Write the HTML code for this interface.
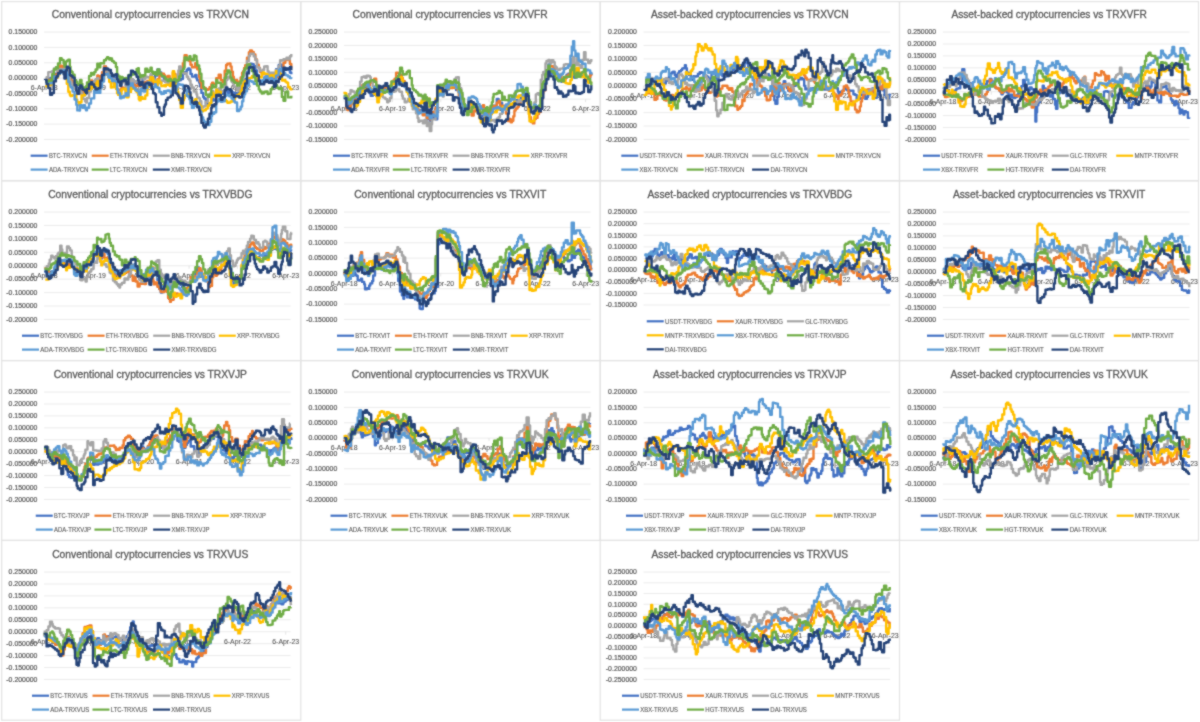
<!DOCTYPE html>
<html><head><meta charset="utf-8"><style>
html,body{margin:0;padding:0;background:#fff;}
svg{display:block;font-family:"Liberation Sans",sans-serif;}
</style></head><body>
<svg width="1200" height="722" viewBox="0 0 1200 722">
<defs><filter id="bl" x="0" y="0" width="1200" height="722" filterUnits="userSpaceOnUse" color-interpolation-filters="sRGB"><feConvolveMatrix order="3" kernelMatrix="1 2 1 2 12 2 1 2 1" preserveAlpha="true" edgeMode="duplicate"/></filter></defs>
<rect width="1200" height="722" fill="#fff"/>
<g filter="url(#bl)"><rect width="1200" height="722" fill="#fff"/>
<rect x="1.7" y="1.6" width="299.1" height="179.2" fill="none" stroke="#E3E3E3" stroke-width="1.2"/>
<rect x="300.8" y="1.6" width="299.4" height="179.2" fill="none" stroke="#E3E3E3" stroke-width="1.2"/>
<rect x="600.2" y="1.6" width="299.3" height="179.2" fill="none" stroke="#E3E3E3" stroke-width="1.2"/>
<rect x="899.5" y="1.6" width="299.0" height="179.2" fill="none" stroke="#E3E3E3" stroke-width="1.2"/>
<rect x="1.7" y="180.8" width="299.1" height="179.8" fill="none" stroke="#E3E3E3" stroke-width="1.2"/>
<rect x="300.8" y="180.8" width="299.4" height="179.8" fill="none" stroke="#E3E3E3" stroke-width="1.2"/>
<rect x="600.2" y="180.8" width="299.3" height="179.8" fill="none" stroke="#E3E3E3" stroke-width="1.2"/>
<rect x="899.5" y="180.8" width="299.0" height="179.8" fill="none" stroke="#E3E3E3" stroke-width="1.2"/>
<rect x="1.7" y="360.6" width="299.1" height="179.8" fill="none" stroke="#E3E3E3" stroke-width="1.2"/>
<rect x="300.8" y="360.6" width="299.4" height="179.8" fill="none" stroke="#E3E3E3" stroke-width="1.2"/>
<rect x="600.2" y="360.6" width="299.3" height="179.8" fill="none" stroke="#E3E3E3" stroke-width="1.2"/>
<rect x="899.5" y="360.6" width="299.0" height="179.8" fill="none" stroke="#E3E3E3" stroke-width="1.2"/>
<rect x="1.7" y="540.4" width="299.1" height="179.8" fill="none" stroke="#E3E3E3" stroke-width="1.2"/>
<rect x="600.2" y="540.4" width="299.3" height="179.8" fill="none" stroke="#E3E3E3" stroke-width="1.2"/>
<g transform="translate(0,0)">
<text x="150.30" y="18.2" text-anchor="middle" font-size="10.6" fill="#595959" stroke="#595959" stroke-width="0.3" textLength="197.2" lengthAdjust="spacingAndGlyphs">Conventional cryptocurrencies vs TRXVCN</text>
<line x1="44.10" x2="290.60" y1="32.05" y2="32.05" stroke="#E9E9E9" stroke-width="0.9"/>
<text x="37.40" y="34.35" text-anchor="end" font-size="7.3" fill="#595959" stroke="#595959" stroke-width="0.22" textLength="28.78" lengthAdjust="spacingAndGlyphs">0.150000</text>
<line x1="44.10" x2="290.60" y1="47.39" y2="47.39" stroke="#E9E9E9" stroke-width="0.9"/>
<text x="37.40" y="49.69" text-anchor="end" font-size="7.3" fill="#595959" stroke="#595959" stroke-width="0.22" textLength="28.78" lengthAdjust="spacingAndGlyphs">0.100000</text>
<line x1="44.10" x2="290.60" y1="62.74" y2="62.74" stroke="#E9E9E9" stroke-width="0.9"/>
<text x="37.40" y="65.04" text-anchor="end" font-size="7.3" fill="#595959" stroke="#595959" stroke-width="0.22" textLength="28.78" lengthAdjust="spacingAndGlyphs">0.050000</text>
<line x1="44.10" x2="290.60" y1="78.08" y2="78.08" stroke="#E9E9E9" stroke-width="0.9"/>
<text x="37.40" y="80.38" text-anchor="end" font-size="7.3" fill="#595959" stroke="#595959" stroke-width="0.22" textLength="28.78" lengthAdjust="spacingAndGlyphs">0.000000</text>
<line x1="44.10" x2="290.60" y1="93.42" y2="93.42" stroke="#E9E9E9" stroke-width="0.9"/>
<text x="37.40" y="95.72" text-anchor="end" font-size="7.3" fill="#595959" stroke="#595959" stroke-width="0.22" textLength="31.07" lengthAdjust="spacingAndGlyphs">-0.050000</text>
<line x1="44.10" x2="290.60" y1="108.76" y2="108.76" stroke="#E9E9E9" stroke-width="0.9"/>
<text x="37.40" y="111.06" text-anchor="end" font-size="7.3" fill="#595959" stroke="#595959" stroke-width="0.22" textLength="31.07" lengthAdjust="spacingAndGlyphs">-0.100000</text>
<line x1="44.10" x2="290.60" y1="124.11" y2="124.11" stroke="#E9E9E9" stroke-width="0.9"/>
<text x="37.40" y="126.41" text-anchor="end" font-size="7.3" fill="#595959" stroke="#595959" stroke-width="0.22" textLength="31.07" lengthAdjust="spacingAndGlyphs">-0.150000</text>
<line x1="44.10" x2="290.60" y1="139.45" y2="139.45" stroke="#E9E9E9" stroke-width="0.9"/>
<text x="37.40" y="141.75" text-anchor="end" font-size="7.3" fill="#595959" stroke="#595959" stroke-width="0.22" textLength="31.07" lengthAdjust="spacingAndGlyphs">-0.200000</text>
<text x="44.2" y="90.38" text-anchor="middle" font-size="6.9" fill="#595959" stroke="#595959" stroke-width="0.1">6-Apr-18</text>
<line x1="44.20" x2="44.20" y1="78.08" y2="81.08" stroke="#DDDDDD" stroke-width="0.8"/>
<text x="92.5" y="90.38" text-anchor="middle" font-size="6.9" fill="#595959" stroke="#595959" stroke-width="0.1">6-Apr-19</text>
<line x1="92.50" x2="92.50" y1="78.08" y2="81.08" stroke="#DDDDDD" stroke-width="0.8"/>
<text x="140.8" y="90.38" text-anchor="middle" font-size="6.9" fill="#595959" stroke="#595959" stroke-width="0.1">6-Apr-20</text>
<line x1="140.80" x2="140.80" y1="78.08" y2="81.08" stroke="#DDDDDD" stroke-width="0.8"/>
<text x="189.1" y="90.38" text-anchor="middle" font-size="6.9" fill="#595959" stroke="#595959" stroke-width="0.1">6-Apr-21</text>
<line x1="189.10" x2="189.10" y1="78.08" y2="81.08" stroke="#DDDDDD" stroke-width="0.8"/>
<text x="237.4" y="90.38" text-anchor="middle" font-size="6.9" fill="#595959" stroke="#595959" stroke-width="0.1">6-Apr-22</text>
<line x1="237.40" x2="237.40" y1="78.08" y2="81.08" stroke="#DDDDDD" stroke-width="0.8"/>
<text x="285.7" y="90.38" text-anchor="middle" font-size="6.9" fill="#595959" stroke="#595959" stroke-width="0.1">6-Apr-23</text>
<line x1="285.70" x2="285.70" y1="78.08" y2="81.08" stroke="#DDDDDD" stroke-width="0.8"/>
<path transform="scale(0.1)" d="M453 815h13v-15h17v-8h18v-12h20v6h18v-33h20v-15h7v5h14v-28h20v-22h16v4h20v-17h8v26h14v-30h10v39h15v34h15v26h7v22h10v16h11v13h20v29h17v18h10v3h18v43h9v-16h15v21h9v26h7v3h19v-11h10v-8h10v-35h21v-61h19v-17h11v26h21v-19h14v-26h17v-19h10v58h20v-28h17v-55h20v-91h20v16h11v25h12v24h9v7h9v-14h8v27h11v33h16v-24h7v15h16v-3h12v37h11v16h19v14h14v-35h11v9h14v5h17v35h7v38h21v-42h7v-16h18v-40h19v5h7v15h18v10h12v4h15v-4h7v1h8v-1h10v-35h20v25h10v17h17v3h20v-8h20v-9h12v-48h12v37h15v-6h17v-56h9v11h17v-61h19v30h19v28h7v13h20v29h9v20h11v7h16v-6h20v20h12v-2h20v-25h14v12h12v51h11v-30h9v-31h9v-4h9v-4h16v-12h21v-64h10v13h7v-16h21v-25h15v-13h12v9h11v45h15v27h18h14v-17h13v36h7v19h20v23h8v37h14v65h18v41h9v15h17v56h21v10h16v-18h18v-29h8v-19h13v21h9v-10h19v-67h11v21h14v-23h21v12h18v-4h21v-26h14v-15h13v33h18v-15h13v-4h11v13h13v3h9v16h12v-7h21v16h21v-26h15v-19h14v-46h12v-29h8v-30h11v-7h18v-72h19v-58h12v-24h18v3h18v22h17v41h16v48h18v49h12v18h17v-12h11v-5h14v-9h17v-4h17v6h11v-4h20v-9h16v19h16v-9h7v-31h14v-69h11v11h16v-53h14v-4h18v46h16v-2h18v-9h12h16v17h18v27h14v17" fill="none" stroke="#4472C4" stroke-width="24.0" stroke-linejoin="round"/>
<path transform="scale(0.1)" d="M453 804h13v8h17v-16h18v6h20v-4h18v-24h20v-23h7v-12h14v-42h20v-40h16v11h20v-11h8v40h14v-22h10v32h15v36h15v29h7v28h10v11h11v28h20v49h17v23h10v10h18v16h9v-21h15v-4h9v16h7v-8h19v-23h10v-1h10v-34h21v-54h19v-4h11v33h21v-19h14v-15h17v-49h10v40h20v-35h17v-37h20v-58h20v38h11v18h12v35h9v-16h9v-9h8v25h11v45h16v28h7v3h16v18h12v41h11v7h19v11h14v-33h11v2h14v13h17v37h7v35h21v-70h7v7h18v-36h19v-29h7v15h18v12h12v-4h15v-18h7v15h8v5h10v-37h20v16h10v6h17v-23h20v-12h20v-2h12v-47h12v58h15v21h17v-15h9v27h17v-59h19v-36h19v-22h7v2h20v15h9v17h11v2h16v-10h20v35h12v12h20v-81h14v13h12v36h11v-6h9v6h9v-5h9v-31h16v-36h21v-72h10v-26h7v-52h21v38h15v11h12v9h11v37h15v26h18v-1h14v-41h13v9h7v51h20v81h8v44h14v62h18v-2h9v2h17v20h21v-7h16v-19h18v-31h8v-16h13v15h9v-2h19v-57h11v-1h14v-33h21v53h18v22h21v-115h14v-58h13v-14h18v-2h13v30h11v53h13v50h9v30h12v3h21v39h21v-21h15v-43h14v-47h12v-19h8v-30h11v-27h18v-75h19v-55h12v-17h18v14h18v26h17v50h16v53h18v29h12v41h17v16h11v10h14v-3h17v-1h17v19h11v6h20v-23h16v4h16v28h7v-3h14v-20h11v16h16v-36h14v-27h18v-13h16v-63h18v-27h12h16v-2h18v40h14v36" fill="none" stroke="#ED7D31" stroke-width="24.0" stroke-linejoin="round"/>
<path transform="scale(0.1)" d="M453 801h13v-28h17v-52h18v-1h20v-9h18v-27h20v10h7v12h14v-12h20v-5h16v12h20v-11h8v16h14v-30h10v30h15v75h15v23h7v15h10v20h11v22h20v26h17v5h10v8h18v11h9v7h15v20h9v37h7v14h19v24h10v12h10v-45h21v-64h19v-72h11v-20h21v-17h14v-16h17v-10h10v57h20v-22h17v-50h20v-74h20v3h11v14h12v26h9v3h9v-20h8v18h11v53h16v5h7v1h16v8h12v22h11v-8h19v6h14v-28h11v27h14v-5h17v46h7v39h21v-72h7h18v-37h19v12h7v9h18v5h12v-7h15v-15h7v5h8v1h10v-50h20v18h10v21h17v-26h20v6h20v6h12v-36h12v29h15v23h17v10h9v48h17v-22h19v2h19v-27h7v2h20h9v14h11v-18h16v24h20v20h12v9h20v-50h14h12v21h11v-44h9v-38h9v-40h9v-40h16v32h21v29h10v9h7v-3h21v36h15v21h12v15h11v43h15v28h18v40h14v-1h13v31h7v33h20v6h8v29h14v63h18v-11h9v-4h17v-44h21v-64h16v-15h18v-18h8v-11h13v45h9v5h19v-67h11v8h14v-16h21v30h18v-4h21v-58h14v-52h13v-34h18v17h13v1h11v33h13v18h9v30h12v6h21v35h21v-27h15v-31h14v-55h12v-38h8v-21h11v-48h18v-77h19v-50h12v-23h18v1h18v27h17v36h16v71h18v11h12v25h17v-1h11v-9h14v-32h17v-3h17v50h11v35h20v-21h16v2h16v29h7v-18h14v-40h11v13h16v-53h14v-57h18v3h16v-14h18v1h12v-14h16v14h18v-30h14v-23" fill="none" stroke="#A5A5A5" stroke-width="24.0" stroke-linejoin="round"/>
<path transform="scale(0.1)" d="M453 861h13v2h17v-11h18v-8h20v-14h18v-47h20v-17h7v10h14v-34h20v-16h16v-5h20v-8h8v14h14v24h10v86h15v80h15v31h7v12h10v-3h11v-6h20v2h17v43h10v25h18v29h9v-28h15v-68h9v3h7v-4h19v-48h10v12h10v-15h21v-9h19v-34h11v16h21v-18h14v-20h17v-26h10v53h20v-23h17v-44h20v-57h20v5h11h12v27h9v45h9v6h8v53h11v-3h16v-40h7v15h16v40h12v44h11v17h19v-9h14v-44h11v-5h14v-4h17v43h7v43h21v-62h7v8h18v-40h19v10h7v-6h18v22h12v15h15v29h7v43h8v12h10v-33h20v18h10h17v-35h20v-87h20v-60h12v-34h12v2h15v39h17v13h9v35h17v-63h19v25h19v36h7v1h20v-9h9v10h11v-14h16v1h20v11h12v-63h20v-84h14v41h12v93h11v32h9v38h9v32h9v52h16v76h21v-75h10v-20h7v-28h21v-4h15v-6h12v2h11v38h15v28h18v8h14v-29h13v31h7v11h20v15h8v14h14v51h18v-8h9v-2h17v-17h21v-31h16v-26h18v-54h8v-47h13v21h9v16h19v-69h11v26h14v-5h21v52h18v25h21v6h14v12h13v15h18v-1h13v-12h11v2h13v-23h9v2h12v-29h21v-17h21v-11h15v-31h14v-45h12v-24h8v-22h11v-10h18v-12h19v-13h12v-1h18v-17h18v-6h17v24h16v8h18v-18h12v3h17v-38h11v-11h14v12h17v6h17v22h11v6h20v-19h16v8h16v8h7v-19h14v-38h11v17h16v10h14v3h18v65h16v-7h18v17h12v10h16v44h18v20h14v14" fill="none" stroke="#FFC000" stroke-width="24.0" stroke-linejoin="round"/>
<path transform="scale(0.1)" d="M453 815h13v-2h17v20h18h20v-15h18v-51h20v-2h7v-1h14v-26h20v-10h16v-16h20v-10h8v27h14v-19h10v39h15v71h15v33h7v15h10v10h11v38h20v79h17v53h10v56h18v1h9v-52h15v2h9v23h7v-26h19v30h10v20h10v-25h21v-42h19v-49h11v-2h21v-77h14v21h17v-24h10v25h20v-57h17v-57h20v-75h20v5h11v-7h12v33h9v6h9v-18h8v24h11v28h16v-8h7v8h16v5h12v79h11v36h19v51h14v-17h11v10h14v-17h17v-25h7v22h21v-94h7v-6h18v-21h19v31h7v16h18v19h12v9h15v5h7v23h8v12h10v-62h20v23h10v6h17v-39h20v-53h20v2h12v17h12v30h15h17v-30h9v26h17v11h19v40h19v20h7v-2h20v-27h9v18h11v-20h16v-4h20v9h12v15h20v-30h14v-23h12v31h11v-34h9v-23h9v-10h9v5h16v2h21v16h10v21h7v14h21v60h15v10h12v24h11v49h15v38h18v-18h14v-41h13v28h7v11h20v13h8v45h14v57h18v28h9v17h17v31h21h16v-32h18v-58h8v-32h13v9h9v-14h19v-100h11v-11h14v-19h21v24h18v-5h21v-52h14v-14h13v6h18v10h13v1h11v22h13v5h9v22h12v13h21v85h21v-16h15v-28h14v-53h12v-42h8v-28h11v-31h18v-57h19v-51h12v7h18v7h18v20h17v-1h16v-26h18v-8h12v28h17v-18h11v-10h14v-30h17v-10h17v21h11v9h20v-13h16v19h16v37h7v-15h14v-65h11v-2h16v-52h14v-15h18v29h16v13h18v20h12v5h16v11h18v16h14v-9" fill="none" stroke="#5B9BD5" stroke-width="24.0" stroke-linejoin="round"/>
<path transform="scale(0.1)" d="M453 818h13v-2h17v-9h18v-2h20v-63h18v-50h20v-20h7v10h14v-47h20v-54h16v18h20v33h8v34h14v-50h10v-10h15v-8h15v69h7v39h10v13h11v28h20v54h17v18h10v28h18v-7h9v-40h15v40h9v36h7v5h19v-10h10v-10h10v-37h21v-65h19v-29h11v16h21v-25h14v-26h17v-59h10v37h20v-40h17v1h20v-31h20v-17h11v-14h12v8h9v16h9v-14h8v3h11v25h16v9h7v10h16v41h12v74h11v21h19v38h14v-34h11v13h14v25h17v-27h7v10h21v-41h7v22h18v-38h19v12h7v-2h18v-19h12v-34h15v-9h7v52h8v37h10v-16h20v9h10v-11h17v-64h20v30h20v-14h12v-28h12v42h15v19h17v-14h9v25h17v-54h19v43h19v16h7v8h20v5h9v17h11v11h16v17h20v-21h12v17h20v-2h14v-16h12v27h11v-15h9v1h9v-5h9v-32h16v-52h21v-22h10v-17h7v-99h21v25h15v-14h12v-24h11v28h15v12h18v-48h14v8h13v44h7v48h20v35h8v49h14v73h18v58h9v21h17v58h21v19h16v-19h18v-68h8v-31h13v23h9v-5h19v-67h11v27h14v1h21v44h18v-28h21v-66h14v-38h13v-35h18v18h13v51h11v30h13v-5h9v19h12v11h21v26h21v-23h15v-28h14v-37h12v-45h8v-25h11v-17h18v-34h19v-5h12v31h18v38h18v63h17v37h16v46h18v38h12v21h17v21h11v-3h14v-16h17v-2h17v26h11v-5h20v-43h16v-20h16v-3h7v-8h14v-11h11v26h16v13h14v-10h18v89h16v39h18v-88h12v-6h16v60h18h14v-17" fill="none" stroke="#70AD47" stroke-width="24.0" stroke-linejoin="round"/>
<path transform="scale(0.1)" d="M450 801v-1h16v41h17v40h18v67h20v-18h18v-116h20v-34h7v-18h14v-29h20v-26h16v12h20v24h8v42h14v-81h10v-36h15v13h15v69h7v5h10v5h11v16h20v77h17v51h10v33h18v-57h9v-25h15v13h9v24h7v6h19v18h10v13h10v-40h21v-46h19v-22h11v24h21v26h14v21h17v-4h10v-7h20v-75h17v-56h20v-67h20v11h11v-7h12v9h9v7h9v-4h8v32h11v30h16v-5h7v-8h16v-6h12v51h11v24h19v40h14v-45h11v-2h14v-14h17v20h7v27h21v-88h7v-1h18v-48h19v8h7v8h18v19h12v26h15v35h7v36h8v15h10v-31h20v27h10v32h17v-47h20v-5h20v22h12v-11h12v50h15v43h17v9h9v81h17v49h19v55h19v30h7v-9h20v-80h9v-23h11v-46h16v-23h20v-5h12v-17h20v-129h14v33h12v72h11v5h9v11h9v16h9v19h16v54h21v-104h10v-22h7v-51h21v3h15v20h12v42h11v55h15v48h18v13h14v-19h13v3h7v50h20v32h8v44h14v80h18v29h9v18h17v-32h21v-56h16v-52h18v-58h8v-27h13v13h9v-22h19v-92h11v10h14v-10h21v47h18v-25h21v-72h14v-25h13v16h18v2h13v9h11v46h13v5h9v18h12v-11h21v3h21v12h15v-4h14v-37h12v-14h8v-42h11v-43h18v-101h19v-57h12v-8h18v5h18v38h17v34h16v13h18v50h12v33h17v-2h11v4h14v-24h17v-16h17v15h11v8h20v-14h16v14h16v43h7v-10h14v-47h11v8h16v-32h14v-23h18v-15h16v-75h18v21h12v-7h16v-2h18v-18h14v32" fill="none" stroke="#264478" stroke-width="24.0" stroke-linejoin="round"/>
<line x1="30.60" x2="47.60" y1="155.70" y2="155.70" stroke="#4472C4" stroke-width="2.2"/>
<text x="48.90" y="158.10" font-size="6.9" fill="#595959" stroke="#595959" stroke-width="0.12" textLength="38.0" lengthAdjust="spacingAndGlyphs">BTC-TRXVCN</text>
<line x1="91.70" x2="108.70" y1="155.70" y2="155.70" stroke="#ED7D31" stroke-width="2.2"/>
<text x="110.00" y="158.10" font-size="6.9" fill="#595959" stroke="#595959" stroke-width="0.12" textLength="38.3" lengthAdjust="spacingAndGlyphs">ETH-TRXVCN</text>
<line x1="152.80" x2="169.80" y1="155.70" y2="155.70" stroke="#A5A5A5" stroke-width="2.2"/>
<text x="171.10" y="158.10" font-size="6.9" fill="#595959" stroke="#595959" stroke-width="0.12" textLength="39.3" lengthAdjust="spacingAndGlyphs">BNB-TRXVCN</text>
<line x1="213.90" x2="230.90" y1="155.70" y2="155.70" stroke="#FFC000" stroke-width="2.2"/>
<text x="232.20" y="158.10" font-size="6.9" fill="#595959" stroke="#595959" stroke-width="0.12" textLength="38.1" lengthAdjust="spacingAndGlyphs">XRP-TRXVCN</text>
<line x1="30.60" x2="47.60" y1="169.60" y2="169.60" stroke="#5B9BD5" stroke-width="2.2"/>
<text x="48.90" y="172.00" font-size="6.9" fill="#595959" stroke="#595959" stroke-width="0.12" textLength="39.6" lengthAdjust="spacingAndGlyphs">ADA-TRXVCN</text>
<line x1="91.70" x2="108.70" y1="169.60" y2="169.60" stroke="#70AD47" stroke-width="2.2"/>
<text x="110.00" y="172.00" font-size="6.9" fill="#595959" stroke="#595959" stroke-width="0.12" textLength="37.1" lengthAdjust="spacingAndGlyphs">LTC-TRXVCN</text>
<line x1="152.80" x2="169.80" y1="169.60" y2="169.60" stroke="#264478" stroke-width="2.2"/>
<text x="171.10" y="172.00" font-size="6.9" fill="#595959" stroke="#595959" stroke-width="0.12" textLength="40.6" lengthAdjust="spacingAndGlyphs">XMR-TRXVCN</text>
</g>
<g transform="translate(300,0)">
<text x="150.20" y="18.2" text-anchor="middle" font-size="10.6" fill="#595959" stroke="#595959" stroke-width="0.3" textLength="195.2" lengthAdjust="spacingAndGlyphs">Conventional cryptocurrencies vs TRXVFR</text>
<line x1="44.00" x2="290.50" y1="32.05" y2="32.05" stroke="#E9E9E9" stroke-width="0.9"/>
<text x="37.30" y="34.35" text-anchor="end" font-size="7.3" fill="#595959" stroke="#595959" stroke-width="0.22" textLength="28.78" lengthAdjust="spacingAndGlyphs">0.250000</text>
<line x1="44.00" x2="290.50" y1="45.47" y2="45.47" stroke="#E9E9E9" stroke-width="0.9"/>
<text x="37.30" y="47.77" text-anchor="end" font-size="7.3" fill="#595959" stroke="#595959" stroke-width="0.22" textLength="28.78" lengthAdjust="spacingAndGlyphs">0.200000</text>
<line x1="44.00" x2="290.50" y1="58.90" y2="58.90" stroke="#E9E9E9" stroke-width="0.9"/>
<text x="37.30" y="61.20" text-anchor="end" font-size="7.3" fill="#595959" stroke="#595959" stroke-width="0.22" textLength="28.78" lengthAdjust="spacingAndGlyphs">0.150000</text>
<line x1="44.00" x2="290.50" y1="72.32" y2="72.32" stroke="#E9E9E9" stroke-width="0.9"/>
<text x="37.30" y="74.62" text-anchor="end" font-size="7.3" fill="#595959" stroke="#595959" stroke-width="0.22" textLength="28.78" lengthAdjust="spacingAndGlyphs">0.100000</text>
<line x1="44.00" x2="290.50" y1="85.75" y2="85.75" stroke="#E9E9E9" stroke-width="0.9"/>
<text x="37.30" y="88.05" text-anchor="end" font-size="7.3" fill="#595959" stroke="#595959" stroke-width="0.22" textLength="28.78" lengthAdjust="spacingAndGlyphs">0.050000</text>
<line x1="44.00" x2="290.50" y1="99.17" y2="99.17" stroke="#E9E9E9" stroke-width="0.9"/>
<text x="37.30" y="101.47" text-anchor="end" font-size="7.3" fill="#595959" stroke="#595959" stroke-width="0.22" textLength="28.78" lengthAdjust="spacingAndGlyphs">0.000000</text>
<line x1="44.00" x2="290.50" y1="112.60" y2="112.60" stroke="#E9E9E9" stroke-width="0.9"/>
<text x="37.30" y="114.90" text-anchor="end" font-size="7.3" fill="#595959" stroke="#595959" stroke-width="0.22" textLength="31.07" lengthAdjust="spacingAndGlyphs">-0.050000</text>
<line x1="44.00" x2="290.50" y1="126.02" y2="126.02" stroke="#E9E9E9" stroke-width="0.9"/>
<text x="37.30" y="128.32" text-anchor="end" font-size="7.3" fill="#595959" stroke="#595959" stroke-width="0.22" textLength="31.07" lengthAdjust="spacingAndGlyphs">-0.100000</text>
<line x1="44.00" x2="290.50" y1="139.45" y2="139.45" stroke="#E9E9E9" stroke-width="0.9"/>
<text x="37.30" y="141.75" text-anchor="end" font-size="7.3" fill="#595959" stroke="#595959" stroke-width="0.22" textLength="31.07" lengthAdjust="spacingAndGlyphs">-0.150000</text>
<text x="44.1" y="111.47" text-anchor="middle" font-size="6.9" fill="#595959" stroke="#595959" stroke-width="0.1">6-Apr-18</text>
<line x1="44.10" x2="44.10" y1="99.17" y2="102.17" stroke="#DDDDDD" stroke-width="0.8"/>
<text x="92.4" y="111.47" text-anchor="middle" font-size="6.9" fill="#595959" stroke="#595959" stroke-width="0.1">6-Apr-19</text>
<line x1="92.40" x2="92.40" y1="99.17" y2="102.17" stroke="#DDDDDD" stroke-width="0.8"/>
<text x="140.7" y="111.47" text-anchor="middle" font-size="6.9" fill="#595959" stroke="#595959" stroke-width="0.1">6-Apr-20</text>
<line x1="140.70" x2="140.70" y1="99.17" y2="102.17" stroke="#DDDDDD" stroke-width="0.8"/>
<text x="189.0" y="111.47" text-anchor="middle" font-size="6.9" fill="#595959" stroke="#595959" stroke-width="0.1">6-Apr-21</text>
<line x1="189.00" x2="189.00" y1="99.17" y2="102.17" stroke="#DDDDDD" stroke-width="0.8"/>
<text x="237.3" y="111.47" text-anchor="middle" font-size="6.9" fill="#595959" stroke="#595959" stroke-width="0.1">6-Apr-22</text>
<line x1="237.30" x2="237.30" y1="99.17" y2="102.17" stroke="#DDDDDD" stroke-width="0.8"/>
<text x="285.6" y="111.47" text-anchor="middle" font-size="6.9" fill="#595959" stroke="#595959" stroke-width="0.1">6-Apr-23</text>
<line x1="285.60" x2="285.60" y1="99.17" y2="102.17" stroke="#DDDDDD" stroke-width="0.8"/>
<path transform="scale(0.1)" d="M446 967v-1h17v35h11v36h15v34h16v-24h9v-19h9v1h20v-21h7v-13h20v-23h11v-25h20v-43h15v-15h19v-24h16v5h15v-2h20v42h13v24h9v25h19v-11h15v-16h20v-16h11v52h16v-57h7v-17h11v-2h20v2h8v-1h19v-1h18v-12h11v17h16v16h16v-39h20v-2h11v-3h15v-37h20v2h12v-1h8v-13h19v10h8v8h19v33h20v27h16v1h15v59h20v58h9v37h12v16h21v15h16v8h9v35h11v-23h18v-4h14v47h17v-20h11v15h12v46h13v-51h16v72h16v-16h8v-39h17v24h18v14h17v-256h12v-2h12v-7h20v-3h11v13h9v-28h20v-31h12v17h21v-24h19v7h20v-8h16v-21h15v51h15v-20h13v44h11v37h14v50h12v90h15v-17h9v-20h19v13h18v-76h20v18h10v25h21v38h8v-9h17v5h9v12h7v16h18v31h12v25h20v-7h13v28h18v-32h9v-5h8v45h17v-16h13v-58h13v-6h10v-32h7v-23h12h20v-66h18v30h14v8h21v50h7v-16h20v10h12h20h8v-25h19v3h13v11h13v-10h11v-40h13v-8h18v13h13v-3h20v-36h20v38h10v-23h20v-32h18v7h11v76h8v37h15v21h19v-27h14v-21h15v8h17v10h15v10h18v-134h15v-71h10v-42h7v-15h15v-71h10v-24h19v-47h11v64h18v-11h21v10h13v44h14v-10h10v9h12v27h17v-6h14v14h16v-9h9v-31h16v-1h10v-29h19v-12h20v2h14v-19h13v-10h11v68h12v-2h14v-63h18v33h20v16h17v8h17v-11h15v50h8v-17h19v-14h20v-41h11v15" fill="none" stroke="#4472C4" stroke-width="24.0" stroke-linejoin="round"/>
<path transform="scale(0.1)" d="M446 967v1h17v111h11v21h15v-29h16v-25h9v-18h9v-7h20v-27h7v-6h20v-35h11v-34h20v-55h15v-10h19v-12h16v13h15v-6h20v4h13v-25h9v-2h19v-14h15v-24h20v65h11v77h16v-41h7v-12h11v-2h20v13h8v-14h19v-6h18v23h11v-3h16v-24h16v-48h20v-13h11v-16h15v-59h20v2h12v16h8v3h19v30h8v30h19v32h20v42h16v23h15v59h20v39h9v45h12v9h21v13h16v27h9v29h11v-13h18v7h14v31h17v-40h11v25h12v44h13v-51h16v62h16v-42h8v-28h17v33h18v-76h17v-197h12v24h12v-7h20v-1h11v2h9v-29h20v-57h12v40h21v-17h19v44h20v-2h16v-27h15v14h15v33h13v56h11v8h14v72h12v42h15v24h9v-15h19v15h18v-85h20v17h10v122h21v-47h8v4h17v-24h9v-5h7v11h18v-9h12v-17h20v-16h13v60h18v-16h9v7h8v36h17v-32h13v-39h13h10v2h7v-10h12v19h20v-53h18v-17h14v47h21v29h7v-27h20v35h12v42h20v75h8v-21h19v34h13v-16h13v-45h11v-57h13v-20h18v-17h13v-25h20v-39h20v4h10v-40h20h18v41h11v99h8v64h15v48h19v14h14v-43h15v-12h17v-39h15v-21h18v-123h15v-60h10v-36h7v3h15v-106h10v-42h19v-109h11v19h18v-4h21v17h13v55h14v-4h10v19h12v7h17v-8h14v39h16v26h9v-16h16v-16h10v-21h19v-12h20v-49h14v-54h13v11h11v66h12v8h14v-46h18v44h20v4h17v-1h17v3h15v62h8v-17h19v-9h20v-19h11v-12" fill="none" stroke="#ED7D31" stroke-width="24.0" stroke-linejoin="round"/>
<path transform="scale(0.1)" d="M446 980v-1h17v-16h11v4h15v-26h16v-38h9v2h9v10h20v9h7v5h20v7h11v-19h20v-101h15v-45h19v-7h16v14h15v-21h20v3h13v12h9v33h19v57h15v23h20v28h11v68h16v-35h7h11v8h20v17h8v5h19v15h18v31h11v-12h16v-30h16v-64h20v2h11v-6h15v-17h20v-5h12v25h8v3h19v39h8v29h19v37h20v-9h16v-28h15v32h20v43h9v32h12v1h21v39h16v47h9v37h11v-10h18v-1h14v27h17v-33h11v5h12v55h13v-36h16v86h16v-67h8v-49h17h18v-88h17v-174h12v8h12v-19h20v12h11v32h9v-37h20v-66h12v-1h21v-24h19v1h20v-11h16v-38h15v-14h15v-2h13v67h11v43h14v63h12v65h15v39h9v29h19v23h18v-102h20v10h10v17h21v23h8v11h17v4h9v4h7v21h18v28h12v20h20v-6h13v31h18v-21h9v11h8v53h17v8h13v-8h13v-3h10v3h7v-7h12v20h20v-31h18v-16h14v-33h21v-9h7v-42h20v6h12v6h20v-6h8v-44h19v-8h13v10h13v-4h11v-30h13v-2h18h13v-14h20v11h20v25h10v-27h20v-36h18v-13h11v72h8v39h15v19h19v-8h14v-60h15v-80h17v-13h15v16h18v-151h15v-50h10v-26h7v3h15v-90h10v-23h19v-10h11v35h18v-32h21v18h13v44h14v9h10v18h12v5h17v-11h14h16v-9h9v-31h16v-3h10v-2h19v14h20v-23h14v-45h13v-18h11v62h12v19h14v-67h18v69h20v26h17v-79h17v-76h15v72h8v3h19v32h20v-20h11v-20" fill="none" stroke="#A5A5A5" stroke-width="24.0" stroke-linejoin="round"/>
<path transform="scale(0.1)" d="M446 918v15h17v31h11v41h15v9h16h9v-12h9v20h20v23h7v18h20v-10h11v-35h20v-68h15v-37h19v-21h16v5h15v-10h20v-2h13v-6h9v15h19v30h15v19h20v19h11v61h16v-40h7v-22h11v-19h20v-29h8v-4h19v-7h18v-9h11v1h16v3h16v-56h20h11v-13h15v-23h20v-9h12v1h8v-24h19v23h8v27h19v38h20v60h16v23h15v64h20v34h9v24h12v10h21v-25h16v12h9h11v-30h18v-25h14v20h17v-56h11v13h12v41h13v-38h16v77h16v-16h8v-18h17v6h18v-50h17v-92h12v39h12v-17h20v15h11v-21h9v-21h20v-36h12v30h21v-18h19v-5h20v-1h16v-20h15v38h15h13v41h11v26h14v52h12v70h15v-1h9v7h19v26h18v-76h20v2h10v21h21v24h8v11h17v9h9v6h7v34h18v56h12v36h20v-30h13v14h18v-50h9v15h8v40h17v-16h13v-53h13v-15h10v-1h7v-8h12v4h20v-26h18v-20h14v6h21v12h7v-24h20v16h12v1h20v8h8v-50h19v-8h13v8h13v-19h11v-56h13v-6h18v11h13v-20h20v-4h20v45h10v-11h20v-2h18v53h11v103h8v73h15v4h19v-8h14v-40h15v-31h17v-21h15v-21h18v-135h15v-64h10v-48h7v-14h15v-86h10v-26h19v-54h11v43h18v-16h21v18h13v34h14v-6h10v17h12v39h17v-3h14v6h16v17h9v-18h16v30h10v5h19v5h20v-39h14v-57h13v-34h11v17h12v1h14v-47h18v57h20v33h17h17v-30h15v46h8v-13h19v55h20v-10h11v-1" fill="none" stroke="#FFC000" stroke-width="24.0" stroke-linejoin="round"/>
<path transform="scale(0.1)" d="M446 978v-4h17v8h11v26h15v28h16v-8h9v-15h9v-34h20v-13h7v5h20v-30h11v-16h20v-49h15v7h19v-39h16v9h15v-16h20v38h13v18h9v16h19v-13h15v-25h20v18h11v57h16v-26h7v-4h11v-1h20v-5h8v-1h19v-9h18v8h11v15h16v18h16v-63h20v-7h11v5h15v-31h20h12v5h8v-15h19v8h8v12h19v13h20v35h16v11h15v51h20v52h9v37h12v24h21v14h16v29h9v14h11v-10h18v-16h14v11h17v-33h11v11h12v55h13v-43h16v73h16v-18h8v-21h17v12h18v8h17v-208h12h12v-18h20v16h11v-10h9v-50h20v-58h12v41h21v-24h19v-7h20v6h16v-11h15v34h15v5h13v42h11v44h14v70h12v86h15v-40h9v-19h19v-8h18v-77h20v-4h10v-9h21v5h8v9h17v11h9v26h7v25h18v22h12v27h20v8h13v53h18v-20h9v16h8v61h17v-28h13v-51h13v-8h10v-31h7v-6h12v-1h20v-10h18v7h14v6h21v30h7v-26h20v-28h12v-17h20v-7h8v-25h19v-28h13v11h13v-2h11v-38h13v-47h18v-67h13v-2h20v28h20v86h10v-26h20v-13h18v44h11v52h8v22h15v40h19v-3h14v-23h15v14h17v4h15v-7h18v-124h15v-53h10v-49h7v6h15v-95h10v-35h19v-62h11v54h18v-7h21v7h13v40h14v-24h10v20h12v43h17v-25h14v-14h16v-15h9v-35h16v-7h10v-6h19v-22h20v-97h14v-92h13v-54h11v92h12v57h14v-24h18v68h20v15h17v19h17v-3h15v73h8v-11h19v6h20v22h11v18" fill="none" stroke="#5B9BD5" stroke-width="24.0" stroke-linejoin="round"/>
<path transform="scale(0.1)" d="M446 957v-1h17v21h11v18h15v2h16v-13h9v-10h9v-7h20v-12h7v-2h20v-45h11v-20h20v-8h15v-1h19v-31h16v-21h15v-10h20v6h13v-15h9v-4h19v-1h15v15h20v35h11v63h16v-46h7v5h11v24h20v16h8v13h19v-9h18v-18h11v-26h16v-17h16v-44h20v1h11v-1h15v-33h20v-25h12v-21h8v-57h19v32h8v36h19v-4h20v-23h16v-13h15v75h20v72h9v36h12v15h21v17h16v14h9v21h11v-9h18v16h14v29h17v-46h11v24h12v40h13v-24h16v71h16v-17h8v-17h17v2h18v-7h17v-167h12v13h12v-16h20v5h11v3h9v-18h20v-42h12v21h21v-5h19v21h20v-16h16v-16h15v28h15v-4h13v63h11v13h14v25h12v61h15v53h9v40h19v71h18v-40h20v6h10v-44h21v-41h8v17h17v11h9v22h7v22h18v23h12v-1h20v-23h13v4h18v-28h9v-6h8v46h17v-23h13v-40h13v-35h10v-49h7v-33h12v2h20v-8h18v-23h14v17h21v72h7v-32h20v33h12v1h20v3h8v-49h19v-1h13v15h13v-3h11v-32h13v-18h18v-9h13h20v-12h20v30h10v-26h20v-19h18v51h11v65h8v24h15v59h19v-3h14v-9h15v23h17v-10h15v-22h18v-153h15v-65h10v-22h7v-6h15v-73h10v-37h19v-44h11v57h18v-4h21v18h13v65h14v-13h10v15h12v14h17v-1h14v-15h16v18h9v-43h16v3h10v-5h19v2h20v-66h14v-29h13v-22h11v88h12v32h14v-44h18v40h20v-32h17v-17h17v-27h15v56h8v18h19v25h20v33h11v30" fill="none" stroke="#70AD47" stroke-width="24.0" stroke-linejoin="round"/>
<path transform="scale(0.1)" d="M446 981v1h17v81h11v18h15v4h16v24h9v11h9v-25h20v-64h7v-23h20v20h11v-38h20v-35h15v24h19v-40h16v-32h15v-13h20v28h13v-4h9v3h19v-6h15v-23h20v15h11v47h16v-97h7v4h11v16h20v-13h8v-7h19v-26h18v28h11v28h16v28h16v-15h20v-23h11v-5h15v-64h20v-16h12v45h8v7h19v15h8v-1h19v-28h20v62h16v-5h15v38h20v37h9v25h12v43h21v8h16v8h9v12h11h18v15h14v32h17v-75h11v-2h12v97h13v-27h16v36h16v-48h8v-32h17v-31h18v-17h17v-141h12v17h12v-6h20v6h11v34h9v-14h20v10h12v37h21v-5h19v4h20v58h16v-33h15v1h15v7h13v53h11v44h14v54h12v18h15v-40h9v-24h19v2h18v-68h20v-7h10v10h21v15h8v4h17v31h9v29h7v34h18v42h12v9h20v51h13v25h18v-87h9v4h8v62h17v13h13v-10h13v56h10v23h7v-30h12v-37h20v-56h18v9h14v-6h21v34h7v-16h20v-12h12v-16h20v-57h8v-56h19v-10h13v5h13v-12h11v-30h13v10h18h13v1h20v1h20v13h10v-48h20v-69h18v17h11v87h8v25h15v51h19v13h14v-27h15v-35h17v10h15v31h18v-26h15v-108h10v-81h7v1h15v-62h10v-46h19v-78h11v48h18v2h21v31h13v83h14v-5h10v25h12v37h17v-21h14v21h16v33h9v-12h16v10h10v-19h19v-40h20v5h14v-2h13v-58h11v12h12v69h14v-5h18v9h20v-7h17v-10h17v-120h15v61h8v-3h19v63h20v-25h11v-44" fill="none" stroke="#264478" stroke-width="24.0" stroke-linejoin="round"/>
<line x1="33.00" x2="50.00" y1="155.70" y2="155.70" stroke="#4472C4" stroke-width="2.2"/>
<text x="51.30" y="158.10" font-size="6.9" fill="#595959" stroke="#595959" stroke-width="0.12" textLength="36.7" lengthAdjust="spacingAndGlyphs">BTC-TRXVFR</text>
<line x1="92.80" x2="109.80" y1="155.70" y2="155.70" stroke="#ED7D31" stroke-width="2.2"/>
<text x="111.10" y="158.10" font-size="6.9" fill="#595959" stroke="#595959" stroke-width="0.12" textLength="37.0" lengthAdjust="spacingAndGlyphs">ETH-TRXVFR</text>
<line x1="152.60" x2="169.60" y1="155.70" y2="155.70" stroke="#A5A5A5" stroke-width="2.2"/>
<text x="170.90" y="158.10" font-size="6.9" fill="#595959" stroke="#595959" stroke-width="0.12" textLength="38.0" lengthAdjust="spacingAndGlyphs">BNB-TRXVFR</text>
<line x1="212.40" x2="229.40" y1="155.70" y2="155.70" stroke="#FFC000" stroke-width="2.2"/>
<text x="230.70" y="158.10" font-size="6.9" fill="#595959" stroke="#595959" stroke-width="0.12" textLength="36.8" lengthAdjust="spacingAndGlyphs">XRP-TRXVFR</text>
<line x1="33.00" x2="50.00" y1="169.60" y2="169.60" stroke="#5B9BD5" stroke-width="2.2"/>
<text x="51.30" y="172.00" font-size="6.9" fill="#595959" stroke="#595959" stroke-width="0.12" textLength="38.2" lengthAdjust="spacingAndGlyphs">ADA-TRXVFR</text>
<line x1="92.80" x2="109.80" y1="169.60" y2="169.60" stroke="#70AD47" stroke-width="2.2"/>
<text x="111.10" y="172.00" font-size="6.9" fill="#595959" stroke="#595959" stroke-width="0.12" textLength="35.8" lengthAdjust="spacingAndGlyphs">LTC-TRXVFR</text>
<line x1="152.60" x2="169.60" y1="169.60" y2="169.60" stroke="#264478" stroke-width="2.2"/>
<text x="170.90" y="172.00" font-size="6.9" fill="#595959" stroke="#595959" stroke-width="0.12" textLength="39.3" lengthAdjust="spacingAndGlyphs">XMR-TRXVFR</text>
</g>
<g transform="translate(600,0)">
<text x="149.80" y="18.2" text-anchor="middle" font-size="10.6" fill="#595959" stroke="#595959" stroke-width="0.3" textLength="197.5" lengthAdjust="spacingAndGlyphs">Asset-backed cryptocurrencies vs TRXVCN</text>
<line x1="43.60" x2="290.10" y1="32.05" y2="32.05" stroke="#E9E9E9" stroke-width="0.9"/>
<text x="36.90" y="34.35" text-anchor="end" font-size="7.3" fill="#595959" stroke="#595959" stroke-width="0.22" textLength="28.78" lengthAdjust="spacingAndGlyphs">0.200000</text>
<line x1="43.60" x2="290.10" y1="45.47" y2="45.47" stroke="#E9E9E9" stroke-width="0.9"/>
<text x="36.90" y="47.77" text-anchor="end" font-size="7.3" fill="#595959" stroke="#595959" stroke-width="0.22" textLength="28.78" lengthAdjust="spacingAndGlyphs">0.150000</text>
<line x1="43.60" x2="290.10" y1="58.90" y2="58.90" stroke="#E9E9E9" stroke-width="0.9"/>
<text x="36.90" y="61.20" text-anchor="end" font-size="7.3" fill="#595959" stroke="#595959" stroke-width="0.22" textLength="28.78" lengthAdjust="spacingAndGlyphs">0.100000</text>
<line x1="43.60" x2="290.10" y1="72.32" y2="72.32" stroke="#E9E9E9" stroke-width="0.9"/>
<text x="36.90" y="74.62" text-anchor="end" font-size="7.3" fill="#595959" stroke="#595959" stroke-width="0.22" textLength="28.78" lengthAdjust="spacingAndGlyphs">0.050000</text>
<line x1="43.60" x2="290.10" y1="85.75" y2="85.75" stroke="#E9E9E9" stroke-width="0.9"/>
<text x="36.90" y="88.05" text-anchor="end" font-size="7.3" fill="#595959" stroke="#595959" stroke-width="0.22" textLength="28.78" lengthAdjust="spacingAndGlyphs">0.000000</text>
<line x1="43.60" x2="290.10" y1="99.17" y2="99.17" stroke="#E9E9E9" stroke-width="0.9"/>
<text x="36.90" y="101.47" text-anchor="end" font-size="7.3" fill="#595959" stroke="#595959" stroke-width="0.22" textLength="31.07" lengthAdjust="spacingAndGlyphs">-0.050000</text>
<line x1="43.60" x2="290.10" y1="112.60" y2="112.60" stroke="#E9E9E9" stroke-width="0.9"/>
<text x="36.90" y="114.90" text-anchor="end" font-size="7.3" fill="#595959" stroke="#595959" stroke-width="0.22" textLength="31.07" lengthAdjust="spacingAndGlyphs">-0.100000</text>
<line x1="43.60" x2="290.10" y1="126.02" y2="126.02" stroke="#E9E9E9" stroke-width="0.9"/>
<text x="36.90" y="128.32" text-anchor="end" font-size="7.3" fill="#595959" stroke="#595959" stroke-width="0.22" textLength="31.07" lengthAdjust="spacingAndGlyphs">-0.150000</text>
<line x1="43.60" x2="290.10" y1="139.45" y2="139.45" stroke="#E9E9E9" stroke-width="0.9"/>
<text x="36.90" y="141.75" text-anchor="end" font-size="7.3" fill="#595959" stroke="#595959" stroke-width="0.22" textLength="31.07" lengthAdjust="spacingAndGlyphs">-0.200000</text>
<text x="43.7" y="98.05" text-anchor="middle" font-size="6.9" fill="#595959" stroke="#595959" stroke-width="0.1">6-Apr-18</text>
<line x1="43.70" x2="43.70" y1="85.75" y2="88.75" stroke="#DDDDDD" stroke-width="0.8"/>
<text x="92.0" y="98.05" text-anchor="middle" font-size="6.9" fill="#595959" stroke="#595959" stroke-width="0.1">6-Apr-19</text>
<line x1="92.00" x2="92.00" y1="85.75" y2="88.75" stroke="#DDDDDD" stroke-width="0.8"/>
<text x="140.3" y="98.05" text-anchor="middle" font-size="6.9" fill="#595959" stroke="#595959" stroke-width="0.1">6-Apr-20</text>
<line x1="140.30" x2="140.30" y1="85.75" y2="88.75" stroke="#DDDDDD" stroke-width="0.8"/>
<text x="188.6" y="98.05" text-anchor="middle" font-size="6.9" fill="#595959" stroke="#595959" stroke-width="0.1">6-Apr-21</text>
<line x1="188.60" x2="188.60" y1="85.75" y2="88.75" stroke="#DDDDDD" stroke-width="0.8"/>
<text x="236.9" y="98.05" text-anchor="middle" font-size="6.9" fill="#595959" stroke="#595959" stroke-width="0.1">6-Apr-22</text>
<line x1="236.90" x2="236.90" y1="85.75" y2="88.75" stroke="#DDDDDD" stroke-width="0.8"/>
<text x="285.2" y="98.05" text-anchor="middle" font-size="6.9" fill="#595959" stroke="#595959" stroke-width="0.1">6-Apr-23</text>
<line x1="285.20" x2="285.20" y1="85.75" y2="88.75" stroke="#DDDDDD" stroke-width="0.8"/>
<path transform="scale(0.1)" d="M453 811h11v-17h15v-23h18v37h15v31h13v-12h20v-5h14v-31h15v7h9v3h16v2h9v8h7v22h11v3h15v-1h18v-26h10v-24h21v-28h19v-20h8v-12h13v-9h17v34h12v19h18v-35h14v-21h20v-14h11v-15h9v-2h18v-31h10v32h10v43h20v23h19v50h15v-9h10v-29h9v4h12v1h10v-3h15v-23h18v-19h20v7h19v27h15v12h8v-9h9v9h15v43h18v-26h14v-53h11v-11h21v21h15v38h11v22h13v-59h19v-8h19v28h19v6h14v-5h17h14v-4h17v-43h18v-19h18v-14h9v-5h10v-29h14v18h8v-14h19v15h9v10h13v-33h8v22h15v-46h15v-11h12v26h9v34h19v27h13v-2h13v31h16v30h11v-13h19v19h11v18h12v-23h20v15h13v13h7v-4h16v-37h15h13v-2h9v18h15v16h20v182h19v45h11v35h20v-70h14v-54h9v-23h9v-18h16v-26h15v-35h16v50h18v21h11v24h13v7h20v-62h9v3h14v4h16v-5h11v-21h20v-67h9v27h21v-13h8v13h19v65h11v36h14v-7h19v3h21v-6h19v-1h10v12h13v1h12v-47h16v-18h20v-17h10v-2h17v33h16v50h18v-13h15v-3h17v6h16v-6h7v5h11v2h7v-7h12v-1h18v4h18v33h7v17h7v-7h15v-9h14v-10h16v-13h19v-21h14v31h13v-1h9v7h13v-3h11h17v36h17v7h16v40h20v1h11v-37h11v-7h11v-41h13v47h20v37h15v-18h12v-27h19v-31h15v-16h13v-14h15v39h11v55h15v-30h13v-73h17v-4h7v15h20v18h21v51h19v28h13v5h14v-39h8v7" fill="none" stroke="#4472C4" stroke-width="24.0" stroke-linejoin="round"/>
<path transform="scale(0.1)" d="M453 893h11v5h15v35h18v-21h15v25h13v-8h20v70h14v-8h15v-38h9v-2h16v-29h9v20h7v16h11v5h15v37h18v5h10v-4h21h19v-29h8v-23h13v7h17v39h12v-34h18v-19h14v-12h20v-21h11v-14h9v-7h18v1h10v-18h10v15h20v18h19v-32h15v7h10v-27h9v22h12v13h10v21h15v2h18v-8h20v-49h19v28h15v16h8v6h9v2h15v24h18v-4h14v-8h11v2h21v28h15v18h11v-6h13v-39h19v-34h19v-28h19v-1h14h17v23h14v17h17v-16h18v36h18v68h9v77h10v-4h14v40h8v-12h19v-16h9v-11h13v-62h8v14h15v-60h15v-16h12v-21h9v-12h19v-63h13v2h13v10h16v-72h11v-39h19v95h11v-18h12v41h20v18h13v19h7v17h16v49h15v41h13v2h9v-6h15v-44h20v-105h19v23h11v35h20v-73h14v-4h9v16h9v57h16v-12h15v-48h16v1h18v14h11v31h13v22h20v-58h9h14v-62h16v-40h11v6h20v-18h9v-1h21v-23h8v-8h19v48h11v23h14v18h19v5h21v-9h19v-7h10v27h13v17h12v19h16v-3h20v12h10v8h17v8h16v-2h18v11h15v19h17v7h16v-24h7v-1h11v-12h7v53h12v21h18v18h18v29h7v-35h7v-2h15v-12h14v-32h16v-46h19v-11h14v23h13v44h9v43h13v48h11v3h17v23h17v58h16v26h20v-13h11v-45h11v-50h11v-37h13v-34h20v-38h15v-9h12v-3h19v37h15v-13h13v-17h15v-14h11v-59h15v11h13v-12h17v39h7v28h20v-40h21v14h19v6h13v-4h14v-28h8v-32" fill="none" stroke="#ED7D31" stroke-width="24.0" stroke-linejoin="round"/>
<path transform="scale(0.1)" d="M453 816h11v5h15v-6h18v-5h15v-30h13v18h20v5h14v-11h15v1h9v4h16v-5h9v10h7v12h11v-5h15v-20h18v-8h10v12h21v37h19v-10h8v19h13v-19h17v-7h12v29h18v-52h14v-44h20v-2h11v16h9v30h18v47h10v-11h10v21h20v9h19v-4h15v38h10v8h9v20h12v-1h10v-23h15v9h18v-51h20v-41h19v-42h15v-16h8v20h9v19h15v74h18v3h14v12h11v34h21v92h15v95h11v60h13v-28h19v-37h19v-71h19v-63h14v-24h17v35h14v15h17v6h18v-40h18v-7h9v-30h10v-16h14v13h8v42h19v-13h9v-12h13v-22h8v10h15v-17h15v-35h12v24h9v-7h19v12h13v-2h13v35h16v-11h11v-29h19v-41h11v-28h12v-18h20v8h13v3h7v-49h16v-22h15v34h13v-3h9v20h15v1h20v44h19v-12h11v22h20v15h14v4h9v-19h9v18h16v-2h15v-8h16v-6h18v-2h11v-13h13v17h20v7h9v23h14v36h16h11v14h20v17h9v47h21v58h8v-6h19v-46h11v-18h14v-53h19v-123h21v-8h19v-13h10v11h13v1h12v-17h16v-41h20v-9h10v-16h17v-96h16v35h18v62h15v18h17v10h16v14h7v-16h11v-40h7v12h12v-1h18v-28h18v18h7v-10h7v12h15v4h14v15h16v6h19v24h14v-5h13v4h9h13v28h11v-6h17v-5h17v68h16v24h20v57h11v-1h11v-17h11v25h13h20v-10h15v-3h12v-7h19v-5h15v-17h13v-2h15v-7h11v-53h15v20h13v6h17v-26h7v-20h20v1h21v74h19v79h13v93h14h8v-57" fill="none" stroke="#A5A5A5" stroke-width="24.0" stroke-linejoin="round"/>
<path transform="scale(0.1)" d="M446 942v5h18v-27h15v-38h18v36h15v20h13v-46h20v-68h14v-1h15v-19h9v-1h16v-8h9v-13h7v58h11v7h15v52h18v38h10v46h21v76h19v36h8v-29h13v-65h17v-41h12v-25h18v-57h14v-11h20v9h11v-62h9v-16h18v-27h10v-49h10v15h20v4h19v-34h15v-16h10v-48h9v8h12v-89h10v-41h15v-80h18v22h20v43h19v-30h15v-35h8v14h9v27h15v21h18v-22h14v33h11v31h21v95h15v62h11v61h13v-76h19v-26h19v12h19v32h14v36h17v16h14v-5h17v-102h18v22h18v-19h9v-26h10v-58h14v22h8v66h19v31h9v-2h13v-6h8v27h15v-2h15v-22h12v20h9v34h19v-1h13v-16h13v-12h16v68h11v-9h19v-55h11v-35h12v-4h20v42h13v-12h7v-34h16v-65h15v71h13v7h9v-34h15v19h20v44h19v21h11h20v-23h14v-37h9v-26h9v-42h16v10h15v35h16v48h18v22h11v26h13v5h20v10h9v-14h14v6h16v11h11v14h20v-37h9v11h21v-17h8v-41h19v41h11v-6h14v-35h19v-23h21v6h19v47h10v11h13v18h12v-10h16v31h20v75h10v38h17v-35h16v14h18v3h15v7h17v1h16v29h7v-5h11v-21h7v64h12v71h18v83h18v-51h7v-29h7v-4h15v23h14v-19h16v6h19v71h14v-2h13v-38h9v-21h13v6h11v13h17v-31h17v-8h16v-13h20v-36h11v-42h11v-21h11v-21h13v15h20v11h15v27h12v4h19v-9h15v12h13v47h15v-28h11v-98h15v-52h13v-41h17v1h7v18h20v41h21v40h19v-29h13v31h14v-19h8v-81" fill="none" stroke="#FFC000" stroke-width="24.0" stroke-linejoin="round"/>
<path transform="scale(0.1)" d="M453 783h11v-9h15v-35h18v72h15v28h13v-34h20v-21h14v-17h15v14h9v4h16v-6h9v-45h7v-13h11v-12h15v7h18v-44h10v19h21v62h19v43h8v-8h13v-7h17v35h12v31h18v34h14v-15h20v-62h11v2h9v-6h18v-15h10v-20h10v26h20v12h19v-29h15v3h10h9v41h12v17h10v38h15v-24h18v-31h20v-38h19v-46h15v-40h8v-8h9v9h15v34h18v-10h14v8h11v14h21v-42h15v36h11v29h13v-23h19v-31h19v-102h19v30h14v25h17v57h14v14h17v-56h18v-19h18v-29h9v34h10v21h14v10h8v24h19v10h9v-4h13v-9h8v43h15v-24h15v-46h12v29h9v21h19v20h13v14h13v31h16v87h11h19v56h11v-3h12v-15h20v-29h13v-7h7v-10h16v12h15v45h13v-23h9v-8h15v-48h20v27h19v32h11v17h20v-32h14v-42h9v-4h9v16h16v29h15v20h16v66h18v-7h11v2h13v6h20v-39h9v-14h14v39h16v-7h11v21h20v24h9v37h21v-42h8v-36h19v3h11v-9h14v-25h19v-36h21v-18h19v10h10v-6h13v34h12v-28h16v-13h20v-37h10v-41h17v12h16v-5h18v65h15v15h17v-13h16v-10h7v-34h11v-25h7v16h12v10h18v-18h18v-29h7v-14h7v-1h15v-17h14v-1h16v-33h19v-11h14v-19h13v-10h9v-15h13v14h11v-15h17v5h17v4h16v-55h20v22h11v-6h11v10h11v-39h13v-25h20v-31h15v45h12v45h19v9h15v-37h13v-18h15v17h11v-71h15v-35h13v-11h17v-2h7v47h20v-38h21v17h19v38h13v14h14v-65h8v-11" fill="none" stroke="#5B9BD5" stroke-width="24.0" stroke-linejoin="round"/>
<path transform="scale(0.1)" d="M453 849h11v-51h15h18v36h15v47h13v11h20v20h14v29h15v-3h9v-4h16v-5h9v-12h7v21h11v47h15v4h18v-41h10v-8h21v88h19v-36h8v-19h13v32h17v43h12v36h18v-71h14v-45h20v-36h11v-17h9v22h18v-5h10v-17h10v51h20v-4h19v-51h15v-7h10v-23h9v-18h12v-16h10v-14h15v-27h18v-26h20h19v29h15v69h8v-1h9v7h15v-40h18v-15h14v-21h11v-38h21v42h15v51h11v47h13v5h19v43h19v-3h19v145h14v-1h17v-49h14h17v3h18h18v-53h9v-27h10v-66h14v-32h8v-10h19v-20h9v-5h13v-10h8v12h15v-19h15v-30h12v-5h9v-18h19v-113h13v2h13v-22h16v6h11v-20h19v83h11v39h12v2h20v23h13v-4h7v9h16v-1h15v3h13v20h9v-2h15v-18h20v-62h19v58h11v44h20v-13h14v-11h9v-15h9v-12h16v-13h15v-58h16v38h18v35h11v9h13v-7h20v6h9v25h14v40h16v-12h11v12h20v28h9v19h21v47h8v5h19v92h11v-3h14v8h19v29h21v-27h19v-75h10v-49h13v-43h12v-43h16v35h20v32h10v1h17v-62h16v-51h18v-30h15v17h17v50h16v30h7v-10h11v-10h7v8h12v38h18v-24h18v-19h7v-15h7v-18h15v-40h14v-45h16v-62h19v-20h14v-8h13v-16h9v-26h13v-18h11v-22h17v39h17v67h16v54h20v57h11v11h11v28h11v-19h13v-10h20v-2h15v-2h12v13h19v32h15v5h13h15v-3h11v-85h15v-9h13v-14h17v37h7v-10h20v-52h21v9h19v33h13v58h14v8h8v23" fill="none" stroke="#70AD47" stroke-width="24.0" stroke-linejoin="round"/>
<path transform="scale(0.1)" d="M446 891v6h18v-47h15v12h18v-20h15v-49h13v21h20v4h14v25h15v16h9v-20h16v34h9v13h7v46h11v3h15v33h18v-9h10v-37h21v32h19v45h8v-26h13v19h17h12v-23h18v-24h14v-13h20v-6h11v14h9v1h18v36h10v-4h10v48h20v41h19v-3h15v-2h10v20h9v12h12v-35h10v-10h15v-24h18v36h20v-18h19v-61h15v-36h8v-12h9v-17h15v-34h18v-11h14v-39h11v13h21v115h15v-24h11v-35h13v-92h19v-5h19v-6h19v-54h14v-18h17v37h14v-11h17v-24h18v3h18h9v-9h10v-11h14v-53h8v29h19v9h9v-22h13v-20h8v-24h15v-28h15v-14h12v17h9v29h19v23h13v30h13v-7h16v33h11v-26h19v44h11v33h12v-8h20v-20h13v-18h7v10h16v-28h15v-22h13v-63h9v8h15v13h20v52h19v50h11h20v22h14v-17h9v-32h9v-1h16v-38h15h16v-1h18v24h11v-4h13v8h20v5h9v-15h14v-24h16v-94h11v13h20v-33h9v6h21v-47h8v21h19v35h11v-65h14v28h19v55h21v128h19v54h10v4h13v7h12v-56h16v-115h20v-22h10v41h17v18h16v28h18v40h15v46h17v-22h16v-92h7v-41h11v-45h7v70h12v10h18v3h18h7v-18h7v-7h15v25h14v47h16v19h19v2h14v73h13v42h9v4h13v-14h11v-22h17v-46h17v-12h16v-22h20v14h11v-24h11v-68h11v18h13v24h20v53h15v1h12v20h19v1h15v-12h13v37h15v36h11v4h15v66h13v32h17v38h7v50h20v222h21v39h19v-85h13v29h14v-55h8v60" fill="none" stroke="#264478" stroke-width="24.0" stroke-linejoin="round"/>
<line x1="21.30" x2="38.30" y1="155.70" y2="155.70" stroke="#4472C4" stroke-width="2.2"/>
<text x="39.60" y="158.10" font-size="6.9" fill="#595959" stroke="#595959" stroke-width="0.12" textLength="42.7" lengthAdjust="spacingAndGlyphs">USDT-TRXVCN</text>
<line x1="86.70" x2="103.70" y1="155.70" y2="155.70" stroke="#ED7D31" stroke-width="2.2"/>
<text x="105.00" y="158.10" font-size="6.9" fill="#595959" stroke="#595959" stroke-width="0.12" textLength="43.3" lengthAdjust="spacingAndGlyphs">XAUR-TRXVCN</text>
<line x1="152.10" x2="169.10" y1="155.70" y2="155.70" stroke="#A5A5A5" stroke-width="2.2"/>
<text x="170.40" y="158.10" font-size="6.9" fill="#595959" stroke="#595959" stroke-width="0.12" textLength="38.2" lengthAdjust="spacingAndGlyphs">GLC-TRXVCN</text>
<line x1="217.50" x2="234.50" y1="155.70" y2="155.70" stroke="#FFC000" stroke-width="2.2"/>
<text x="235.80" y="158.10" font-size="6.9" fill="#595959" stroke="#595959" stroke-width="0.12" textLength="44.9" lengthAdjust="spacingAndGlyphs">MNTP-TRXVCN</text>
<line x1="21.30" x2="38.30" y1="169.60" y2="169.60" stroke="#5B9BD5" stroke-width="2.2"/>
<text x="39.60" y="172.00" font-size="6.9" fill="#595959" stroke="#595959" stroke-width="0.12" textLength="38.1" lengthAdjust="spacingAndGlyphs">XBX-TRXVCN</text>
<line x1="86.70" x2="103.70" y1="169.60" y2="169.60" stroke="#70AD47" stroke-width="2.2"/>
<text x="105.00" y="172.00" font-size="6.9" fill="#595959" stroke="#595959" stroke-width="0.12" textLength="39.3" lengthAdjust="spacingAndGlyphs">HGT-TRXVCN</text>
<line x1="152.10" x2="169.10" y1="169.60" y2="169.60" stroke="#264478" stroke-width="2.2"/>
<text x="170.40" y="172.00" font-size="6.9" fill="#595959" stroke="#595959" stroke-width="0.12" textLength="37.1" lengthAdjust="spacingAndGlyphs">DAI-TRXVCN</text>
</g>
<g transform="translate(900,0)">
<text x="149.10" y="18.2" text-anchor="middle" font-size="10.6" fill="#595959" stroke="#595959" stroke-width="0.3" textLength="195.4" lengthAdjust="spacingAndGlyphs">Asset-backed cryptocurrencies vs TRXVFR</text>
<line x1="42.90" x2="289.40" y1="32.05" y2="32.05" stroke="#E9E9E9" stroke-width="0.9"/>
<text x="36.20" y="34.35" text-anchor="end" font-size="7.3" fill="#595959" stroke="#595959" stroke-width="0.22" textLength="28.78" lengthAdjust="spacingAndGlyphs">0.250000</text>
<line x1="42.90" x2="289.40" y1="43.98" y2="43.98" stroke="#E9E9E9" stroke-width="0.9"/>
<text x="36.20" y="46.28" text-anchor="end" font-size="7.3" fill="#595959" stroke="#595959" stroke-width="0.22" textLength="28.78" lengthAdjust="spacingAndGlyphs">0.200000</text>
<line x1="42.90" x2="289.40" y1="55.92" y2="55.92" stroke="#E9E9E9" stroke-width="0.9"/>
<text x="36.20" y="58.22" text-anchor="end" font-size="7.3" fill="#595959" stroke="#595959" stroke-width="0.22" textLength="28.78" lengthAdjust="spacingAndGlyphs">0.150000</text>
<line x1="42.90" x2="289.40" y1="67.85" y2="67.85" stroke="#E9E9E9" stroke-width="0.9"/>
<text x="36.20" y="70.15" text-anchor="end" font-size="7.3" fill="#595959" stroke="#595959" stroke-width="0.22" textLength="28.78" lengthAdjust="spacingAndGlyphs">0.100000</text>
<line x1="42.90" x2="289.40" y1="79.78" y2="79.78" stroke="#E9E9E9" stroke-width="0.9"/>
<text x="36.20" y="82.08" text-anchor="end" font-size="7.3" fill="#595959" stroke="#595959" stroke-width="0.22" textLength="28.78" lengthAdjust="spacingAndGlyphs">0.050000</text>
<line x1="42.90" x2="289.40" y1="91.72" y2="91.72" stroke="#E9E9E9" stroke-width="0.9"/>
<text x="36.20" y="94.02" text-anchor="end" font-size="7.3" fill="#595959" stroke="#595959" stroke-width="0.22" textLength="28.78" lengthAdjust="spacingAndGlyphs">0.000000</text>
<line x1="42.90" x2="289.40" y1="103.65" y2="103.65" stroke="#E9E9E9" stroke-width="0.9"/>
<text x="36.20" y="105.95" text-anchor="end" font-size="7.3" fill="#595959" stroke="#595959" stroke-width="0.22" textLength="31.07" lengthAdjust="spacingAndGlyphs">-0.050000</text>
<line x1="42.90" x2="289.40" y1="115.58" y2="115.58" stroke="#E9E9E9" stroke-width="0.9"/>
<text x="36.20" y="117.88" text-anchor="end" font-size="7.3" fill="#595959" stroke="#595959" stroke-width="0.22" textLength="31.07" lengthAdjust="spacingAndGlyphs">-0.100000</text>
<line x1="42.90" x2="289.40" y1="127.52" y2="127.52" stroke="#E9E9E9" stroke-width="0.9"/>
<text x="36.20" y="129.82" text-anchor="end" font-size="7.3" fill="#595959" stroke="#595959" stroke-width="0.22" textLength="31.07" lengthAdjust="spacingAndGlyphs">-0.150000</text>
<line x1="42.90" x2="289.40" y1="139.45" y2="139.45" stroke="#E9E9E9" stroke-width="0.9"/>
<text x="36.20" y="141.75" text-anchor="end" font-size="7.3" fill="#595959" stroke="#595959" stroke-width="0.22" textLength="31.07" lengthAdjust="spacingAndGlyphs">-0.200000</text>
<text x="43.0" y="104.02" text-anchor="middle" font-size="6.9" fill="#595959" stroke="#595959" stroke-width="0.1">6-Apr-18</text>
<line x1="43.00" x2="43.00" y1="91.72" y2="94.72" stroke="#DDDDDD" stroke-width="0.8"/>
<text x="91.3" y="104.02" text-anchor="middle" font-size="6.9" fill="#595959" stroke="#595959" stroke-width="0.1">6-Apr-19</text>
<line x1="91.30" x2="91.30" y1="91.72" y2="94.72" stroke="#DDDDDD" stroke-width="0.8"/>
<text x="139.6" y="104.02" text-anchor="middle" font-size="6.9" fill="#595959" stroke="#595959" stroke-width="0.1">6-Apr-20</text>
<line x1="139.60" x2="139.60" y1="91.72" y2="94.72" stroke="#DDDDDD" stroke-width="0.8"/>
<text x="187.9" y="104.02" text-anchor="middle" font-size="6.9" fill="#595959" stroke="#595959" stroke-width="0.1">6-Apr-21</text>
<line x1="187.90" x2="187.90" y1="91.72" y2="94.72" stroke="#DDDDDD" stroke-width="0.8"/>
<text x="236.2" y="104.02" text-anchor="middle" font-size="6.9" fill="#595959" stroke="#595959" stroke-width="0.1">6-Apr-22</text>
<line x1="236.20" x2="236.20" y1="91.72" y2="94.72" stroke="#DDDDDD" stroke-width="0.8"/>
<text x="284.5" y="104.02" text-anchor="middle" font-size="6.9" fill="#595959" stroke="#595959" stroke-width="0.1">6-Apr-23</text>
<line x1="284.50" x2="284.50" y1="91.72" y2="94.72" stroke="#DDDDDD" stroke-width="0.8"/>
<path transform="scale(0.1)" d="M439 883v2h10v-12h20v26h20v40h12v-1h16v-11h8v-14h14v-5h19v-11h7v-11h20v-3h18v-53h20v-139h20v78h13v30h11v53h9v-3h15v-16h18v29h8v-1h12v15h17v16h8v2h19v12h7v40h8v-32h14v-42h18v5h20v-24h12v-11h16v-31h10v1h20v-22h16v24h16v26h20v35h10v7h20v3h11v16h10v15h14v26h12v-17h10v-20h15v3h13v14h20v45h20v-20h17v28h20v6h11v-11h16v-21h14v-16h17v-27h14v-45h17v-61h19v54h15v32h19v17h13v-29h20v17h19v56h7v110h11v159h9v-93h8v-70h12v-32h17v-40h11v-40h16v-84h11v24h10v4h11v70h8v3h9v-25h8v10h17v23h19v-21h10v45h21v57h9v40h14v-80h8v-74h16v-16h9v-13h17v-24h14v-3h18v40h8v44h8v-11h10v-3h16v10h9v-2h8v-8h8v35h19h14v15h12v-5h16v2h18v7h9v-11h18v-13h14v-1h10v30h14v29h17v-40h8v-31h10v14h7v17h10v-8h10v-18h20v-9h15v-25h19v40h8v-28h20v29h10v1h19v-61h13v-4h10v-1h12v6h16v10h13v12h16v27h17v-9h14v-10h10v5h16v27h9v-17h13v-38h15v16h7v35h10v-7h9v11h11v23h10v17h10v7h17v53h20v-1h8v-34h15v-22h21v-19h8v-2h8v-27h13v-26h10v-34h19h9v-13h15v-3h16v-16h12v-32h20v11h9v19h14v-15h11v-52h20v10h18v64h20v117h17v20h20v-149h18v-4h13v-7h15v-10h8v38h20v21h9v26h15v54h9v11h7v12h17v37h14v-44h10v30h19v42h12v54h8v-37h19v31h11v16h9v-33h15v10h20v55h14v-1" fill="none" stroke="#4472C4" stroke-width="24.0" stroke-linejoin="round"/>
<path transform="scale(0.1)" d="M439 938v11h10v21h20v-4h20v-6h12v-25h16v18h8h14v-5h19v11h7v9h20v38h18v4h20v-19h20v-38h13v-2h11v13h9v4h15v-8h18v-18h8v-17h12v24h17v-21h8v20h19v1h7v6h8v10h14v-8h18v12h20v-7h12v-20h16v-23h10v-22h20v-100h16v21h16v32h20v18h10v12h20v9h11v17h10v-21h14v43h12v-15h10v-5h15v-7h13v-32h20v44h20v-23h17v24h20v38h11v6h16v-1h14v5h17v11h14v-5h17v11h19v14h15v17h19v36h13v-26h20v55h19v-61h7v-32h11v-22h9v15h8v-28h12v-27h17v-23h11v26h16v11h11v-13h10v-18h11v17h8v-24h9v-7h8v-23h17v-13h19v-29h10h21v11h9v12h14v6h8v6h16v-1h9v4h17v-27h14v-23h18v-23h8v22h8v-4h10v-23h16v-29h9v18h8v-25h8v34h19v31h14v19h12v-26h16v14h18v-13h9v1h18v-25h14v-16h10v66h14v40h17v15h8v-15h10v-3h7v5h10v-33h10v-36h20v-74h15v15h19v8h8v-2h20v-41h10v10h19v24h13v60h10v-19h12v-28h16v53h13v33h16v31h17v6h14v-3h10v-21h16v-34h9v17h13v-23h15v23h7v63h10v-23h9v22h11v-20h10v2h10v22h17v13h20v-7h8v12h15v19h21v17h8v10h8v-30h13v-13h10v-6h19v64h9v-83h15v-3h16v-14h12v-8h20v15h9v9h14v40h11v-13h20v-33h18v24h20v-10h17v23h20v-10h18v24h13v-29h15v11h8v6h20v6h9v17h15h9v-1h7v2h17v-2h14h10v11h19v-11h12v-16h8v-5h19v7h11v5h9v1h15v-3h20v-27h14v-20" fill="none" stroke="#ED7D31" stroke-width="24.0" stroke-linejoin="round"/>
<path transform="scale(0.1)" d="M439 871v11h10v-10h20v-10h20v5h12v-19h16v-26h8v22h14v-6h19v23h7v-21h20v-53h18v-60h20v-3h20v38h13v-13h11v36h9v23h15v37h18v13h8v10h12v36h17v43h8v-51h19v9h7v18h8v-3h14v-17h18v62h20v8h12v15h16v5h10v10h20v5h16v21h16v-17h20v-4h10v2h20v-22h11v-1h10v14h14v20h12v-13h10v-19h15v2h13v5h20v22h20v-16h17v46h20v32h11v13h16h14v-12h17v4h14v-3h17v-34h19v-15h15v9h19h13v1h20v3h19v1h7v-5h11v7h9v-20h8v-15h12v-17h17v3h11v-13h16v-10h11v-9h10v-24h11v10h8v-29h9v-7h8v-12h17v20h19v-35h10v5h21v-24h9h14v17h8v3h16v-3h9v14h17v-8h14v-14h18h8v21h8v5h10v-5h16h9v39h8h8v26h19v-16h14v-31h12v-23h16h18v-43h9v-20h18v-54h14v-5h10v56h14v3h17v37h8v35h10v2h7v6h10v-5h10v4h20v21h15v20h19v59h8v2h20v-11h10v17h19v7h13v-15h10v-13h12v3h16v-56h13v-30h16v-6h17v-71h14v-67h10v-22h16v-12h9v-3h13v-59h15v64h7v10h10v18h9v-16h11v-15h10v3h10v13h17v-12h20v22h8v42h15v59h21v-48h8v-25h8v-16h13v78h10v6h19v29h9v-22h15v-38h16v-15h12v29h20v-35h9v-32h14v15h11v5h20v11h18v21h20v77h17v-8h20v-55h18v4h13v-9h15v-10h8v7h20v6h9v49h15v21h9v3h7v-33h17v15h14v13h10v-7h19v9h12v-7h8v15h19v-34h11v-26h9v3h15v5h20v15h14v17" fill="none" stroke="#A5A5A5" stroke-width="24.0" stroke-linejoin="round"/>
<path transform="scale(0.1)" d="M439 837v6h10v32h20v32h20v53h12v-14h16v-48h8v19h14v5h19v44h7v3h20v56h18v37h20v7h20v-24h13v-62h11v-30h9v-15h15v2h18v-16h8v-7h12v-9h17v-4h8v-23h19v-17h7v2h8v-45h14v18h18h20v-44h12v-38h16v-70h10v-53h20v56h16v10h16v28h20v-30h10v-17h20v-52h11v49h10v36h14v23h12v-15h10v7h15v-38h13v1h20v86h20v-4h17v19h20v28h11v17h16v45h14v-2h17v23h14v48h17v-8h19v2h15v-12h19v41h13v13h20v-30h19v-17h7v14h11v-54h9v-79h8v-22h12v8h17v-2h11v7h16v3h11v-43h10v-4h11v18h8v-17h9v-14h8v-10h17v6h19v-31h10v9h21v-8h9v-6h14v34h8v20h16v13h9v-1h17v13h14v1h18v28h8v-15h8v-22h10v3h16v12h9v50h8v13h8v53h19v28h14v19h12v14h16v14h18v33h9v8h18v-42h14v-20h10v54h14v2h17v-54h8v8h10v-19h7v9h10v-16h10v-13h20v-24h15v-37h19v-36h8v-19h20v6h10v14h19v9h13v19h10v-21h12v1h16v3h13v-7h16v13h17v-3h14v-13h10v5h16v-6h9h13h15v28h7v36h10v5h9v1h11v3h10v9h10v32h17v14h20v-27h8v-5h15v15h21v-62h8v-44h8v8h13v11h10v-13h19v-36h9v-30h15v-43h16v-24h12v-17h20v8h9v11h14v-5h11v-26h20v1h18v34h20v47h17v-28h20v-61h18v22h13v1h15v-28h8v17h20v-29h9v-6h15v33h9v-18h7v-6h17v-10h14v22h10v21h19v9h12v3h8v-2h19v6h11v-3h9v34h15v83h20v10h14v18" fill="none" stroke="#FFC000" stroke-width="24.0" stroke-linejoin="round"/>
<path transform="scale(0.1)" d="M439 886v-2h10v-12h20v-35h20v-9h12v-31h16v-16h8v35h14v-31h19v-22h7v-9h20v-17h18v6h20v21h20v41h13h11v22h9v14h15v39h18v49h8v-34h12v-74h17v-39h8v-11h19v14h7v37h8v-16h14v34h18v45h20v-24h12v9h16v20h10v6h20v-45h16v-19h16v-13h20v-36h10v28h20v-14h11v-12h10v28h14v-43h12v-3h10v-19h15v-20h13v-47h20v-57h20v-5h17v22h20v83h11v56h16v-45h14v-8h17v3h14v-16h17v-43h19v69h15v58h19v41h13v-3h20v-10h19v-32h7v-45h11v-70h9v-23h8v-44h12v14h17v4h11v5h16v52h11v18h10v-22h11v49h8v6h9v-30h8v-44h17v-8h19v-28h10v24h21v25h9v-64h14v-2h8v28h16v49h9v-18h17v30h14v-22h18v-13h8v17h8v10h10v18h16v42h9v-4h8v-28h8v5h19v26h14v17h12v17h16v30h18v32h9v-1h18v13h14v6h10v-7h14v57h17v2h8v1h10v-18h7v2h10v16h10v-17h20v-26h15v5h19v-19h8v-30h20v1h10v3h19v1h13v3h10v13h12v-20h16v-20h13v-1h16v-16h17v15h14v7h10v-3h16v22h9v-12h13v-33h15v4h7v35h10v-39h9v-22h11v-26h10v35h10v-28h17v38h20v32h8v-34h15v27h21v-7h8v-4h8v-20h13v-17h10v-18h19v-74h9h15v1h16v-3h12v11h20v-34h9h14v-17h11v-3h20v-24h18v-12h20v-15h17v-2h20v-67h18v28h13v17h15v15h8v12h20v-9h9v-19h15v-8h9v-42h7v-33h17v69h14v26h10v-4h19v-1h12h8v-76h19h11v12h9v31h15v68h20v-40h14v12" fill="none" stroke="#5B9BD5" stroke-width="24.0" stroke-linejoin="round"/>
<path transform="scale(0.1)" d="M439 934v-7h10v19h20h20v4h12v4h16v15h8v-3h14v-10h19v15h7v-26h20v27h18v13h20v7h20v-52h13v15h11v-8h9v6h15v-25h18v-14h8v-26h12v4h17v14h8v-1h19v10h7v35h8v-23h14v-59h18v13h20v-8h12v-2h16v-5h10v-8h20v-6h16v13h16v-21h20v-30h10v-20h20v-8h11v44h10v23h14v42h12v9h10v-8h15v-5h13v-33h20v-4h20v-3h17v22h20v7h11v-18h16v44h14v14h17v3h14v59h17v84h19v-8h15v-16h19v1h13v-39h20v-9h19v-19h7v-10h11v-40h9v-110h8v-82h12v-27h17v1h11v28h16v30h11v6h10v-6h11v38h8v3h9v-6h8v-15h17v41h19v-10h10v-12h21v50h9v25h14v64h8v36h16v52h9v36h17v7h14v-9h18v-8h8v-2h8v-47h10h16v19h9v-4h8v-64h8v11h19v-7h14v-13h12v-38h16v-20h18v8h9v-7h18v29h14v9h10v16h14v25h17v-32h8v1h10v-18h7v21h10v-9h10v1h20v-15h15v20h19v9h8v-10h20v34h10v6h19v19h13v28h10v-16h12v48h16v59h13v5h16v-49h17v-98h14v-98h10v-17h16v-16h9v14h13v22h15v35h7v29h10v-5h9v-7h11v-10h10v-16h10v-27h17v25h20v-8h8v20h15v17h21v14h8v-6h8v-15h13v22h10v-67h19v-131h9v-44h15v-45h16v-56h12v-50h20v-22h9v-7h14v23h11v8h20v1h18v25h20v60h17v45h20v-67h18v5h13v-2h15v6h8v26h20v-2h9v11h15v-28h9v-9h7v21h17v-12h14v12h10v7h19v-11h12v-36h8v-58h19v25h11v34h9v26h15v1h20v57h14v-12" fill="none" stroke="#70AD47" stroke-width="24.0" stroke-linejoin="round"/>
<path transform="scale(0.1)" d="M439 902v31h10v-54h20v-83h20v3h12v-36h16v65h8v18h14v-27h19v-38h7v8h20v46h18v-12h20v17h20v36h13v-25h11v14h9v-3h15v27h18v53h8v26h12v96h17v64h8v-14h19v18h7v8h8v18h14v-3h18v-15h20v-72h12v33h16v-5h10v59h20v32h16v47h16v-3h20v-69h10v5h20v-28h11v29h10v24h14v-55h12v-72h10v-77h15v-17h13v-11h20v31h20v11h17v45h20v25h11v45h16v-64h14v-43h17v-18h14v-22h17v-52h19v-71h15v51h19v39h13v14h20v-20h19v2h7v-37h11v-5h9v28h8v-1h12v18h17v6h11v18h16v-29h11v-4h10v16h11v13h8v1h9v-21h8v-31h17v17h19v3h10v4h21v-39h9v-20h14v-54h8v13h16v71h9v4h17v26h14v-58h18v-3h8v53h8v16h10v17h16v-4h9v32h8v-8h8v27h19v7h14v-14h12v16h16v8h18v-9h9v4h18v63h14v-5h10v2h14v39h17v-6h8v-34h10v-17h7v-13h10v-42h10v-44h20v9h15v16h19v29h8v-2h20v20h10v9h19v5h13v17h10v19h12v18h16v79h13v50h16v-68h17v-33h14v-34h10v-59h16v-38h9v-59h13v-41h15v39h7v37h10v-4h9v28h11v7h10v5h10h17v-26h20v4h8v1h15v3h21v13h8v40h8v-1h13v8h10v-30h19v-63h9v-39h15v-29h16v19h12v2h20v43h9v-3h14v-3h11v32h20v-29h18v-70h20v-97h17v-81h20v-49h18v44h13v-4h15v-19h8v5h20v-21h9v47h15v47h9v1h7v-75h17v-27h14v-16h10v5h19v9h12v31h8v-34h19v228h11v23h9v-7h15v-8h20v30h14v41" fill="none" stroke="#264478" stroke-width="24.0" stroke-linejoin="round"/>
<line x1="23.00" x2="40.00" y1="155.70" y2="155.70" stroke="#4472C4" stroke-width="2.2"/>
<text x="41.30" y="158.10" font-size="6.9" fill="#595959" stroke="#595959" stroke-width="0.12" textLength="41.4" lengthAdjust="spacingAndGlyphs">USDT-TRXVFR</text>
<line x1="87.40" x2="104.40" y1="155.70" y2="155.70" stroke="#ED7D31" stroke-width="2.2"/>
<text x="105.70" y="158.10" font-size="6.9" fill="#595959" stroke="#595959" stroke-width="0.12" textLength="42.0" lengthAdjust="spacingAndGlyphs">XAUR-TRXVFR</text>
<line x1="151.80" x2="168.80" y1="155.70" y2="155.70" stroke="#A5A5A5" stroke-width="2.2"/>
<text x="170.10" y="158.10" font-size="6.9" fill="#595959" stroke="#595959" stroke-width="0.12" textLength="36.9" lengthAdjust="spacingAndGlyphs">GLC-TRXVFR</text>
<line x1="216.20" x2="233.20" y1="155.70" y2="155.70" stroke="#FFC000" stroke-width="2.2"/>
<text x="234.50" y="158.10" font-size="6.9" fill="#595959" stroke="#595959" stroke-width="0.12" textLength="43.6" lengthAdjust="spacingAndGlyphs">MNTP-TRXVFR</text>
<line x1="23.00" x2="40.00" y1="169.60" y2="169.60" stroke="#5B9BD5" stroke-width="2.2"/>
<text x="41.30" y="172.00" font-size="6.9" fill="#595959" stroke="#595959" stroke-width="0.12" textLength="36.8" lengthAdjust="spacingAndGlyphs">XBX-TRXVFR</text>
<line x1="87.40" x2="104.40" y1="169.60" y2="169.60" stroke="#70AD47" stroke-width="2.2"/>
<text x="105.70" y="172.00" font-size="6.9" fill="#595959" stroke="#595959" stroke-width="0.12" textLength="38.0" lengthAdjust="spacingAndGlyphs">HGT-TRXVFR</text>
<line x1="151.80" x2="168.80" y1="169.60" y2="169.60" stroke="#264478" stroke-width="2.2"/>
<text x="170.10" y="172.00" font-size="6.9" fill="#595959" stroke="#595959" stroke-width="0.12" textLength="35.8" lengthAdjust="spacingAndGlyphs">DAI-TRXVFR</text>
</g>
<g transform="translate(0,180)">
<text x="150.30" y="18.2" text-anchor="middle" font-size="10.6" fill="#595959" stroke="#595959" stroke-width="0.3" textLength="204.3" lengthAdjust="spacingAndGlyphs">Conventional cryptocurrencies vs TRXVBDG</text>
<line x1="44.10" x2="290.60" y1="32.05" y2="32.05" stroke="#E9E9E9" stroke-width="0.9"/>
<text x="37.40" y="34.35" text-anchor="end" font-size="7.3" fill="#595959" stroke="#595959" stroke-width="0.22" textLength="28.78" lengthAdjust="spacingAndGlyphs">0.200000</text>
<line x1="44.10" x2="290.60" y1="45.47" y2="45.47" stroke="#E9E9E9" stroke-width="0.9"/>
<text x="37.40" y="47.77" text-anchor="end" font-size="7.3" fill="#595959" stroke="#595959" stroke-width="0.22" textLength="28.78" lengthAdjust="spacingAndGlyphs">0.150000</text>
<line x1="44.10" x2="290.60" y1="58.90" y2="58.90" stroke="#E9E9E9" stroke-width="0.9"/>
<text x="37.40" y="61.20" text-anchor="end" font-size="7.3" fill="#595959" stroke="#595959" stroke-width="0.22" textLength="28.78" lengthAdjust="spacingAndGlyphs">0.100000</text>
<line x1="44.10" x2="290.60" y1="72.32" y2="72.32" stroke="#E9E9E9" stroke-width="0.9"/>
<text x="37.40" y="74.62" text-anchor="end" font-size="7.3" fill="#595959" stroke="#595959" stroke-width="0.22" textLength="28.78" lengthAdjust="spacingAndGlyphs">0.050000</text>
<line x1="44.10" x2="290.60" y1="85.75" y2="85.75" stroke="#E9E9E9" stroke-width="0.9"/>
<text x="37.40" y="88.05" text-anchor="end" font-size="7.3" fill="#595959" stroke="#595959" stroke-width="0.22" textLength="28.78" lengthAdjust="spacingAndGlyphs">0.000000</text>
<line x1="44.10" x2="290.60" y1="99.17" y2="99.17" stroke="#E9E9E9" stroke-width="0.9"/>
<text x="37.40" y="101.47" text-anchor="end" font-size="7.3" fill="#595959" stroke="#595959" stroke-width="0.22" textLength="31.07" lengthAdjust="spacingAndGlyphs">-0.050000</text>
<line x1="44.10" x2="290.60" y1="112.60" y2="112.60" stroke="#E9E9E9" stroke-width="0.9"/>
<text x="37.40" y="114.90" text-anchor="end" font-size="7.3" fill="#595959" stroke="#595959" stroke-width="0.22" textLength="31.07" lengthAdjust="spacingAndGlyphs">-0.100000</text>
<line x1="44.10" x2="290.60" y1="126.02" y2="126.02" stroke="#E9E9E9" stroke-width="0.9"/>
<text x="37.40" y="128.32" text-anchor="end" font-size="7.3" fill="#595959" stroke="#595959" stroke-width="0.22" textLength="31.07" lengthAdjust="spacingAndGlyphs">-0.150000</text>
<line x1="44.10" x2="290.60" y1="139.45" y2="139.45" stroke="#E9E9E9" stroke-width="0.9"/>
<text x="37.40" y="141.75" text-anchor="end" font-size="7.3" fill="#595959" stroke="#595959" stroke-width="0.22" textLength="31.07" lengthAdjust="spacingAndGlyphs">-0.200000</text>
<text x="44.2" y="98.05" text-anchor="middle" font-size="6.9" fill="#595959" stroke="#595959" stroke-width="0.1">6-Apr-18</text>
<line x1="44.20" x2="44.20" y1="85.75" y2="88.75" stroke="#DDDDDD" stroke-width="0.8"/>
<text x="92.5" y="98.05" text-anchor="middle" font-size="6.9" fill="#595959" stroke="#595959" stroke-width="0.1">6-Apr-19</text>
<line x1="92.50" x2="92.50" y1="85.75" y2="88.75" stroke="#DDDDDD" stroke-width="0.8"/>
<text x="140.8" y="98.05" text-anchor="middle" font-size="6.9" fill="#595959" stroke="#595959" stroke-width="0.1">6-Apr-20</text>
<line x1="140.80" x2="140.80" y1="85.75" y2="88.75" stroke="#DDDDDD" stroke-width="0.8"/>
<text x="189.1" y="98.05" text-anchor="middle" font-size="6.9" fill="#595959" stroke="#595959" stroke-width="0.1">6-Apr-21</text>
<line x1="189.10" x2="189.10" y1="85.75" y2="88.75" stroke="#DDDDDD" stroke-width="0.8"/>
<text x="237.4" y="98.05" text-anchor="middle" font-size="6.9" fill="#595959" stroke="#595959" stroke-width="0.1">6-Apr-22</text>
<line x1="237.40" x2="237.40" y1="85.75" y2="88.75" stroke="#DDDDDD" stroke-width="0.8"/>
<text x="285.7" y="98.05" text-anchor="middle" font-size="6.9" fill="#595959" stroke="#595959" stroke-width="0.1">6-Apr-23</text>
<line x1="285.70" x2="285.70" y1="85.75" y2="88.75" stroke="#DDDDDD" stroke-width="0.8"/>
<path transform="scale(0.1)" d="M453 927v-4h15v5h19v10h10v9h15v-32h14v-2h17v-23h14v-43h19v-8h8v-8h18h13v-4h8v-12h7v2h12h19v33h9v-14h19v12h12v-1h16v11h8v9h16v58h13v20h20v-16h12v-20h16v22h8v-15h14v-56h12v-19h20v27h11v-33h15v-12h15v-7h15v-14h16v-2h8v-69h17v11h18v-52h10v37h20v31h13v26h7v-49h16v-14h8h10v-11h8v9h13v19h13v39h8v49h12v21h21v47h18v41h19v24h15v-2h12v2h7v-32h18v-9h10v-25h16v-22h19v-15h19v-7h9v5h17v-6h18v19h20v-24h9v44h20v43h20v32h18v18h19v4h11v-6h16v-23h16v3h18v28h10v-7h8v-42h8v3h11v6h8v-2h18v-25h17v82h19v89h15v36h13v-6h20v-18h9v-43h7v-12h8v-6h16v17h9v-16h10v9h10v2h16v18h10v-30h14v14h17v-17h10v2h14v-9h14v16h16v22h14v26h16v2h9v4h12v-9h17v-35h18v-56h20v-29h7v16h20v-66h17v-48h19v28h16v29h14v34h13v25h19v1h12h20v-48h7v17h10v-27h19v-56h13v-45h11v-15h14v26h10v-2h11v-24h15v5h20v-15h8h21v-12h12v-12h14v-12h14v4h15v97h12v70h18v68h7v31h9v-10h12v-2h12v-37h10v-2h18v-12h19v-93h15v-75h7v6h9v-38h11v-9h11v-44h12v-16h21v-7h12v10h11v1h14v40h10v10h12v19h10v-6h15v-4h12v22h17v2h18v-39h17v2h7h17v9h16v-17h20v-54h16v-19h20v11h18v3h12v2h7v64h17v-26h12v-46h8v-4h9v3h11v9h14v2h20v42h12v-8h20v-29h7v-5h1" fill="none" stroke="#4472C4" stroke-width="24.0" stroke-linejoin="round"/>
<path transform="scale(0.1)" d="M453 887v-4h15v23h19v33h10v14h15v-18h14v-2h17v-19h14v-23h19v-28h8v-19h18v-18h13v-23h8v17h7v12h12v-3h19v40h9v-25h19v15h12v-12h16v9h8v5h16v32h13v2h20v14h12h16v48h8v-8h14v-43h12v-21h20v12h11v-46h15v-28h15v-6h15v-10h16v-3h8v-64h17v10h18v-70h10v33h20v29h13v32h7v-40h16v6h8v39h10v6h8v-4h13v-8h13v-2h8v42h12v19h21v85h18v31h19v-3h15v16h12v15h7v-30h18v-2h10v-2h16v-13h19v-10h19v-5h9v-8h17v48h18v53h20v-33h9v41h20v51h20v-32h18v5h19v-11h11v13h16v-32h16v-5h18v24h10v-10h8v-39h8v6h11v27h8v32h18v-19h17v42h19v23h15v27h13v3h20v-16h9v-10h7v7h8v16h16v62h9v10h10v28h10v-18h16v-1h10v-60h14v16h17v-19h10v18h14v-11h14v-4h16v-10h14v12h16v-37h9v-20h12v-2h17v-30h18v-78h20v-1h7v13h20v-23h17v-39h19v-40h16v28h14v28h13v31h19v21h12v22h20v20h7v38h10v-12h19v-86h13v-36h11v-6h14v27h10v-14h11v-24h15v-19h20v-52h8v6h21v-12h12v-10h14v-28h14v-9h15v103h12v83h18v18h7v-19h9v14h12v3h12v-11h10v6h18v-26h19v-103h15v-70h7v4h9v-44h11v-6h11v-38h12v-39h21v-27h12v-16h11v-4h14v28h10v17h12v10h10v12h15v-4h12v22h17v-2h18v-37h17v19h7v-16h17v2h16v-37h20v-34h16v-40h20v16h18v8h12h7v66h17v-15h12v-26h8v-22h9v7h11v9h14v22h20v44h12v-19h20v-8h7v7h1v-5" fill="none" stroke="#ED7D31" stroke-width="24.0" stroke-linejoin="round"/>
<path transform="scale(0.1)" d="M453 877v1h15v-15h19v-29h10v-38h15v-39h14v14h17v15h14v-24h19v-22h8v-13h18v-71h13v38h8v46h7v5h12v-15h19v2h9v-67h19v15h12v24h16v55h8v10h16v47h13v27h20v46h12v29h16v81h8v3h14v-24h12v14h20v23h11v-45h15v-43h15v-12h15v-23h16v-5h8v-73h17v15h18v-74h10v30h20v32h13v32h7v-8h16v-4h8v9h10v-4h8v26h13v-2h13v22h8v38h12v8h21v71h18v17h19v21h15v18h12v14h7v-30h18v-15h10v-3h16v-42h19v11h19v-26h9v-28h17v-45h18v-9h20v-35h9v48h20v60h20v39h18v19h19v2h11v-8h16v-46h16v-7h18v4h10v-32h8v-44h8v-10h11v19h8v-13h18v-69h17v-12h19v95h15v39h13v43h20v-28h9v-5h7v-2h8v20h16v74h9v-2h10v32h10v-49h16v-26h10v-24h14v36h17v-27h10v-4h14v3h14v22h16v7h14v-1h16v10h9v8h12v10h17v-9h18v-21h20v-5h7v-1h20v-17h17v-24h19v-27h16v15h14v13h13v-10h19v-13h12v-14h20v-29h7v14h10v-21h19v-16h13v-35h11v3h14v14h10v-2h11v-21h15v-10h20v-13h8v-33h21v-24h12v-19h14v-18h14v-26h15v68h12v55h18v55h7h9v-6h12v-30h12v-25h10v-17h18v-7h19v-46h15v-24h7v30h9v-27h11v-18h11v-37h12v-37h21v-33h12v-29h11v3h14v34h10v5h12v33h10v-9h15v19h12v35h17v-1h18v-60h17v-8h7v8h17v47h16v-10h20v-61h16v-65h20v17h18v9h12v22h7v69h17v-43h12v-64h8v-37h9v-33h11v-1h14v47h20v74h12v4h20v-48h7v-17h1v-1" fill="none" stroke="#A5A5A5" stroke-width="24.0" stroke-linejoin="round"/>
<path transform="scale(0.1)" d="M453 996h15v-1h19v-17h10v-16h15v-28h14v-15h17v-14h14v-20h19v-29h8v-26h18v-21h13v5h8v20h7v10h12v11h19v47h9v-30h19v5h12v-9h16v-5h8v1h16v36h13v-15h20v6h12v2h16v47h8v-5h14v-38h12v-13h20v30h11v-37h15v-31h15v-40h15v-18h16v6h8v-63h17v27h18v-54h10v49h20v56h13v45h7v-31h16v-10h8v-12h10v-9h8v17h13v-5h13v44h8v50h12v18h21v48h18v27h19v-10h15v-12h12v5h7v-23h18h10v-12h16v-25h19v-23h19v-21h9v-1h17v-11h18v34h20v-9h9v28h20v22h20v5h18v39h19v25h11v5h16v-47h16v-19h18v11h10v-16h8v-54h8v-9h11v29h8v21h18v24h17v17h19v61h15v24h13v6h20v23h9v2h7v-4h8v3h16v52h9v2h10v20h10v-17h16v20h10v-30h14v41h17v-8h10v-9h14v-7h14v39h16v-38h14v-11h16v-29h9v11h12v-9h17v-48h18v-46h20v-9h7v13h20v-25h17v-15h19v-34h16v-2h14v3h13v34h19v17h12v-21h20v-40h7v12h10v-18h19v-29h13v-22h11v-12h14v26h10v12h11v-21h15v-8h20v-26h8v1h21v-24h12v-32h14v-4h14v18h15v144h12v105h18v14h7v-4h9v-14h12v-1h12v-25h10v-10h18v-41h19v-126h15v-52h7v17h9v-30h11v-10h11v-31h12v-27h21v-2h12v-7h11v5h14v32h10v17h12v15h10v5h15v1h12v32h17v-12h18v-21h17v10h7v-6h17v14h16v-41h20v-66h16v-12h20v-18h18v8h12v17h7v70h17v-29h12v-43h8v-7h9v2h11v10h14v30h20v33h12v10h20v-28h7v-1h1v-4" fill="none" stroke="#FFC000" stroke-width="24.0" stroke-linejoin="round"/>
<path transform="scale(0.1)" d="M453 905v-3h15v35h19v9h10v10h15v-23h14v-20h17v-41h14v-21h19v-8h8v-10h18v-16h13v-11h8v-3h7v4h12v-11h19v21h9v-24h19v15h12v-11h16v27h8v37h16v83h13v13h20v-21h12v-14h16v24h8v-20h14v-59h12v-12h20v30h11v-29h15v-15h15v9h15v-35h16v-3h8v-80h17v-12h18v-40h10v35h20v14h13v25h7v-49h16v-16h8v20h10v-18h8v6h13v29h13v42h8v49h12v11h21v65h18v28h19v17h15v-10h12v1h7v-27h18v13h10v-1h16v-11h19v-9h19v-13h9v-1h17v-22h18v24h20v-35h9v40h20v30h20v28h18v24h19v-28h11v-2h16v-41h16v-8h18v36h10v-19h8v-29h8v5h11v30h8v10h18v-6h17v51h19v67h15v25h13h20v-14h9v-21h7v-18h8v17h16v44h9v4h10v21h10v-27h16v-17h10v-26h14v38h17v10h10v3h14v11h14v20h16v12h14v27h16v6h9v8h12v-16h17v-48h18v-82h20v-15h7v22h20v-17h17v-31h19v-39h16v-2h14v35h13v40h19v8h12v-14h20v-66h7v-2h10v-52h19v-71h13v-27h11v-4h14v14h10v-26h11v-46h15v21h20v3h8v25h21v-1h12v-34h14v32h14v18h15v79h12v65h18v59h7v7h9v16h12v15h12v-6h10v-5h18v-32h19v-96h15v-64h7v9h9v-42h11v-20h11v-51h12v-23h21v-2h12v1h11v-9h14v22h10v16h12v13h10h15v-6h12v20h17v6h18v-22h17v5h7v3h17v-23h16v-41h20v-82h16v-123h20v-16h18v140h12v43h7v72h17v-25h12v-51h8v-1h9v-7h11v11h14v22h20v48h12v-16h20v-20h7v-9h1v-6" fill="none" stroke="#5B9BD5" stroke-width="24.0" stroke-linejoin="round"/>
<path transform="scale(0.1)" d="M453 885v3h15v9h19v-7h10v-12h15v-33h14v-10h17v-7h14v-18h19v-23h8v-18h18v-23h13v-16h8v26h7h12v-8h19v24h9v-19h19v9h12v-1h16v12h8v-2h16v34h13v9h20v32h12v-7h16v57h8v7h14v-36h12v-45h20v-2h11v-19h15v-25h15v-16h15v-39h16v-12h8v-59h17v25h18v-97h10v14h20v-3h13v34h7v-5h16v-7h8v-20h10v-45h8v-2h13v-4h13v44h8v43h12v30h21v57h18v36h19v16h15v-5h12v30h7v7h18v54h10v-19h16v-35h19v27h19v-2h9v-7h17v-26h18v5h20v-23h9v19h20v18h20v93h18v50h19v2h11v19h16v-54h16v-41h18v1h10v-18h8v-47h8v10h11v2h8v14h18v10h17v61h19v67h15v13h13v25h20v50h9v-11h7v1h8v18h16v65h9v10h10v27h10v-60h16v-53h10v-41h14v49h17v-28h10v-22h14v-7h14v18h16v-4h14v56h16v22h9v17h12h17v-16h18v-90h20v-75h7v-22h20v-48h17v-59h19v-51h16v31h14v37h13v64h19v36h12v3h20v-27h7v13h10v-34h19v-20h13v-42h11v-13h14v23h10v-10h11v-12h15v-5h20v-11h8h21v-13h12v-14h14v27h14v21h15v62h12v53h18v33h7v11h9v28h12v21h12v-7h10v-7h18v-25h19v-94h15v-33h7v26h9v-15h11v-31h11v-45h12v-34h21v-15h12v-9h11v-2h14v21h10v22h12v14h10v2h15v2h12v18h17v4h18v-33h17v5h7v-14h17v2h16v-50h20v-46h16v-72h20v17h18v36h12v43h7v73h17v4h12v-30h8v-32h9v-27h11v-7h14v17h20v102h12v30h20v-43h7v-5h1v2" fill="none" stroke="#70AD47" stroke-width="24.0" stroke-linejoin="round"/>
<path transform="scale(0.1)" d="M453 917v-2h15v48h19v26h10v-9h15v-26h14v-3h17v-26h14v-25h19v-82h8v-33h18v63h13v5h8v4h7v10h12v-11h19v-11h9v-33h19v-17h12v23h16v48h8v7h16v17h13v6h20v21h12v-2h16v47h8v9h14v-50h12v-63h20v6h11v-20h15h15v7h15v-30h16v-29h8v-51h17v4h18v-84h10v22h20v70h13v4h7v-55h16v-21h8v24h10v-5h8v15h13v-8h13v27h8v53h12v44h21v42h18v25h19v8h15v37h12v19h7v-30h18v-27h10v-14h16v-38h19v23h19v-31h9v-14h17v-34h18v-5h20v3h9v67h20v101h20v1h18v15h19v11h11v21h16v-21h16v12h18v44h10v1h8v-61h8v-22h11v-8h8v-6h18v-32h17v39h19v75h15v52h13v6h20v-26h9v-36h7v-65h8v-17h16v50h9h10v21h10v-31h16v-14h10v-30h14v45h17v15h10v17h14v12h14v5h16v-7h14v24h16v-10h9v7h12v3h17v1h18v57h20v127h7v-21h20v-73h17v-69h19v-39h16v47h14v20h13v18h19v-15h12v11h20v-80h7v-14h10v-58h19v-29h13v-37h11v-9h14v40h10v2h11v-4h15v6h20v-10h8v-11h21v-15h12v-33h14v-33h14v-19h15v73h12v92h18v12h7v-2h9v2h12v-13h12v-4h10v16h18v65h19v-14h15v-55h7v12h9v-47h11v-63h11v-39h12v-36h21v-64h12v-8h11v2h14v53h10v41h12v32h10v23h15v12h12v22h17v-26h18v-34h17v17h7v4h17v39h16v-16h20v-34h16v-11h20v-44h18v51h12v11h7v55h17v-39h12v-53h8v-27h9v-56h11v-42h14v7h20v81h12v42h20v-71h7v-44h1v8" fill="none" stroke="#264478" stroke-width="24.0" stroke-linejoin="round"/>
<line x1="22.00" x2="39.00" y1="155.70" y2="155.70" stroke="#4472C4" stroke-width="2.2"/>
<text x="40.30" y="158.10" font-size="6.9" fill="#595959" stroke="#595959" stroke-width="0.12" textLength="42.5" lengthAdjust="spacingAndGlyphs">BTC-TRXVBDG</text>
<line x1="87.60" x2="104.60" y1="155.70" y2="155.70" stroke="#ED7D31" stroke-width="2.2"/>
<text x="105.90" y="158.10" font-size="6.9" fill="#595959" stroke="#595959" stroke-width="0.12" textLength="42.8" lengthAdjust="spacingAndGlyphs">ETH-TRXVBDG</text>
<line x1="153.20" x2="170.20" y1="155.70" y2="155.70" stroke="#A5A5A5" stroke-width="2.2"/>
<text x="171.50" y="158.10" font-size="6.9" fill="#595959" stroke="#595959" stroke-width="0.12" textLength="43.8" lengthAdjust="spacingAndGlyphs">BNB-TRXVBDG</text>
<line x1="218.80" x2="235.80" y1="155.70" y2="155.70" stroke="#FFC000" stroke-width="2.2"/>
<text x="237.10" y="158.10" font-size="6.9" fill="#595959" stroke="#595959" stroke-width="0.12" textLength="42.6" lengthAdjust="spacingAndGlyphs">XRP-TRXVBDG</text>
<line x1="22.00" x2="39.00" y1="169.60" y2="169.60" stroke="#5B9BD5" stroke-width="2.2"/>
<text x="40.30" y="172.00" font-size="6.9" fill="#595959" stroke="#595959" stroke-width="0.12" textLength="44.0" lengthAdjust="spacingAndGlyphs">ADA-TRXVBDG</text>
<line x1="87.60" x2="104.60" y1="169.60" y2="169.60" stroke="#70AD47" stroke-width="2.2"/>
<text x="105.90" y="172.00" font-size="6.9" fill="#595959" stroke="#595959" stroke-width="0.12" textLength="41.6" lengthAdjust="spacingAndGlyphs">LTC-TRXVBDG</text>
<line x1="153.20" x2="170.20" y1="169.60" y2="169.60" stroke="#264478" stroke-width="2.2"/>
<text x="171.50" y="172.00" font-size="6.9" fill="#595959" stroke="#595959" stroke-width="0.12" textLength="45.1" lengthAdjust="spacingAndGlyphs">XMR-TRXVBDG</text>
</g>
<g transform="translate(300,180)">
<text x="150.20" y="18.2" text-anchor="middle" font-size="10.6" fill="#595959" stroke="#595959" stroke-width="0.3" textLength="192.1" lengthAdjust="spacingAndGlyphs">Conventional cryptocurrencies vs TRXVIT</text>
<line x1="44.00" x2="290.50" y1="32.05" y2="32.05" stroke="#E9E9E9" stroke-width="0.9"/>
<text x="37.30" y="34.35" text-anchor="end" font-size="7.3" fill="#595959" stroke="#595959" stroke-width="0.22" textLength="28.78" lengthAdjust="spacingAndGlyphs">0.200000</text>
<line x1="44.00" x2="290.50" y1="47.39" y2="47.39" stroke="#E9E9E9" stroke-width="0.9"/>
<text x="37.30" y="49.69" text-anchor="end" font-size="7.3" fill="#595959" stroke="#595959" stroke-width="0.22" textLength="28.78" lengthAdjust="spacingAndGlyphs">0.150000</text>
<line x1="44.00" x2="290.50" y1="62.74" y2="62.74" stroke="#E9E9E9" stroke-width="0.9"/>
<text x="37.30" y="65.04" text-anchor="end" font-size="7.3" fill="#595959" stroke="#595959" stroke-width="0.22" textLength="28.78" lengthAdjust="spacingAndGlyphs">0.100000</text>
<line x1="44.00" x2="290.50" y1="78.08" y2="78.08" stroke="#E9E9E9" stroke-width="0.9"/>
<text x="37.30" y="80.38" text-anchor="end" font-size="7.3" fill="#595959" stroke="#595959" stroke-width="0.22" textLength="28.78" lengthAdjust="spacingAndGlyphs">0.050000</text>
<line x1="44.00" x2="290.50" y1="93.42" y2="93.42" stroke="#E9E9E9" stroke-width="0.9"/>
<text x="37.30" y="95.72" text-anchor="end" font-size="7.3" fill="#595959" stroke="#595959" stroke-width="0.22" textLength="28.78" lengthAdjust="spacingAndGlyphs">0.000000</text>
<line x1="44.00" x2="290.50" y1="108.76" y2="108.76" stroke="#E9E9E9" stroke-width="0.9"/>
<text x="37.30" y="111.06" text-anchor="end" font-size="7.3" fill="#595959" stroke="#595959" stroke-width="0.22" textLength="31.07" lengthAdjust="spacingAndGlyphs">-0.050000</text>
<line x1="44.00" x2="290.50" y1="124.11" y2="124.11" stroke="#E9E9E9" stroke-width="0.9"/>
<text x="37.30" y="126.41" text-anchor="end" font-size="7.3" fill="#595959" stroke="#595959" stroke-width="0.22" textLength="31.07" lengthAdjust="spacingAndGlyphs">-0.100000</text>
<line x1="44.00" x2="290.50" y1="139.45" y2="139.45" stroke="#E9E9E9" stroke-width="0.9"/>
<text x="37.30" y="141.75" text-anchor="end" font-size="7.3" fill="#595959" stroke="#595959" stroke-width="0.22" textLength="31.07" lengthAdjust="spacingAndGlyphs">-0.150000</text>
<text x="44.1" y="105.72" text-anchor="middle" font-size="6.9" fill="#595959" stroke="#595959" stroke-width="0.1">6-Apr-18</text>
<line x1="44.10" x2="44.10" y1="93.42" y2="96.42" stroke="#DDDDDD" stroke-width="0.8"/>
<text x="92.4" y="105.72" text-anchor="middle" font-size="6.9" fill="#595959" stroke="#595959" stroke-width="0.1">6-Apr-19</text>
<line x1="92.40" x2="92.40" y1="93.42" y2="96.42" stroke="#DDDDDD" stroke-width="0.8"/>
<text x="140.7" y="105.72" text-anchor="middle" font-size="6.9" fill="#595959" stroke="#595959" stroke-width="0.1">6-Apr-20</text>
<line x1="140.70" x2="140.70" y1="93.42" y2="96.42" stroke="#DDDDDD" stroke-width="0.8"/>
<text x="189.0" y="105.72" text-anchor="middle" font-size="6.9" fill="#595959" stroke="#595959" stroke-width="0.1">6-Apr-21</text>
<line x1="189.00" x2="189.00" y1="93.42" y2="96.42" stroke="#DDDDDD" stroke-width="0.8"/>
<text x="237.3" y="105.72" text-anchor="middle" font-size="6.9" fill="#595959" stroke="#595959" stroke-width="0.1">6-Apr-22</text>
<line x1="237.30" x2="237.30" y1="93.42" y2="96.42" stroke="#DDDDDD" stroke-width="0.8"/>
<text x="285.6" y="105.72" text-anchor="middle" font-size="6.9" fill="#595959" stroke="#595959" stroke-width="0.1">6-Apr-23</text>
<line x1="285.60" x2="285.60" y1="93.42" y2="96.42" stroke="#DDDDDD" stroke-width="0.8"/>
<path transform="scale(0.1)" d="M446 916v2h9v5h8v50h8v8h9v8h9v-24h19v-26h13v20h14v-28h20v18h9v8h13v46h14v2h8v-2h10v-16h12v32h21v23h8v50h20v-9h10v6h12v-34h11v-21h19v-24h10v-55h18v-90h20v-19h18v18h19v10h15h17v-1h16v-3h9v-16h20v1h11v15h8v-7h8v8h16v18h20v-37h11v7h16v73h8v78h18v105h19v37h15v35h8v-67h10v34h19v20h14v-13h19v18h16h9v-1h21v16h13v1h14v11h20v79h12v6h19v-71h12v7h18v13h9v-4h15v-37h17v-16h13v-44h10v-10h11v5h14v-25h10v-41h21v-426h16v-16h14v-23h11v21h12v-10h14h19v19h20v-23h16v50h9v13h17v29h10v9h20v36h15v13h9v31h10v39h10v66h20v41h15v10h13v-44h14v-38h10v-7h15v-11h18v6h8v2h9v-25h18v-15h9v24h8v25h9v13h8v-10h10v12h10v31h17v14h10v-6h10v25h10v16h11v15h18v-21h11v-1h8v10h19v43h20v10h11v7h13v-23h12v2h15v1h19v-28h15v-54h11v-4h15v-10h17v-42h7v-23h20v-18h9v-38h7v3h10v4h15v33h8v-11h8v4h12v-18h19v-24h10v-21h11v8h12v4h12v-6h20v25h15v-38h21v66h15v39h8v14h16v13h8v39h20v5h19v-34h11v-13h11v2h13v-19h10v-18h7v-19h8v-7h12v-60h18v-53h15v20h13v-8h9v-23h20v24h14v16h16v35h18v78h7v-69h20v1h17v6h11v-29h12v6h18v20h18v18h21v15h20v-12h20v-54h8v7h13v25h11v-28h13v-39h18v-16h21v32h8v30h13v22h13v-5h19v18h8v1h13v-2h18v37h12v55h8v5" fill="none" stroke="#4472C4" stroke-width="24.0" stroke-linejoin="round"/>
<path transform="scale(0.1)" d="M446 920v21h9v-19h8v15h8v-25h9v-5h9v-24h19v10h13v11h14v-50h20v-18h9v-8h13v26h14v-56h8v-46h10v-31h12v78h21v69h8v16h20v29h10v32h12v-24h11v-18h19v-3h10v-15h18v-57h20v-8h18v-26h19v-10h15h17v-10h16v-17h9v-25h20v28h11v6h8v-20h8v1h16v29h20v-17h11v35h16v37h8v36h18v63h19v48h15v55h8v-59h10v41h19v33h14v-9h19v44h16v-1h9v-4h21v19h13v9h14v14h20v19h12h19v-14h12v44h18v8h9v-27h15v-41h17v-21h13v-32h10h11v12h14v-34h10v-46h21v-429h16v-13h14h11v39h12v13h14v-4h19v29h20v-27h16v54h9v28h17v13h10v14h20v27h15v1h9v16h10v20h10v54h20v71h15v20h13v-22h14v-8h10v-10h15v6h18v5h8v8h9v-10h18v-37h9v6h8v15h9v8h8v1h10v4h10v31h17v7h10h10v12h10v11h11v16h18v24h11v7h8v-9h19v26h20v9h11v-20h13v-2h12v37h15v-23h19v-33h15v-32h11v22h15v20h17v-21h7v-18h20v19h9v4h7v19h10v4h15v44h8v-31h8v-34h12v-9h19v-46h10v-26h11v-4h12v-5h12v-18h20v-10h15v-59h21v8h15v19h8v31h16v60h8v34h20v17h19v-12h11v-22h11v-12h13v-26h10v-3h7v-14h8v-3h12v-47h18v-51h15v-3h13v-47h9v-32h20v2h14v21h16v42h18v96h7v-66h20v16h17v-30h11v-6h12v-11h18v-15h18v-29h21v-10h20v-8h20v-51h8v3h13v36h11v-34h13v-17h18v2h21v36h8v19h13v25h13v34h19v15h8v36h13v31h18v35h12v33h8v-1" fill="none" stroke="#ED7D31" stroke-width="24.0" stroke-linejoin="round"/>
<path transform="scale(0.1)" d="M446 897v6h9v-1h8v2h8v-3h9v-2h9v-16h19v-17h13v27h14v-27h20h9v-32h13v19h14v-30h8h10v-23h12v44h21v17h8v-16h20v42h10v37h12v-2h11v-24h19v-31h10v-63h18v-60h20v-8h18v42h19v-1h15v3h17v-4h16v-10h9v-24h20v9h11v16h8v-6h8v-5h16v1h20v-31h11v-18h16v-36h8v18h18v29h19v36h15v62h8v-43h10v55h19v77h14v30h19v70h16v8h9v21h21v64h13v27h14v27h20v46h12v-6h19v-39h12v-18h18v-1h9v-4h15v-45h17v-12h13v-37h10v-12h11v3h14v-32h10v-18h21v-386h16v-4h14v-10h11v23h12v-3h14v5h19v25h20v-32h16v51h9v33h17v15h10v30h20v1h15v-2h9v26h10v29h10v51h20v59h15v46h13v-29h14v-39h10v-12h15v-32h18v3h8v24h9v-21h18v-25h9v12h8v25h9v15h8v14h10v-11h10v15h17v21h10v15h10v15h10v-3h11v15h18v23h11v9h8v-11h19v42h20v-16h11v17h13v-39h12v4h15v-20h19v-38h15v-41h11v21h15v-12h17v-24h7v4h20v11h9v-31h7v-4h10h15v28h8v-9h8v-10h12v-7h19v-15h10v-2h11v10h12v23h12v19h20v39h15v-23h21v4h15v23h8v21h16v20h8v32h20v4h19v-25h11v-32h11v-8h13v-30h10v-8h7v-19h8v-20h12v-62h18v-77h15v-30h13v-14h9v-12h20v36h14v23h16v44h18v85h7v-63h20v-1h17v-10h11v-21h12v-5h18v-36h18v1h21v-9h20v-8h20v-38h8v11h13v26h11v-41h13v-30h18v-7h21v15h8v19h13v5h13v-8h19v-10h8v25h13v17h18v15h12v38h8v-2" fill="none" stroke="#A5A5A5" stroke-width="24.0" stroke-linejoin="round"/>
<path transform="scale(0.1)" d="M446 914v4h9v28h8v23h8v-11h9v-4h9v-14h19v-32h13v9h14v-34h20v-15h9v-5h13v29h14v-16h8v-5h10v-50h12v47h21v3h8v-16h20v-24h10v20h12v-36h11v-4h19v42h10v-18h18v4h20v10h18v6h19v-1h15v14h17v-9h16v-8h9v-22h20h11v8h8v-21h8v20h16v-4h20v-24h11v35h16v46h8v25h18v51h19v49h15v55h8v-55h10v39h19v3h14v-34h19v59h16v5h9v-15h21v-8h13v-18h14v3h20v-42h12v-17h19v-16h12v7h18v44h9v6h15v-29h17v-6h13v-21h10v2h11v33h14v-24h10v-197h21v-265h16v-1h14v16h11v26h12v5h14v24h19v18h20v-64h16v29h9v18h17v15h10v16h20v35h15v35h9v45h10v159h10v177h20v-23h15v-29h13v-37h14v-16h10v-2h15v8h18v-2h8v-28h9v-57h18v-41h9v21h8v9h9v20h8v22h10v-2h10v22h17v17h10h10v22h10v-1h11v7h18v-25h11v-35h8v-28h19v68h20v22h11v1h13v-30h12v3h15v-24h19v-29h15v7h11v-1h15v-38h17v-36h7v-2h20v-13h9v-34h7h10v-4h15v25h8v-5h8h12v17h19v-52h10v-19h11v-4h12v14h12v-7h20v43h15v2h21v44h15v108h8v146h16v-14h8v22h20v-6h19v-26h11v-16h11v8h13v-37h10v-27h7v-34h8v-15h12v-61h18v-55h15v5h13v-43h9v-31h20v11h14v6h16v37h18v79h7v-63h20v30h17v-55h11v-56h12v-14h18v-20h18v-12h21v-15h20v-24h20v-67h8v8h13v39h11v-20h13v-22h18v-21h21v24h8v15h13v11h13v19h19h8v34h13v28h18v34h12v46h8v20" fill="none" stroke="#FFC000" stroke-width="24.0" stroke-linejoin="round"/>
<path transform="scale(0.1)" d="M446 956v-6h9v13h8v45h8v-1h9h9v-18h19v-36h13v-2h14v-44h20v-26h9v-8h13v14h14v-54h8v-55h10v-23h12v82h21v66h8v35h20v3h10v16h12v-37h11v-34h19v6h10v-10h18v-28h20v12h18v17h19v9h15v7h17v-30h16v10h9v-17h20v-15h11v17h8v-11h8v17h16v3h20v-32h11v6h16v46h8v75h18v81h19v47h15v39h8v-60h10v29h19v19h14v-5h19v43h16v-6h9v8h21v9h13h14v8h20v22h12h19v-46h12v-23h18v-6h9v-11h15v-17h17v-13h13v-43h10v-11h11v14h14v-23h10v-228h21v-267h16v-13h14v-3h11v6h12v-29h14v1h19v43h20v-35h16v6h9v19h17v-12h10v17h20v32h15v13h9v49h10v38h10v61h20v108h15v36h13v3h14v-35h10v-22h15v-18h18v12h8v9h9v-12h18v-12h9v16h8v17h9v14h8v17h10v-14h10v26h17v28h10v3h10v32h10v20h11v28h18h11v-34h8v-9h19v62h20v40h11v28h13v-28h12v20h15v-37h19v-53h15v-64h11v3h15v-52h17v-42h7v-11h20v-23h9v-44h7v9h10v-23h15v-6h8v-20h8v-17h12v-19h19v-37h10v-36h11v-18h12v-13h12v45h20v59h15v-14h21v77h15v52h8v32h16v52h8v54h20v-8h19v-30h11v-49h11v-3h13v-39h10v-32h7v-37h8v-2h12v-24h18v-8h15v29h13v-17h9v-7h20v-3h14v12h16v27h18v85h7v-46h20v17h17v-16h11v-40h12v-45h18v-46h18v-27h21v41h20v-8h20v-206h8v-2h13v110h11v-4h13v-28h18v1h21v31h8v15h13v16h13v41h19v25h8v37h13v45h18v47h12v51h8v20" fill="none" stroke="#5B9BD5" stroke-width="24.0" stroke-linejoin="round"/>
<path transform="scale(0.1)" d="M446 907v-6h9v1h8v29h8v3h9v-1h9v-23h19v-30h13v14h14v-26h20v3h9v-9h13v27h14v-18h8v-7h10v-40h12v41h21v6h8v-7h20v8h10v50h12v10h11v-23h19v-11h10v-9h18v-7h20v9h18v-24h19v21h15v3h17v17h16v3h9v-8h20v12h11v16h8v-26h8v3h16v4h20v-40h11v20h16v11h8v18h18v32h19v27h15v23h8v-64h10v30h19v28h14v17h19v24h16v4h9v9h21v30h13v13h14v-8h20v-9h12v27h19v-36h12v-11h18v-22h9v-23h15v-14h17v-1h13v-20h10v-14h11v7h14v-15h10v-192h21v-251h16v-8h14v3h11v21h12v-12h14v18h19v39h20v-26h16v36h9v28h17v20h10v12h20v33h15v14h9v25h10v54h10v65h20v70h15v13h13v-32h14v-36h10h15v-35h18h8v13h9v-19h18v-18h9v26h8v17h9v19h8v8h10v15h10v39h17v47h10v41h10v59h10v1h11v-30h18v-37h11v-21h8v-17h19v-9h20v-71h11v-35h13v-7h12v34h15v-53h19v-46h15v29h11v26h15v-28h17v-69h7v-34h20v-9h9v-15h7v19h10v17h15v45h8v-19h8v-3h12v-13h19v-17h10v-13h11v8h12v-12h12v-18h20v10h15v-31h21v37h15v51h8v65h16v82h8v40h20v-9h19v-12h11v-35h11v24h13v-7h10v2h7v-10h8v-24h12v-58h18v-79h15v-23h13v-28h9v9h20v59h14v54h16v22h18v98h7v-47h20v56h17v27h11v-72h12v-43h18v-19h18v-18h21v-42h20v-18h20v-54h8v7h13v60h11v-4h13v4h18v-7h21v20h8v42h13v15h13v17h19v23h8v22h13v88h18v50h12v7h8v-16" fill="none" stroke="#70AD47" stroke-width="24.0" stroke-linejoin="round"/>
<path transform="scale(0.1)" d="M446 932v-10h9v-12h8v23h8v-22h9v-28h9v-55h19v-71h13v59h14v18h20v50h9v-5h13v33h14v-15h8v-10h10v-15h12v56h21v13h8v-8h20v-11h10v15h12v-27h11v-27h19v31h10v-42h18v-109h20v59h18v34h19v-16h15v-5h17v-5h16v-8h9v-15h20v20h11v16h8v-13h8v23h16v15h20v-32h11v-18h16v30h8v75h18v128h19v54h15v43h8v-54h10v29h19v14h14v4h19v33h16v-23h9v-2h21v-11h13v14h14v50h20v35h12v6h19v-55h12v26h18v47h9v-23h15v-38h17v-7h13v-48h10v-14h11v-23h14v-27h10v-38h21v-447h16v-6h14v20h11v21h12v-4h14v6h19v49h20v-42h16v34h9v39h17v22h10v18h20v15h15v-1h9v10h10v36h10v56h20v59h15v24h13v-38h14v-66h10v-99h15v-53h18v13h8v14h9v-35h18v-26h9v28h8v11h9v22h8v19h10v2h10v57h17v49h10v22h10v31h10v29h11v28h18v15h11v-27h8v-12h19v124h20v154h11v-64h13v-35h12v-3h15v-57h19v-41h15v6h11v29h15v-4h17v-75h7v-47h20v-65h9v-61h7v-12h10v35h15v50h8v-14h8v-22h12v-4h19v-17h10v4h11v11h12v11h12v-12h20v-9h15v-66h21v-52h15v91h8v54h16v41h8v57h20v4h19v-5h11v4h11v18h13v4h10v1h7v-24h8v-17h12v-41h18v-59h15v-14h13v-59h9v-28h20v-27h14v7h16v34h18v129h7v-45h20v34h17v15h11v-32h12v15h18v34h18v33h21v17h20v-15h20v-77h8v49h13v68h11v-29h13v-35h18v-30h21v3h8v-3h13v-23h13v-39h19v15h8v36h13v41h18v30h12v23h8v-27" fill="none" stroke="#264478" stroke-width="24.0" stroke-linejoin="round"/>
<line x1="37.00" x2="54.00" y1="155.70" y2="155.70" stroke="#4472C4" stroke-width="2.2"/>
<text x="55.30" y="158.10" font-size="6.9" fill="#595959" stroke="#595959" stroke-width="0.12" textLength="34.8" lengthAdjust="spacingAndGlyphs">BTC-TRXVIT</text>
<line x1="94.90" x2="111.90" y1="155.70" y2="155.70" stroke="#ED7D31" stroke-width="2.2"/>
<text x="113.20" y="158.10" font-size="6.9" fill="#595959" stroke="#595959" stroke-width="0.12" textLength="35.0" lengthAdjust="spacingAndGlyphs">ETH-TRXVIT</text>
<line x1="152.80" x2="169.80" y1="155.70" y2="155.70" stroke="#A5A5A5" stroke-width="2.2"/>
<text x="171.10" y="158.10" font-size="6.9" fill="#595959" stroke="#595959" stroke-width="0.12" textLength="36.0" lengthAdjust="spacingAndGlyphs">BNB-TRXVIT</text>
<line x1="210.70" x2="227.70" y1="155.70" y2="155.70" stroke="#FFC000" stroke-width="2.2"/>
<text x="229.00" y="158.10" font-size="6.9" fill="#595959" stroke="#595959" stroke-width="0.12" textLength="34.9" lengthAdjust="spacingAndGlyphs">XRP-TRXVIT</text>
<line x1="37.00" x2="54.00" y1="169.60" y2="169.60" stroke="#5B9BD5" stroke-width="2.2"/>
<text x="55.30" y="172.00" font-size="6.9" fill="#595959" stroke="#595959" stroke-width="0.12" textLength="36.3" lengthAdjust="spacingAndGlyphs">ADA-TRXVIT</text>
<line x1="94.90" x2="111.90" y1="169.60" y2="169.60" stroke="#70AD47" stroke-width="2.2"/>
<text x="113.20" y="172.00" font-size="6.9" fill="#595959" stroke="#595959" stroke-width="0.12" textLength="33.9" lengthAdjust="spacingAndGlyphs">LTC-TRXVIT</text>
<line x1="152.80" x2="169.80" y1="169.60" y2="169.60" stroke="#264478" stroke-width="2.2"/>
<text x="171.10" y="172.00" font-size="6.9" fill="#595959" stroke="#595959" stroke-width="0.12" textLength="37.4" lengthAdjust="spacingAndGlyphs">XMR-TRXVIT</text>
</g>
<g transform="translate(600,180)">
<text x="149.80" y="18.2" text-anchor="middle" font-size="10.6" fill="#595959" stroke="#595959" stroke-width="0.3" textLength="204.6" lengthAdjust="spacingAndGlyphs">Asset-backed cryptocurrencies vs TRXVBDG</text>
<line x1="43.60" x2="290.10" y1="32.05" y2="32.05" stroke="#E9E9E9" stroke-width="0.9"/>
<text x="36.90" y="34.35" text-anchor="end" font-size="7.3" fill="#595959" stroke="#595959" stroke-width="0.22" textLength="28.78" lengthAdjust="spacingAndGlyphs">0.250000</text>
<line x1="43.60" x2="290.10" y1="43.67" y2="43.67" stroke="#E9E9E9" stroke-width="0.9"/>
<text x="36.90" y="45.97" text-anchor="end" font-size="7.3" fill="#595959" stroke="#595959" stroke-width="0.22" textLength="28.78" lengthAdjust="spacingAndGlyphs">0.200000</text>
<line x1="43.60" x2="290.10" y1="55.29" y2="55.29" stroke="#E9E9E9" stroke-width="0.9"/>
<text x="36.90" y="57.59" text-anchor="end" font-size="7.3" fill="#595959" stroke="#595959" stroke-width="0.22" textLength="28.78" lengthAdjust="spacingAndGlyphs">0.150000</text>
<line x1="43.60" x2="290.10" y1="66.91" y2="66.91" stroke="#E9E9E9" stroke-width="0.9"/>
<text x="36.90" y="69.21" text-anchor="end" font-size="7.3" fill="#595959" stroke="#595959" stroke-width="0.22" textLength="28.78" lengthAdjust="spacingAndGlyphs">0.100000</text>
<line x1="43.60" x2="290.10" y1="78.53" y2="78.53" stroke="#E9E9E9" stroke-width="0.9"/>
<text x="36.90" y="80.83" text-anchor="end" font-size="7.3" fill="#595959" stroke="#595959" stroke-width="0.22" textLength="28.78" lengthAdjust="spacingAndGlyphs">0.050000</text>
<line x1="43.60" x2="290.10" y1="90.14" y2="90.14" stroke="#E9E9E9" stroke-width="0.9"/>
<text x="36.90" y="92.44" text-anchor="end" font-size="7.3" fill="#595959" stroke="#595959" stroke-width="0.22" textLength="28.78" lengthAdjust="spacingAndGlyphs">0.000000</text>
<line x1="43.60" x2="290.10" y1="101.76" y2="101.76" stroke="#E9E9E9" stroke-width="0.9"/>
<text x="36.90" y="104.06" text-anchor="end" font-size="7.3" fill="#595959" stroke="#595959" stroke-width="0.22" textLength="31.07" lengthAdjust="spacingAndGlyphs">-0.050000</text>
<line x1="43.60" x2="290.10" y1="113.38" y2="113.38" stroke="#E9E9E9" stroke-width="0.9"/>
<text x="36.90" y="115.68" text-anchor="end" font-size="7.3" fill="#595959" stroke="#595959" stroke-width="0.22" textLength="31.07" lengthAdjust="spacingAndGlyphs">-0.100000</text>
<line x1="43.60" x2="290.10" y1="125.00" y2="125.00" stroke="#E9E9E9" stroke-width="0.9"/>
<text x="36.90" y="127.30" text-anchor="end" font-size="7.3" fill="#595959" stroke="#595959" stroke-width="0.22" textLength="31.07" lengthAdjust="spacingAndGlyphs">-0.150000</text>
<text x="43.7" y="102.44" text-anchor="middle" font-size="6.9" fill="#595959" stroke="#595959" stroke-width="0.1">6-Apr-18</text>
<line x1="43.70" x2="43.70" y1="90.14" y2="93.14" stroke="#DDDDDD" stroke-width="0.8"/>
<text x="92.0" y="102.44" text-anchor="middle" font-size="6.9" fill="#595959" stroke="#595959" stroke-width="0.1">6-Apr-19</text>
<line x1="92.00" x2="92.00" y1="90.14" y2="93.14" stroke="#DDDDDD" stroke-width="0.8"/>
<text x="140.3" y="102.44" text-anchor="middle" font-size="6.9" fill="#595959" stroke="#595959" stroke-width="0.1">6-Apr-20</text>
<line x1="140.30" x2="140.30" y1="90.14" y2="93.14" stroke="#DDDDDD" stroke-width="0.8"/>
<text x="188.6" y="102.44" text-anchor="middle" font-size="6.9" fill="#595959" stroke="#595959" stroke-width="0.1">6-Apr-21</text>
<line x1="188.60" x2="188.60" y1="90.14" y2="93.14" stroke="#DDDDDD" stroke-width="0.8"/>
<text x="236.9" y="102.44" text-anchor="middle" font-size="6.9" fill="#595959" stroke="#595959" stroke-width="0.1">6-Apr-22</text>
<line x1="236.90" x2="236.90" y1="90.14" y2="93.14" stroke="#DDDDDD" stroke-width="0.8"/>
<text x="285.2" y="102.44" text-anchor="middle" font-size="6.9" fill="#595959" stroke="#595959" stroke-width="0.1">6-Apr-23</text>
<line x1="285.20" x2="285.20" y1="90.14" y2="93.14" stroke="#DDDDDD" stroke-width="0.8"/>
<path transform="scale(0.1)" d="M453 784h1h16v-8h21v-39h16v3h9v25h11v-50h20v-25h17v33h11v35h21v-11h8v-5h8v-20h16v33h14v13h16v-15h9v-1h20v38h16v-10h10v12h16v-31h12v-19h11v57h14v4h18v-27h11v19h12v-11h17v50h9v-18h17v-21h9v6h17v-26h17v-33h10v2h15v40h16v-4h18v-10h20v22h19v32h18v-18h12v-11h21v-33h9v-19h14v-14h16v30h18v-9h11v-15h12v11h17v4h7v27h19v-16h10v-13h16v-24h9v-34h18v35h19v21h19v34h13v48h12v-67h15v-1h7v14h14v-45h8v-18h11v21h7v-11h8v-2h7v-7h13v64h17v23h12v-21h20v-19h17v-22h13v-6h13v26h21v12h13v-22h12v8h13v7h15v-14h8v11h15v14h8v-5h21v36h18v24h21v17h16v15h20v22h17v13h13h10v8h16v53h17h19v12h15v-41h8v29h8v33h20v-22h8v27h18v-26h7v16h14v-35h18v6h12v-3h21v-13h9v-30h20v-57h15v27h21v-14h12v4h9v6h21v-3h10v18h20v19h12h16v7h17v3h15v-5h10v-16h18v-1h13v-55h11v-15h15v25h9v5h17v-5h13v17h10v44h18v6h11v1h13v17h10v-55h12v10h9v37h9v-1h19v-18h12v-2h10v-42h21v14h16v18h11v-22h18v-9h20v10h20v-5h9v-15h21v-11h8v12h10v4h21v7h10v-18h8v7h8v-2h12v20h17v45h19v62h14v-20h7v-15h20v-44h9v-15h10v-44h18v18h10v18h12v12h8v25h10v6h9v-12h15v-6h12v-30h18v-11h15v35h8v24h14v1h11v61h12v83h17v18h19v12h11v27h19v-23h7v7h5v-10" fill="none" stroke="#4472C4" stroke-width="24.0" stroke-linejoin="round"/>
<path transform="scale(0.1)" d="M446 917v6h8v12h16v6h21v-8h16v37h9v-10h11v18h20v-10h17v-12h11v73h21v-5h8v-35h8v10h16v32h14v17h16v-18h9v-13h20v14h16v-3h10v-54h16v4h12v9h11v6h14v37h18v27h11v17h12v-20h17v-6h9v-10h17v-22h9v-46h17v-23h17h10v-2h15v-11h16v-6h18v25h20v16h19v2h18v14h12v12h21v-28h9v-25h14v42h16v-21h18v-1h11v-30h12v-19h17v-11h7v7h19v-21h10v43h16h9v-3h18v19h19v12h19v2h13v-17h12v30h15v33h7v-9h14v29h8v9h11v25h7v14h8v22h7v-7h13v53h17v12h12v1h20v-12h17v-20h13v-4h13v-10h21v-13h13v-28h12v-13h13v-7h15v-61h8v-12h15v15h8v-39h21v-18h18v-30h21v-12h16v15h20v-18h17v-5h13v4h10v6h16v8h17v-7h19v-13h15v-8h8v20h8v-13h20v4h8v-9h18v23h7v9h14v-43h18v3h12v29h21v-31h9v-6h20v-22h15v-3h21v-27h12v44h9v-19h21v-15h10v-8h20v16h12v-11h16v13h17v66h15v22h10v-9h18v-6h13v21h11v5h15v1h9h17v-16h13v8h10v36h18v3h11v-1h13v33h10v-14h12v3h9v35h9v-8h19v-11h12v10h10v-1h21v11h16v-1h11v28h18v-99h20v-33h20v-30h9v34h21v-18h8v-19h10v-2h21v36h10v-17h8v34h8v-52h12v25h17v54h19v-17h14v28h7v-1h20v17h9v-3h10v-12h18v-5h10v-7h12v-11h8v22h10v16h9v7h15h12v-7h18v-7h15v11h8v-25h14v-10h11v5h12v17h17v-16h19v-8h11v-8h19v-33h7v-19h5v-13" fill="none" stroke="#ED7D31" stroke-width="24.0" stroke-linejoin="round"/>
<path transform="scale(0.1)" d="M453 855h1h16v-17h21v-42h16v-3h9v16h11v7h20v-14h17v-33h11v14h21v14h8v-13h8v-9h16v-10h14v-14h16v33h9v14h20v-3h16v21h10v37h16v-22h12v-10h11v25h14v-16h18v-39h11v-23h12v-29h17v41h9v-4h17v39h9v15h17v13h17v28h10h15v5h16v-3h18v-2h20v8h19v-2h18v32h12v10h21v-11h9v-11h14v-10h16v-12h18v70h11v-21h12v36h17h7v18h19v33h10v13h16v19h9v-21h18v-16h19v-33h19v-29h13v11h12v15h15v-1h7v3h14v13h8v-8h11v16h7v-10h8v3h7v-6h13v33h17v36h12v-19h20v-18h17v-19h13v4h13v12h21v-26h13v-46h12v-17h13v-8h15v-31h8v-2h15v17h8v-15h21v38h18v-51h21v-23h16v45h20v-3h17v-20h13v-2h10v-10h16v2h17v-59h19v-39h15v-10h8v18h8v19h20v-22h8v-36h18v20h7v10h14v25h18v33h12v23h21v4h9v19h20v24h15v17h21v25h12v21h9v32h21v77h10v51h20v-10h12v-75h16v-44h17v-9h15v-22h10v-27h18v-20h13v-4h11v-34h15v-63h9v-25h17v-30h13v-21h10v37h18v11h11v5h13v24h10v-45h12v-17h9v24h9v14h19v20h12v23h10v12h21v38h16v-10h11v17h18v31h20v39h20v-4h9v-4h21v-26h8v-42h10v-3h21v16h10v-4h8v4h8v13h12v8h17v-33h19v-1h14v37h7v7h20v-81h9v13h10v-11h18v-25h10v-2h12v23h8v-8h10v6h9v7h15v51h12v9h18v1h15v-2h8v-18h14v-20h11v-23h12v3h17v17h19v30h11v31h19v16h7v3h5v5" fill="none" stroke="#A5A5A5" stroke-width="24.0" stroke-linejoin="round"/>
<path transform="scale(0.1)" d="M446 809h8v1h16v31h21v16h16v21h9v24h11v22h20v-25h17v46h11v46h21v65h8v-20h8v-43h16v3h14v-17h16v-14h9v8h20v-15h16v-7h10v-19h16v13h12v-7h11v3h14v-19h18v-47h11v-15h12v-9h17v-20h9v-23h17v-61h9v-5h17v-42h17v-16h10v14h15v-10h16v26h18v-14h20v-31h19v-14h18v36h12v11h21v-51h9v-2h14v26h16v38h18v21h11v23h12v28h17v70h7v5h19v19h10v-2h16v-1h9v21h18v51h19v9h19v26h13v4h12v1h15v-35h7v-16h14v-8h8v-30h11v38h7v7h8v12h7v-30h13v49h17v3h12v-5h20v-24h17v-4h13v17h13v-3h21v24h13v-35h12v-20h13v2h15v-19h8h15v22h8v26h21v-29h18v-16h21v30h16v-11h20v10h17v-4h13v10h10v-3h16v7h17v-11h19v15h15v-42h8v18h8v33h20v44h8v-23h18v-47h7v10h14v11h18v11h12v35h21v-47h9v-14h20v-23h15v-23h21v-28h12v-12h9v-29h21v-45h10v52h20v8h12v-20h16v-11h17v80h15v52h10v-38h18v59h13v-14h11v7h15v3h9v61h17v-26h13v-39h10v25h18v-29h11v-67h13v37h10v-19h12v-2h9v34h9v-21h19v-18h12v-14h10v2h21v-3h16v-10h11v-29h18v-25h20v-9h20v-37h9v-15h21v-28h8v3h10v-5h21v23h10v-6h8v39h8v10h12v18h17v55h19v-101h14v-52h7v15h20v-26h9v-5h10v14h18v-9h10v-19h12v3h8v20h10v-6h9v15h15v-10h12v-9h18v10h15v17h8v-3h14v6h11v14h12v31h17v15h19v-4h11v9h19v68h7v22h5v7" fill="none" stroke="#FFC000" stroke-width="24.0" stroke-linejoin="round"/>
<path transform="scale(0.1)" d="M453 763h1v-19h16v13h21v-21h16v-19h9v25h11h20v-15h17v-25h11v-12h21v-38h8v-22h8v10h16v39h14v57h16v-104h9v10h20v64h16v33h10v-14h16v-24h12v26h11v1h14v38h18v30h11v31h12v27h17v35h9v9h17v-55h9v9h17v9h17v13h10v1h15v-18h16v-27h18v37h20v-7h19v-43h18v-16h12v-16h21v-51h9v3h14v-10h16v-4h18v15h11v20h12v41h17v-48h7v52h19v-44h10v-46h16v-14h9v18h18v-12h19v23h19v35h13v-17h12v15h15v-45h7v12h14v8h8v-15h11v12h7v14h8v-16h7v13h13v60h17v58h12v-4h20v-11h17v-6h13v-4h13v3h21v-26h13v-24h12v29h13v7h15v-63h8v-24h15v31h8v18h21v33h18v-18h21v60h16v25h20v17h17v-8h13v1h10v-12h16h17v-20h19v-10h15v-25h8v14h8v24h20v-8h8v2h18v32h7v12h14h18v3h12v65h21v-31h9v-23h20v-29h15v-7h21v-62h12v-25h9v-7h21v-34h10v-23h20v47h12v-14h16v-12h17v24h15v11h10v-18h18v-8h13v-34h11v7h15v9h9v-1h17v-4h13v-2h10v-33h18v16h11v15h13v5h10v-33h12v45h9v36h9v20h19v44h12v20h10v-5h21v-24h16v-34h11v-16h18v-29h20v-51h20v-5h9v6h21v-7h8v-7h10v20h21v-2h10v-33h8v18h8v18h12v3h17v-89h19v-27h14v3h7v-13h20v-41h9v4h10v8h18v14h10v1h12v9h8v1h10v-26h9v-33h15v-55h12v19h18v42h15v21h8v3h14v-23h11v-32h12v13h17v26h19v39h11v44h19v-59h7v-12h5v5" fill="none" stroke="#5B9BD5" stroke-width="24.0" stroke-linejoin="round"/>
<path transform="scale(0.1)" d="M446 878v29h8v8h16v-4h21v-9h16v-34h9v42h11v-16h20v23h17v2h11v10h21v-39h8v-20h8v-9h16v28h14v15h16v5h9v59h20v-8h16v-4h10v18h16v26h12v-14h11v3h14v-35h18v-20h11v9h12v-17h17v-27h9v6h17v-27h9v12h17v-5h17v-8h10v-17h15v-7h16v-10h18v-1h20v-32h19v-74h18v31h12v6h21h9v29h14v22h16v17h18v27h11v22h12v-11h17v-15h7v13h19v12h10v2h16v-3h9v11h18v46h19v46h19v32h13v33h12v4h15v-10h7v-10h14v2h8v-32h11v14h7v-26h8v-2h7v-51h13h17v3h12v-18h20v15h17v-10h13v-1h13v15h21v-57h13v-45h12v12h13v-41h15v1h8v50h15v52h8v19h21v70h18v25h21v24h16v29h20v6h17v38h13v1h10v-18h16v-66h17v-48h19v-66h15v-31h8v39h8v20h20v8h8v12h18v20h7v12h14v-10h18v11h12v43h21v11h9v14h20v-95h15v-23h21v-48h12v-3h9v-9h21v-24h10v23h20v1h12v-19h16v-16h17v139h15v64h10v-27h18v-35h13v-35h11v-12h15v-9h9v-36h17v9h13v-9h10v-19h18v35h11v-11h13v31h10v-38h12v3h9v27h9v1h19v45h12v-26h10v2h21v-1h16v-48h11v-45h18v-35h20v-93h20v-99h9v-12h21v-1h8v-15h10v-5h21v20h10v-20h8v28h8v8h12v26h17v19h19v-40h14v-9h7v-1h20v5h9v-9h10v-18h18v12h10v19h12v-25h8v8h10v-1h9v-3h15v-12h12v24h18v10h15v-24h8v17h14v-8h11v-9h12v2h17v29h19v42h11v20h19v-76h7v4h5v6" fill="none" stroke="#70AD47" stroke-width="24.0" stroke-linejoin="round"/>
<path transform="scale(0.1)" d="M446 919v-6h8v-45h16v-82h21v-20h16v20h9v88h11v2h20v16h17v-35h11v53h21v40h8v13h8v10h16v26h14v-8h16v-33h9v20h20v43h16v-25h10v-21h16v38h12v34h11v75h14v9h18v-24h11v9h12v6h17v-7h9v21h17v-56h9v-23h17v30h17v27h10v28h15v19h16v-17h18v-7h20v8h19v-3h18v-14h12v-20h21v-57h9v-53h14v-37h16v-22h18v-40h11v8h12v25h17v25h7v22h19v28h10v-63h16v-30h9v-15h18v-15h19v5h19v-3h13v19h12v-1h15v26h7v16h14v-37h8v-5h11v13h7v7h8v-76h7v-55h13v-51h17v-34h12v-18h20v1h17v19h13v19h13v25h21v-61h13v20h12v34h13v44h15v-4h8v-44h15v-53h8v4h21v8h18v26h21v9h16v4h20v20h17v-13h13v31h10v-17h16v44h17v26h19v36h15v8h8v28h8v17h20v9h8v28h18v34h7v12h14v-5h18v-24h12v4h21v32h9v48h20v-54h15v33h21v-38h12v16h9v4h21v-63h10v-15h20v-13h12v-41h16v-33h17v144h15v29h10v-60h18v12h13v-3h11v1h15v-79h9v-35h17v-9h13v-4h10v27h18v9h11v1h13v38h10v-21h12v-32h9h9v-21h19v17h12v31h10v10h21v5h16v7h11v-17h18v-40h20v-18h20v-11h9v-27h21v-2h8v22h10v51h21v10h10v-6h8v4h8v-30h12v-19h17v-41h19v-81h14v-12h7v-30h20v28h9v3h10v-12h18v21h10v25h12v19h8v1h10v-50h9v-8h15v-78h12v12h18v45h15v8h8v-13h14v49h11v42h12v74h17v78h19v1h11v23h19v17h7v27h5v12" fill="none" stroke="#264478" stroke-width="24.0" stroke-linejoin="round"/>
<line x1="46.75" x2="63.75" y1="141.30" y2="141.30" stroke="#4472C4" stroke-width="2.2"/>
<text x="65.05" y="143.70" font-size="6.9" fill="#595959" stroke="#595959" stroke-width="0.12" textLength="47.2" lengthAdjust="spacingAndGlyphs">USDT-TRXVBDG</text>
<line x1="116.85" x2="133.85" y1="141.30" y2="141.30" stroke="#ED7D31" stroke-width="2.2"/>
<text x="135.15" y="143.70" font-size="6.9" fill="#595959" stroke="#595959" stroke-width="0.12" textLength="47.8" lengthAdjust="spacingAndGlyphs">XAUR-TRXVBDG</text>
<line x1="186.95" x2="203.95" y1="141.30" y2="141.30" stroke="#A5A5A5" stroke-width="2.2"/>
<text x="205.25" y="143.70" font-size="6.9" fill="#595959" stroke="#595959" stroke-width="0.12" textLength="42.7" lengthAdjust="spacingAndGlyphs">GLC-TRXVBDG</text>
<line x1="46.75" x2="63.75" y1="155.30" y2="155.30" stroke="#FFC000" stroke-width="2.2"/>
<text x="65.05" y="157.70" font-size="6.9" fill="#595959" stroke="#595959" stroke-width="0.12" textLength="49.4" lengthAdjust="spacingAndGlyphs">MNTP-TRXVBDG</text>
<line x1="116.85" x2="133.85" y1="155.30" y2="155.30" stroke="#5B9BD5" stroke-width="2.2"/>
<text x="135.15" y="157.70" font-size="6.9" fill="#595959" stroke="#595959" stroke-width="0.12" textLength="42.6" lengthAdjust="spacingAndGlyphs">XBX-TRXVBDG</text>
<line x1="186.95" x2="203.95" y1="155.30" y2="155.30" stroke="#70AD47" stroke-width="2.2"/>
<text x="205.25" y="157.70" font-size="6.9" fill="#595959" stroke="#595959" stroke-width="0.12" textLength="43.8" lengthAdjust="spacingAndGlyphs">HGT-TRXVBDG</text>
<line x1="46.75" x2="63.75" y1="169.30" y2="169.30" stroke="#264478" stroke-width="2.2"/>
<text x="65.05" y="171.70" font-size="6.9" fill="#595959" stroke="#595959" stroke-width="0.12" textLength="41.6" lengthAdjust="spacingAndGlyphs">DAI-TRXVBDG</text>
</g>
<g transform="translate(900,180)">
<text x="149.10" y="18.2" text-anchor="middle" font-size="10.6" fill="#595959" stroke="#595959" stroke-width="0.3" textLength="192.4" lengthAdjust="spacingAndGlyphs">Asset-backed cryptocurrencies vs TRXVIT</text>
<line x1="42.90" x2="289.40" y1="32.05" y2="32.05" stroke="#E9E9E9" stroke-width="0.9"/>
<text x="36.20" y="34.35" text-anchor="end" font-size="7.3" fill="#595959" stroke="#595959" stroke-width="0.22" textLength="28.78" lengthAdjust="spacingAndGlyphs">0.250000</text>
<line x1="42.90" x2="289.40" y1="43.98" y2="43.98" stroke="#E9E9E9" stroke-width="0.9"/>
<text x="36.20" y="46.28" text-anchor="end" font-size="7.3" fill="#595959" stroke="#595959" stroke-width="0.22" textLength="28.78" lengthAdjust="spacingAndGlyphs">0.200000</text>
<line x1="42.90" x2="289.40" y1="55.92" y2="55.92" stroke="#E9E9E9" stroke-width="0.9"/>
<text x="36.20" y="58.22" text-anchor="end" font-size="7.3" fill="#595959" stroke="#595959" stroke-width="0.22" textLength="28.78" lengthAdjust="spacingAndGlyphs">0.150000</text>
<line x1="42.90" x2="289.40" y1="67.85" y2="67.85" stroke="#E9E9E9" stroke-width="0.9"/>
<text x="36.20" y="70.15" text-anchor="end" font-size="7.3" fill="#595959" stroke="#595959" stroke-width="0.22" textLength="28.78" lengthAdjust="spacingAndGlyphs">0.100000</text>
<line x1="42.90" x2="289.40" y1="79.78" y2="79.78" stroke="#E9E9E9" stroke-width="0.9"/>
<text x="36.20" y="82.08" text-anchor="end" font-size="7.3" fill="#595959" stroke="#595959" stroke-width="0.22" textLength="28.78" lengthAdjust="spacingAndGlyphs">0.050000</text>
<line x1="42.90" x2="289.40" y1="91.72" y2="91.72" stroke="#E9E9E9" stroke-width="0.9"/>
<text x="36.20" y="94.02" text-anchor="end" font-size="7.3" fill="#595959" stroke="#595959" stroke-width="0.22" textLength="28.78" lengthAdjust="spacingAndGlyphs">0.000000</text>
<line x1="42.90" x2="289.40" y1="103.65" y2="103.65" stroke="#E9E9E9" stroke-width="0.9"/>
<text x="36.20" y="105.95" text-anchor="end" font-size="7.3" fill="#595959" stroke="#595959" stroke-width="0.22" textLength="31.07" lengthAdjust="spacingAndGlyphs">-0.050000</text>
<line x1="42.90" x2="289.40" y1="115.58" y2="115.58" stroke="#E9E9E9" stroke-width="0.9"/>
<text x="36.20" y="117.88" text-anchor="end" font-size="7.3" fill="#595959" stroke="#595959" stroke-width="0.22" textLength="31.07" lengthAdjust="spacingAndGlyphs">-0.100000</text>
<line x1="42.90" x2="289.40" y1="127.52" y2="127.52" stroke="#E9E9E9" stroke-width="0.9"/>
<text x="36.20" y="129.82" text-anchor="end" font-size="7.3" fill="#595959" stroke="#595959" stroke-width="0.22" textLength="31.07" lengthAdjust="spacingAndGlyphs">-0.150000</text>
<line x1="42.90" x2="289.40" y1="139.45" y2="139.45" stroke="#E9E9E9" stroke-width="0.9"/>
<text x="36.20" y="141.75" text-anchor="end" font-size="7.3" fill="#595959" stroke="#595959" stroke-width="0.22" textLength="31.07" lengthAdjust="spacingAndGlyphs">-0.200000</text>
<text x="43.0" y="104.02" text-anchor="middle" font-size="6.9" fill="#595959" stroke="#595959" stroke-width="0.1">6-Apr-18</text>
<line x1="43.00" x2="43.00" y1="91.72" y2="94.72" stroke="#DDDDDD" stroke-width="0.8"/>
<text x="91.3" y="104.02" text-anchor="middle" font-size="6.9" fill="#595959" stroke="#595959" stroke-width="0.1">6-Apr-19</text>
<line x1="91.30" x2="91.30" y1="91.72" y2="94.72" stroke="#DDDDDD" stroke-width="0.8"/>
<text x="139.6" y="104.02" text-anchor="middle" font-size="6.9" fill="#595959" stroke="#595959" stroke-width="0.1">6-Apr-20</text>
<line x1="139.60" x2="139.60" y1="91.72" y2="94.72" stroke="#DDDDDD" stroke-width="0.8"/>
<text x="187.9" y="104.02" text-anchor="middle" font-size="6.9" fill="#595959" stroke="#595959" stroke-width="0.1">6-Apr-21</text>
<line x1="187.90" x2="187.90" y1="91.72" y2="94.72" stroke="#DDDDDD" stroke-width="0.8"/>
<text x="236.2" y="104.02" text-anchor="middle" font-size="6.9" fill="#595959" stroke="#595959" stroke-width="0.1">6-Apr-22</text>
<line x1="236.20" x2="236.20" y1="91.72" y2="94.72" stroke="#DDDDDD" stroke-width="0.8"/>
<text x="284.5" y="104.02" text-anchor="middle" font-size="6.9" fill="#595959" stroke="#595959" stroke-width="0.1">6-Apr-23</text>
<line x1="284.50" x2="284.50" y1="91.72" y2="94.72" stroke="#DDDDDD" stroke-width="0.8"/>
<path transform="scale(0.1)" d="M439 901v8h20v-12h13v-28h7v11h16v-5h8v-35h15v8h14v5h8v-17h14v-8h9v17h14h13v10h8v3h9v-2h20v30h17v11h12v-1h8v-35h17v27h13v-8h16v-54h8v22h11v-5h8v1h7v7h18v-3h19v23h13h9v-34h18v18h16v11h16v45h15v-15h9v-28h14v-4h20v-38h9v35h8v27h12v3h7v18h9v-5h19v14h16v-14h11v-8h14v-21h12v8h9v40h18v1h11v-24h7v-29h15v15h7v16h16v-33h11v4h7v-32h13v55h14v13h11v-18h16v-18h20h10v-2h15v4h12v12h7v-2h10v5h11v25h7v-21h14v-35h8v-9h15v5h8v22h14v1h17v16h7v12h16v-16h12v8h19v-16h17v48h20v-18h13v-46h21v19h20v-16h15v31h8v-24h20v11h11v12h8v-4h13v13h20v-23h7v-1h8v10h9v3h12v7h15v15h19v-3h16v-60h10v-4h15v42h16v24h12v44h15v-14h17h7v3h9v4h21v14h16v6h14v-29h12v6h13v-5h17v-52h9v-39h8v1h8v7h9v-49h15v-13h18v8h7v7h15v6h16v18h18v28h10v7h13v-9h19v-19h21v50h8v-17h20v19h8v3h12v7h21v-36h10v16h12v5h20v31h13v15h10v7h19v-22h10v27h15v19h14v1h20v32h8v-26h16v40h18v9h8v3h13v-15h19v-31h9v1h19v-8h11v26h13v-29h13v-28h13v-16h8v-14h16v5h9v10h8v17h13v-5h17v-24h15v2h10v-4h15v7h16v14h10v12h14v16h11v11h11v17h12v-9h10v-9h18v-44h20v-27h20v-24h16v-9h8v18h11v48h9v21h18v37h17v15h21v-2h20v49h17v40h16v6h19v-1h11v9h8v14h18v-26h2v-3" fill="none" stroke="#4472C4" stroke-width="24.0" stroke-linejoin="round"/>
<path transform="scale(0.1)" d="M439 927v13h20v-9h13v-35h7v6h16v-13h8v-25h15v-2h14v7h8v-11h14v-14h9v12h14v13h13v-29h8v-30h9v-10h20v-4h17v4h12v-17h8v-4h17v-1h13v-38h16v-7h8v-65h11v31h8v1h7v15h18v-14h19v7h13v21h9h18v-3h16v65h16v2h15v2h9v9h14v-49h20v44h9v-6h8v25h12v-21h7v53h9v2h19v30h16v-25h11v2h14v25h12v-21h9v1h18v4h11v10h7v-6h15v17h7v-3h16v10h11v32h7v10h13v-29h14v6h11v22h16v-23h20v30h10v-16h15v61h12v51h7v20h10v36h11v-14h7v-11h14v-7h8v-19h15v-46h8v17h14v32h17v-169h7v-76h16v-40h12v12h19v-3h17v18h20v15h13v-27h21v47h20v2h15v12h8v-4h20v-53h11v10h8v-20h13v7h20v-23h7v-4h8v12h9v9h12v-14h15v39h19v-10h16v-50h10v9h15v-15h16v44h12v36h15v-20h17v-15h7v22h9v-6h21v72h16v-31h14v-4h12v52h13v29h17v-1h9v-10h8v16h8v51h9v18h15v-13h18v-104h7v-2h15v-42h16v-41h18v11h10v5h13v4h19v-18h21v32h8v-16h20v35h8v18h12v102h21v-19h10v-13h12v-35h20v-22h13v-18h10v16h19v43h10v-3h15v19h14v9h20v63h8v-39h16v33h18v-1h8v12h13v-22h19v-31h9v28h19v28h11v23h13v-19h13v-51h13v-45h8v21h16v-26h9v-16h8v3h13v7h17v-43h15v-16h10v-16h15v-20h16v-7h10v-26h14v55h11v7h11v6h12v8h10v30h18v-1h20v-18h20v-32h16v-4h8v-5h11v-32h9v81h18v45h17v18h21v-38h20v-5h17v28h16v-30h19v41h11v-14h8v-19h18v-27h2" fill="none" stroke="#ED7D31" stroke-width="24.0" stroke-linejoin="round"/>
<path transform="scale(0.1)" d="M439 885v17h20v20h13v-20h7v-14h16v-30h8v-15h15v7h14v-7h8v-48h14v20h9v11h14v2h13v10h8v-10h9v-3h20v32h17v6h12v44h8v35h17v28h13v5h16v-51h8v-27h11v-21h8v-57h7v2h18v42h19v26h13v1h9v-3h18v-1h16v33h16v8h15v8h9v14h14v-2h20v10h9v33h8v3h12v-28h7v38h9v-8h19v1h16v-20h11v-8h14v48h12v-35h9v28h18v1h11v9h7v1h15v14h7v21h16v4h11v13h7v-4h13v11h14v47h11v-29h16v-43h20v-44h10v-3h15v-19h12h7v-5h10v-40h11v-10h7v-6h14v2h8v-19h15v-17h8v15h14v-49h17v-123h7v-94h16v3h12v22h19v23h17v4h20v3h13v2h21v17h20v6h15v-27h8v8h20v-4h11v7h8v2h13v14h20v1h7v-11h8v24h9v-5h12v3h15v2h19v-21h16v-41h10v16h15v19h16v57h12v50h15v-75h17v-34h7v-12h9v-25h21v9h16v46h14v-72h12v-2h13v7h17v37h9v34h8v14h8v38h9v8h15v8h18v-53h7v18h15v8h16v-34h18v34h10v32h13v-15h19v-36h21v22h8v-42h20v8h8v-31h12v17h21v-58h10v-79h12v-49h20v32h13v21h10v-23h19v18h10v7h15v3h14v19h20v67h8v5h16v-1h18v-21h8v13h13v5h19v21h9v-8h19v-6h11v23h13v44h13v30h13v21h8v30h16v16h9v18h8v6h13v13h17v6h15v-19h10v19h15v10h16v-15h10v16h14v20h11v12h11v15h12v-27h10v-7h18v-11h20v-17h20v-39h16v-10h8v17h11v77h9v33h18v6h17v-16h21v27h20v4h17v-7h16v17h19v18h11v2h8v10h18v9h2v31" fill="none" stroke="#A5A5A5" stroke-width="24.0" stroke-linejoin="round"/>
<path transform="scale(0.1)" d="M439 943v-1h20v-30h13v22h7v-24h16v-37h8v9h15v36h14v-13h8v-16h14v8h9v17h14v-6h13v13h8v8h9v10h20v65h17v62h12v49h8v17h17v55h13v-49h16v-51h8v-23h11v-25h8v15h7v-12h18v19h19v56h13v-11h9v-17h18v-15h16v17h16v11h15v-5h9v-23h14v-43h20v-48h9v-7h8v-17h12v-32h7v19h9v-42h19v-15h16v-13h11v6h14v32h12v-14h9v-17h18v30h11v31h7v-41h15v-22h7v-39h16v-16h11v9h7v5h13v1h14v66h11v41h16v24h20v-42h10v32h15v39h12v28h7v19h10v32h11v-14h7v-16h14v-33h8v-44h15v3h8v30h14v-28h17v-90h7v-194h16v-240h12v-17h19v13h17v34h20v13h13v26h21v23h20v4h15v-3h8v-10h20v2h11v47h8v-6h13v32h20v28h7v65h8v25h9v20h12v23h15v7h19v53h16v7h10v9h15v14h16v51h12v63h15v-7h17v2h7v-4h9v9h21v-1h16v42h14v-33h12v19h13v6h17v-4h9v38h8v-27h8v-7h9v-9h15v-51h18v20h7v8h15v-62h16v-56h18v-39h10v7h13v10h19v-20h21v3h8v-40h20v5h8v22h12v16h21v-1h10v15h12v19h20v30h13v28h10v-2h19h10v7h15v-10h14v-3h20v16h8v-11h16v41h18v-36h8v-3h13v21h19v-41h9v-19h19v-30h11v-6h13v-44h13v-35h13v-12h8v-4h16v27h9v-16h8v6h13v-12h17v4h15v2h10v8h15v16h16v5h10v-46h14v-7h11v-76h11v-16h12v-3h10v66h18v3h20h20v-62h16v47h8v23h11v-10h9v-13h18v-8h17v36h21v-38h20v89h17v8h16v51h19v19h11v27h8v-36h18v6h2v19" fill="none" stroke="#FFC000" stroke-width="24.0" stroke-linejoin="round"/>
<path transform="scale(0.1)" d="M439 897v-9h20v-98h13v23h7v-13h16v7h8v-20h15v-10h14v7h8v-33h14v4h9v1h14v8h13v12h8v33h9v20h20v27h17v42h12v-49h8v9h17v-50h13v-16h16v-10h8v7h11v23h8v8h7v5h18v25h19v-11h13v17h9h18v-2h16v-17h16v-32h15v9h9v5h14v10h20v23h9v-4h8v5h12v-42h7v-4h9v-30h19v6h16v20h11v-23h14v57h12v8h9v13h18v-11h11v-14h7v-9h15v-47h7v-35h16v-42h11v18h7v2h13v20h14v58h11v-53h16v-2h20v8h10v15h15v21h12v25h7v15h10v7h11v18h7v1h14v14h8v-16h15h8v15h14v8h17v-133h7v-44h16v-32h12v-2h19v-73h17v27h20v45h13v14h21v5h20v-39h15v-7h8v-36h20v78h11v3h8v-3h13v-17h20v35h7v17h8v-17h9v-28h12v45h15v2h19v-33h16v-28h10v22h15v20h16v-8h12v27h15v14h17v3h7v15h9v16h21v5h16v26h14v-13h12v16h13v12h17v30h9v11h8v20h8v21h9v19h15v3h18v13h7v-13h15v-66h16v-110h18v-58h10v9h13v15h19v-2h21v-57h8v-42h20v62h8v-47h12v-11h21h10v-19h12v-51h20v193h13h10v-10h19v-43h10v-18h15v16h14v5h20v-7h8v34h16v64h18v5h8v35h13v-14h19v-34h9v-19h19v-57h11v-49h13v-21h13v50h13v12h8v27h16v5h9v11h8v-11h13h17v-16h15v-13h10v-21h15v4h16v-6h10v-15h14v-9h11v4h11v26h12v5h10v-61h18v-28h20v53h20v-43h16v-31h8v10h11v-29h9v44h18v32h17v-3h21v-35h20v-13h17v57h16v36h19v57h11v10h8v-2h18v-55h2v14" fill="none" stroke="#5B9BD5" stroke-width="24.0" stroke-linejoin="round"/>
<path transform="scale(0.1)" d="M439 928v-1h20v2h13v9h7v22h16v32h8v82h15v-27h14v-61h8v-11h14v7h9v-2h14v-22h13v-16h8v80h9v71h20v21h17v-42h12v-47h8v3h17v-28h13v18h16v-11h8v-54h11v3h8v-50h7v-23h18v42h19v44h13v-47h9v-1h18h16v-11h16v-36h15h9v16h14v-6h20v2h9v30h8v-11h12v13h7v28h9v6h19v49h16v7h11v54h14v22h12v3h9v-32h18v-37h11v17h7v-6h15v9h7v-13h16v1h11v-4h7v3h13v-33h14v70h11v-12h16v-35h20v-24h10v5h15v5h12v6h7v-6h10v-21h11v-4h7v-13h14v7h8v6h15v8h8v-69h14v22h17v-30h7v-128h16v-45h12v-1h19v-17h17v18h20v-39h13v40h21v49h20v22h15v54h8v-2h20v40h11v-7h8v21h13v30h20v76h7v14h8v-3h9v11h12v19h15v-21h19v-45h16v-46h10v18h15h16v1h12v2h15v11h17v-1h7v-1h9h21v21h16v2h14v-12h12v39h13v26h17v20h9v-2h8v46h8v28h9v-16h15v-39h18v-46h7v-12h15v-25h16v-45h18v-34h10v12h13v28h19v-8h21v-3h8v-31h20v-50h8v2h12v-3h21v-32h10v-9h12v-12h20v13h13v14h10v26h19v13h10h15v17h14v23h20v20h8v4h16v-5h18v-9h8v-29h13v20h19v-16h9v-3h19v-22h11v-45h13v-64h13v-38h13v-44h8v-31h16v-102h9v26h8v38h13v14h17v25h15v5h10v14h15v31h16v-9h10v18h14v-2h11v19h11v-40h12v13h10v-20h18v-49h20v-23h20v-3h16v15h8v7h11v-14h9v39h18v23h17v-11h21v16h20v69h17v-13h16v57h19v24h11v-7h8v-62h18v36h2v44" fill="none" stroke="#70AD47" stroke-width="24.0" stroke-linejoin="round"/>
<path transform="scale(0.1)" d="M439 929v-3h20v-63h13v-64h7v-9h16v4h8v4h15v-10h14v3h8v8h14v43h9v8h14v-36h13v-17h8v-8h9v1h20v12h17v-16h12v-25h8v-2h17v-39h13v-15h16v14h8v8h11v-29h8v-14h7v4h18v66h19v28h13v16h9v4h18v7h16v82h16v-7h15v-47h9v13h14v47h20v33h9v26h8v9h12v33h7v-9h9v-25h19v59h16v9h11v-32h14v20h12v-27h9v17h18v-11h11v-3h7v-22h15v-10h7h16v27h11v21h7v12h13v10h14v-23h11v-3h16v-82h20v-60h10v17h15v-35h12v12h7v-9h10v-5h11v1h7v-11h14v53h8v-33h15v-13h8v5h14v-5h17v77h7v141h16v151h12v17h19v-47h17v-12h20v-28h13v-45h21v-4h20v-6h15v8h8v-4h20v-57h11v-53h8v-54h13v-30h20v10h7v21h8v38h9v-11h12v2h15v-4h19v36h16v1h10v82h15v4h16v-18h12v-8h15v17h17v-4h7v-8h9v-2h21v9h16v32h14v13h12v22h13v-15h17v29h9v11h8v12h8v28h9v32h15v-86h18v-62h7v-15h15v-16h16v-22h18v2h10v16h13v24h19v1h21v-11h8v-19h20v-14h8v57h12v37h21v-47h10v8h12v3h20v-121h13v-80h10v29h19v9h10v14h15v10h14v-1h20v-27h8v-6h16v-14h18v24h8v38h13v-34h19v6h9v32h19v5h11v-8h13v-33h13v-58h13v-54h8v19h16v10h9v-18h8v43h13h17v6h15v7h10v-66h15v-3h16v-27h10v-25h14v-10h11v-14h11v-26h12v-22h10v17h18v35h20v6h20v9h16v17h8v8h11v3h9v-78h18v-48h17v3h21v-12h20v80h17v69h16v44h19v28h11v16h8v20h14v28" fill="none" stroke="#264478" stroke-width="24.0" stroke-linejoin="round"/>
<line x1="27.00" x2="44.00" y1="155.70" y2="155.70" stroke="#4472C4" stroke-width="2.2"/>
<text x="45.30" y="158.10" font-size="6.9" fill="#595959" stroke="#595959" stroke-width="0.12" textLength="39.5" lengthAdjust="spacingAndGlyphs">USDT-TRXVIT</text>
<line x1="89.25" x2="106.25" y1="155.70" y2="155.70" stroke="#ED7D31" stroke-width="2.2"/>
<text x="107.55" y="158.10" font-size="6.9" fill="#595959" stroke="#595959" stroke-width="0.12" textLength="40.1" lengthAdjust="spacingAndGlyphs">XAUR-TRXVIT</text>
<line x1="151.50" x2="168.50" y1="155.70" y2="155.70" stroke="#A5A5A5" stroke-width="2.2"/>
<text x="169.80" y="158.10" font-size="6.9" fill="#595959" stroke="#595959" stroke-width="0.12" textLength="34.9" lengthAdjust="spacingAndGlyphs">GLC-TRXVIT</text>
<line x1="213.75" x2="230.75" y1="155.70" y2="155.70" stroke="#FFC000" stroke-width="2.2"/>
<text x="232.05" y="158.10" font-size="6.9" fill="#595959" stroke="#595959" stroke-width="0.12" textLength="41.7" lengthAdjust="spacingAndGlyphs">MNTP-TRXVIT</text>
<line x1="27.00" x2="44.00" y1="169.60" y2="169.60" stroke="#5B9BD5" stroke-width="2.2"/>
<text x="45.30" y="172.00" font-size="6.9" fill="#595959" stroke="#595959" stroke-width="0.12" textLength="34.9" lengthAdjust="spacingAndGlyphs">XBX-TRXVIT</text>
<line x1="89.25" x2="106.25" y1="169.60" y2="169.60" stroke="#70AD47" stroke-width="2.2"/>
<text x="107.55" y="172.00" font-size="6.9" fill="#595959" stroke="#595959" stroke-width="0.12" textLength="36.1" lengthAdjust="spacingAndGlyphs">HGT-TRXVIT</text>
<line x1="151.50" x2="168.50" y1="169.60" y2="169.60" stroke="#264478" stroke-width="2.2"/>
<text x="169.80" y="172.00" font-size="6.9" fill="#595959" stroke="#595959" stroke-width="0.12" textLength="33.9" lengthAdjust="spacingAndGlyphs">DAI-TRXVIT</text>
</g>
<g transform="translate(0,360)">
<text x="150.30" y="18.2" text-anchor="middle" font-size="10.6" fill="#595959" stroke="#595959" stroke-width="0.3" textLength="193.3" lengthAdjust="spacingAndGlyphs">Conventional cryptocurrencies vs TRXVJP</text>
<line x1="44.10" x2="290.60" y1="32.05" y2="32.05" stroke="#E9E9E9" stroke-width="0.9"/>
<text x="37.40" y="34.35" text-anchor="end" font-size="7.3" fill="#595959" stroke="#595959" stroke-width="0.22" textLength="28.78" lengthAdjust="spacingAndGlyphs">0.250000</text>
<line x1="44.10" x2="290.60" y1="43.98" y2="43.98" stroke="#E9E9E9" stroke-width="0.9"/>
<text x="37.40" y="46.28" text-anchor="end" font-size="7.3" fill="#595959" stroke="#595959" stroke-width="0.22" textLength="28.78" lengthAdjust="spacingAndGlyphs">0.200000</text>
<line x1="44.10" x2="290.60" y1="55.92" y2="55.92" stroke="#E9E9E9" stroke-width="0.9"/>
<text x="37.40" y="58.22" text-anchor="end" font-size="7.3" fill="#595959" stroke="#595959" stroke-width="0.22" textLength="28.78" lengthAdjust="spacingAndGlyphs">0.150000</text>
<line x1="44.10" x2="290.60" y1="67.85" y2="67.85" stroke="#E9E9E9" stroke-width="0.9"/>
<text x="37.40" y="70.15" text-anchor="end" font-size="7.3" fill="#595959" stroke="#595959" stroke-width="0.22" textLength="28.78" lengthAdjust="spacingAndGlyphs">0.100000</text>
<line x1="44.10" x2="290.60" y1="79.78" y2="79.78" stroke="#E9E9E9" stroke-width="0.9"/>
<text x="37.40" y="82.08" text-anchor="end" font-size="7.3" fill="#595959" stroke="#595959" stroke-width="0.22" textLength="28.78" lengthAdjust="spacingAndGlyphs">0.050000</text>
<line x1="44.10" x2="290.60" y1="91.72" y2="91.72" stroke="#E9E9E9" stroke-width="0.9"/>
<text x="37.40" y="94.02" text-anchor="end" font-size="7.3" fill="#595959" stroke="#595959" stroke-width="0.22" textLength="28.78" lengthAdjust="spacingAndGlyphs">0.000000</text>
<line x1="44.10" x2="290.60" y1="103.65" y2="103.65" stroke="#E9E9E9" stroke-width="0.9"/>
<text x="37.40" y="105.95" text-anchor="end" font-size="7.3" fill="#595959" stroke="#595959" stroke-width="0.22" textLength="31.07" lengthAdjust="spacingAndGlyphs">-0.050000</text>
<line x1="44.10" x2="290.60" y1="115.58" y2="115.58" stroke="#E9E9E9" stroke-width="0.9"/>
<text x="37.40" y="117.88" text-anchor="end" font-size="7.3" fill="#595959" stroke="#595959" stroke-width="0.22" textLength="31.07" lengthAdjust="spacingAndGlyphs">-0.100000</text>
<line x1="44.10" x2="290.60" y1="127.52" y2="127.52" stroke="#E9E9E9" stroke-width="0.9"/>
<text x="37.40" y="129.82" text-anchor="end" font-size="7.3" fill="#595959" stroke="#595959" stroke-width="0.22" textLength="31.07" lengthAdjust="spacingAndGlyphs">-0.150000</text>
<line x1="44.10" x2="290.60" y1="139.45" y2="139.45" stroke="#E9E9E9" stroke-width="0.9"/>
<text x="37.40" y="141.75" text-anchor="end" font-size="7.3" fill="#595959" stroke="#595959" stroke-width="0.22" textLength="31.07" lengthAdjust="spacingAndGlyphs">-0.200000</text>
<text x="44.2" y="104.02" text-anchor="middle" font-size="6.9" fill="#595959" stroke="#595959" stroke-width="0.1">6-Apr-18</text>
<line x1="44.20" x2="44.20" y1="91.72" y2="94.72" stroke="#DDDDDD" stroke-width="0.8"/>
<text x="92.5" y="104.02" text-anchor="middle" font-size="6.9" fill="#595959" stroke="#595959" stroke-width="0.1">6-Apr-19</text>
<line x1="92.50" x2="92.50" y1="91.72" y2="94.72" stroke="#DDDDDD" stroke-width="0.8"/>
<text x="140.8" y="104.02" text-anchor="middle" font-size="6.9" fill="#595959" stroke="#595959" stroke-width="0.1">6-Apr-20</text>
<line x1="140.80" x2="140.80" y1="91.72" y2="94.72" stroke="#DDDDDD" stroke-width="0.8"/>
<text x="189.1" y="104.02" text-anchor="middle" font-size="6.9" fill="#595959" stroke="#595959" stroke-width="0.1">6-Apr-21</text>
<line x1="189.10" x2="189.10" y1="91.72" y2="94.72" stroke="#DDDDDD" stroke-width="0.8"/>
<text x="237.4" y="104.02" text-anchor="middle" font-size="6.9" fill="#595959" stroke="#595959" stroke-width="0.1">6-Apr-22</text>
<line x1="237.40" x2="237.40" y1="91.72" y2="94.72" stroke="#DDDDDD" stroke-width="0.8"/>
<text x="285.7" y="104.02" text-anchor="middle" font-size="6.9" fill="#595959" stroke="#595959" stroke-width="0.1">6-Apr-23</text>
<line x1="285.70" x2="285.70" y1="91.72" y2="94.72" stroke="#DDDDDD" stroke-width="0.8"/>
<path transform="scale(0.1)" d="M453 893v-7h19v37h10v40h16v2h8v2h19v3h15h18v9h17v1h19v36h19v32h8v-2h11v-49h14v15h11v47h7v35h14v54h13v22h21v9h18v-10h14v-9h9v-39h14v45h10v20h20v15h19v-38h21v-31h8v-37h9v-35h21v-68h8v-4h19v-12h10v16h20v56h15v-18h21v15h17v-8h12v-1h19v-18h19v-26h13v-4h15v-22h16v6h20v14h9v15h11v8h17v15h8v-10h14v11h11v-4h16v-16h11v-12h12v-12h18v-28h11v-12h15v-54h10v-21h17v-24h19v-16h12v25h20v62h16v37h20v-20h11v2h8v-9h14v5h13v-63h21v14h9v10h9v8h9v-4h18v-21h16v-10h8v-15h11v-11h11v-39h19v-2h11v-6h20v16h7v29h18v44h14v-29h21v4h19v-45h15v4h20v-21h15v-24h19v-37h18v-1h20v24h13v54h16v11h21v24h10v10h18v26h17v-28h13v-20h11v-16h11v-7h17v59h16v-4h20v43h14v5h16v43h17v-58h18v-8h7v-9h13v6h9v-32h16v-28h18v-7h10v-16h17v-30h14v2h17v14h10v-24h20v-4h11v9h8v-8h8v52h15v29h9v47h12v12h10v-13h10v18h18v31h13v-11h17v-2h11v49h20v16h20v-29h14v-57h21v61h7v-18h16v24h18h15v-37h17v-49h18v-1h19v-15h16v-4h19v-31h7v13h9v25h9v-5h14v-19h20v1h17v1h14v40h20v-11h11v20h8v2h19v3h18v-1h8v19h8v-7h8v-11h14v10h9v-25h13v-10h17v28h12v-5h19v-27h14v-58h12v16h19v-30h8v3h16v-6h16v8h18v-23h15v18" fill="none" stroke="#4472C4" stroke-width="24.0" stroke-linejoin="round"/>
<path transform="scale(0.1)" d="M453 890v7h19v27h10v20h16v3h8v11h19v3h15v-4h18v20h17v-11h19v20h19v30h8v-2h11v-47h14v19h11v17h7v24h14v38h13v6h21v10h18v36h14v32h9v-23h14v59h10v8h20v-20h19v-27h21v-48h8v-31h9v-30h21v-52h8v-9h19v-21h10v2h20v46h15v-34h21v-16h17v-16h12v3h19v-23h19v-43h13v8h15v-11h16v-8h20v-5h9v1h11v-3h17v-1h8v18h14v27h11v-11h16v10h11v-23h12v4h18v-27h11v-50h15v-24h10v-7h17v-16h19v13h12v20h20v60h16v44h20v11h11v15h8v-7h14v16h13v-47h21v14h9v-2h9v-1h9h18v-33h16v-23h8v-18h11v-17h11v-30h19v-11h11v-5h20v31h7v34h18v37h14v-29h21v36h19v-46h15v7h20v-38h15v-32h19v-63h18v-8h20v28h13v45h16v2h21v10h10v41h18v58h17v-54h13v-33h11v-48h11v-35h17v43h16v4h20v25h14v5h16v58h17v-12h18v-29h7v-4h13v8h9v-27h16v-1h18v3h10v-23h17v-22h14v-16h17v14h10v-16h20v-20h11v10h8v16h8v26h15v13h9v30h12v-27h10v-59h10v-42h18v-35h13v37h17v46h11v68h20v44h20v-3h14v-26h21v94h7v-22h16v40h18v8h15v-43h17v-50h18v6h19v-58h16v-22h19v-30h7v24h9v30h9v6h14v16h20v3h17v-6h14v20h20v-10h11v7h8v-2h19v-4h18v13h8v23h8v5h8v-1h14v-4h9v2h13v-18h17v68h12v17h19v-8h14v-35h12v-59h19v-120h8v8h16v16h16v6h18v-19h15v14" fill="none" stroke="#ED7D31" stroke-width="24.0" stroke-linejoin="round"/>
<path transform="scale(0.1)" d="M453 868v-5h19v7h10v33h16v13h8v11h19v-5h15v-11h18v20h17v-26h19v9h19v41h8v-19h11v-85h14v-6h11v13h7v19h14v7h13v-21h21v39h18v51h14v49h9v-27h14v76h10v2h20v-29h19v-38h21v-32h8v-18h9v-40h21v-83h8v21h19v18h10v-31h20v83h15h21v4h17v-1h12v4h19v-26h19v-71h13v-21h15v35h16v61h20v30h9v2h11v4h17v17h8v-2h14v44h11v3h16v15h11v-5h12v-5h18v-23h11v-17h15v-30h10v-14h17v-12h19v-7h12v21h20v22h16v37h20h11v8h8v-12h14v-10h13v-46h21v-13h9v21h9v-4h9v6h18v-25h16v-10h8v-12h11v10h11v-49h19v-9h11v-13h20v-38h7v30h18v32h14v5h21v52h19v-23h15v27h20v-52h15v-24h19v-91h18v-33h20v-7h13v49h16v10h21v119h10v57h18v49h17v-5h13v-22h11v6h11h17v22h16v-38h20v-25h14v-6h16v63h17v-18h18v-44h7v-14h13v9h9v-33h16v9h18v-15h10v-15h17v-41h14v-49h17v11h10v-14h20v-7h11v-14h8v-26h8v27h15v22h9v48h12v-4h10v-7h10v39h18v40h13v7h17v-24h11v47h20v21h20v-45h14v-46h21v74h7v-12h16v51h18v-24h15v-22h17v-30h18v19h19v-46h16h19v-21h7v6h9v4h9v-16h14v2h20v-14h17v-22h14v3h20v-6h11v11h8v6h19v-7h18v11h8v6h8v-18h8v-10h14v-10h9v16h13v7h17v48h12v9h19v-40h14v-147h12v-68h19v55h8v26h16v4h16v-2h18v-40h2" fill="none" stroke="#A5A5A5" stroke-width="24.0" stroke-linejoin="round"/>
<path transform="scale(0.1)" d="M453 926v-9h19v23h10v23h16v9h8v14h19v13h15v5h18v22h17v-2h19v-10h19v21h8v7h11v-53h14v57h11v10h7v14h14v21h13v-3h21v18h18v20h14v27h9v-54h14v52h10v31h20v-17h19v3h21v-35h8v-16h9v-31h21v-32h8v-11h19v8h10v33h20v81h15v-19h21h17v12h12v11h19v-6h19v-22h13v-9h15v-38h16v9h20v-20h9v2h11v-15h17v-8h8v-15h14v11h11v-23h16v9h11v-12h12v-9h18v-17h11v-23h15v-49h10v-12h17v-25h19v11h12v39h20v73h16v73h20v-1h11v9h8v2h14v-23h13v-52h21v-13h9v-1h9v-5h9v-16h18v-9h16v-22h8v-17h11v-32h11v-28h19v-11h11v-6h20v-32h7v-9h18v15h14v-26h21v23h19v-64h15v-36h20v-100h15v-60h19v-48h18v-9h20v-36h13v19h16v33h21v109h10v74h18v7h17v-20h13v-18h11v1h11v15h17v52h16v3h20v19h14v13h16v64h17v31h18v25h7v-7h13v12h9v-13h16v11h18v19h10v15h17v-20h14v-9h17v-25h10v-30h20v24h11v-21h8v-26h8v-1h15v1h9v36h12v-10h10v-56h10v11h18v11h13v40h17v71h11v59h20v6h20v-6h14v-10h21v102h7v-12h16v14h18v-67h15v-55h17v-41h18v-14h19v-46h16v8h19v-26h7v3h9v-4h9v-7h14v22h20v6h17v3h14v12h20v-25h11v-22h8v-15h19v-3h18v10h8v-1h8v-16h8v-1h14v-3h9v4h13v11h17v12h12v14h19v-26h14v-47h12v3h19v-33h8v14h16v-1h16v8h18v-22h15v9" fill="none" stroke="#FFC000" stroke-width="24.0" stroke-linejoin="round"/>
<path transform="scale(0.1)" d="M453 894v-8h19v28h10v35h16v-1h8v-2h19v-22h15v-30h18v-18h17v-14h19v44h19v44h8v5h11v-65h14v11h11v12h7v25h14v37h13v41h21v45h18v18h14v22h9v-27h14v65h10v50h20v-3h19v-44h21v-26h8v-19h9v-31h21v-63h8v-14h19v-62h10v5h20v63h15v4h21v25h17v-18h12v16h19v-29h19v-20h13v-14h15v-6h16v29h20v25h9v-7h11v-17h17v16h8v-5h14v23h11v-3h16v-27h11v-5h12v-8h18v4h11v-29h15v-51h10v13h17v-19h19v21h12v24h20v36h16v27h20v2h11v-3h8v-15h14v-21h13v-42h21v-4h9v-4h9v7h9v-25h18v-21h16v17h8v-8h11v10h11v-3h19v66h11v32h20v12h7v31h18v55h14v-49h21v-16h19v-60h15v-3h20v-52h15v-30h19v-83h18v-30h20v-21h13v15h16v31h21v84h10v33h18v85h17v11h13v-9h11v-24h11h17v56h16v-19h20v27h14v-18h16v40h17v-32h18v15h7v-1h13v20h9v-20h16v-4h18v-12h10v-22h17v-20h14v-28h17v-14h10v-21h20v-36h11v-49h8v-22h8v26h15v38h9v56h12v19h10v-12h10v19h18v20h13v-1h17v10h11v62h20v24h20v-6h14v-24h21v77h7v-21h16v58h18v-36h15v-64h17v-93h18v9h19v-37h16v4h19v7h7v18h9v-2h9v-18h14v-10h20v-1h17v-35h14v-3h20v-35h11v21h8v4h19v18h18v38h8v15h8v-9h8v-7h14v-22h9v-17h13v-11h17v38h12v23h19v-56h14v-64h12v20h19v-25h8v1h16v3h16v9h18v-35h2v9" fill="none" stroke="#5B9BD5" stroke-width="24.0" stroke-linejoin="round"/>
<path transform="scale(0.1)" d="M453 889v-15h19v27h10v38h16v33h8v22h19v-54h15v-17h18v20h17v6h19v8h19v22h8v11h11v-44h14v20h11v11h7v14h14v35h13v17h21v13h18v13h14v17h9v-15h14v82h10v49h20v3h19v-45h21v-28h8v-31h9v-39h21v-57h8v-14h19v-16h10h20v41h15v-6h21v-4h17v-6h12h19v-31h19v-58h13v-23h15v-6h16v10h20v35h9v23h11v19h17v-17h8v-1h14v27h11v-12h16v-2h11h12h18v-4h11v-32h15v-48h10v-4h17v-20h19v-3h12v13h20v28h16v21h20v12h11v20h8v-15h14v19h13v-36h21v1h9v-4h9v3h9v-5h18v-8h16v-6h8v-9h11v-20h11v-38h19v-29h11h20v17h7v28h18v67h14v3h21v11h19v-30h15v-12h20v-52h15v-35h19v-68h18v-12h20v7h13v34h16v-4h21v15h10v-28h18v-22h17v-44h13v-38h11v-21h11v-28h17v49h16v14h20v54h14v28h16v40h17v-50h18v24h7v25h13v30h9v-21h16v31h18v11h10v-20h17v-18h14v-9h17v-14h10v-31h20v-29h11v-30h8v-19h8v18h15v15h9v45h12v-8h10v-18h10v15h18h13v5h17v101h11v57h20v46h20v18h14v-34h21v82h7v-24h16v43h18v-13h15v-29h17v-56h18v17h19v-38h16v-2h19v-32h7v2h9v-10h9v-15h14v2h20v40h17v-1h14v24h20v-35h11v24h8v11h19v67h18v58h8v26h8v4h8v-1h14v-28h9v-23h13v-17h17v-7h12v18h19v33h14v-26h12v40h19v-315h8v33h16v76h16v35h18v4h15v8" fill="none" stroke="#70AD47" stroke-width="24.0" stroke-linejoin="round"/>
<path transform="scale(0.1)" d="M453 881v-11h19v69h10v34h16v19h8v15h19v35h15v-9h18v-49h17v21h19v77h19v58h8v-3h11v-78h14v4h11v-1h7v31h14v23h13v1h21v15h18v27h14v47h9v-39h14v91h10v27h20v15h19v-56h21v-11h8v-16h9v-45h21v-63h8v-20h19v27h10v2h20v132h15v-51h21v-10h17v4h12v15h19v-9h19v-47h13v-74h15v-73h16v-8h20v-14h9v16h11v19h17v8h8v-18h14v27h11v-10h16v-10h11v2h12v-7h18v-22h11v-38h15v-75h10v-12h17v-32h19v6h12v-15h20v-14h16v37h20v27h11v17h8v3h14v-16h13v-40h21v-31h9v-9h9v6h9v-19h18v-11h16v17h8v-18h11v-21h11v-30h19v-10h11v-22h20v-41h7v26h18v59h14v-15h21v19h19v-48h15v29h20v-15h15v-8h19v-40h18v6h20v32h13v8h16v-12h21v36h10v27h18v41h17v-41h13v-7h11v3h11v8h17v38h16v-20h20v18h14v31h16v66h17h18v-6h7v-7h13v2h9v-23h16v-12h18v-11h10v-26h17v-41h14v-9h17v-5h10v-26h20v9h11v-13h8v14h8v35h15v9h9v58h12v30h10v-10h10v25h18v24h13v-53h17v-36h11v54h20v16h20v-33h14v-55h21v88h7v-5h16v51h18v17h15v-61h17v-40h18v12h19v-47h16v-23h19v-34h7v4h9v-18h9v-16h14v-19h20v2h17v15h14v32h20h11v-8h8v-50h19v-1h18v18h8v17h8v-7h8v-46h14v-14h9v25h13v11h17v39h12v15h19v32h14v-21h12v62h19v-157h8v23h16v29h16v28h18v-13h15v4" fill="none" stroke="#264478" stroke-width="24.0" stroke-linejoin="round"/>
<line x1="35.75" x2="52.75" y1="155.70" y2="155.70" stroke="#4472C4" stroke-width="2.2"/>
<text x="54.05" y="158.10" font-size="6.9" fill="#595959" stroke="#595959" stroke-width="0.12" textLength="35.5" lengthAdjust="spacingAndGlyphs">BTC-TRXVJP</text>
<line x1="94.45" x2="111.45" y1="155.70" y2="155.70" stroke="#ED7D31" stroke-width="2.2"/>
<text x="112.75" y="158.10" font-size="6.9" fill="#595959" stroke="#595959" stroke-width="0.12" textLength="35.7" lengthAdjust="spacingAndGlyphs">ETH-TRXVJP</text>
<line x1="153.15" x2="170.15" y1="155.70" y2="155.70" stroke="#A5A5A5" stroke-width="2.2"/>
<text x="171.45" y="158.10" font-size="6.9" fill="#595959" stroke="#595959" stroke-width="0.12" textLength="36.7" lengthAdjust="spacingAndGlyphs">BNB-TRXVJP</text>
<line x1="211.85" x2="228.85" y1="155.70" y2="155.70" stroke="#FFC000" stroke-width="2.2"/>
<text x="230.15" y="158.10" font-size="6.9" fill="#595959" stroke="#595959" stroke-width="0.12" textLength="35.6" lengthAdjust="spacingAndGlyphs">XRP-TRXVJP</text>
<line x1="35.75" x2="52.75" y1="169.60" y2="169.60" stroke="#5B9BD5" stroke-width="2.2"/>
<text x="54.05" y="172.00" font-size="6.9" fill="#595959" stroke="#595959" stroke-width="0.12" textLength="37.0" lengthAdjust="spacingAndGlyphs">ADA-TRXVJP</text>
<line x1="94.45" x2="111.45" y1="169.60" y2="169.60" stroke="#70AD47" stroke-width="2.2"/>
<text x="112.75" y="172.00" font-size="6.9" fill="#595959" stroke="#595959" stroke-width="0.12" textLength="34.6" lengthAdjust="spacingAndGlyphs">LTC-TRXVJP</text>
<line x1="153.15" x2="170.15" y1="169.60" y2="169.60" stroke="#264478" stroke-width="2.2"/>
<text x="171.45" y="172.00" font-size="6.9" fill="#595959" stroke="#595959" stroke-width="0.12" textLength="38.1" lengthAdjust="spacingAndGlyphs">XMR-TRXVJP</text>
</g>
<g transform="translate(300,360)">
<text x="150.20" y="18.2" text-anchor="middle" font-size="10.6" fill="#595959" stroke="#595959" stroke-width="0.3" textLength="197.0" lengthAdjust="spacingAndGlyphs">Conventional cryptocurrencies vs TRXVUK</text>
<line x1="44.00" x2="290.50" y1="32.05" y2="32.05" stroke="#E9E9E9" stroke-width="0.9"/>
<text x="37.30" y="34.35" text-anchor="end" font-size="7.3" fill="#595959" stroke="#595959" stroke-width="0.22" textLength="28.78" lengthAdjust="spacingAndGlyphs">0.150000</text>
<line x1="44.00" x2="290.50" y1="47.39" y2="47.39" stroke="#E9E9E9" stroke-width="0.9"/>
<text x="37.30" y="49.69" text-anchor="end" font-size="7.3" fill="#595959" stroke="#595959" stroke-width="0.22" textLength="28.78" lengthAdjust="spacingAndGlyphs">0.100000</text>
<line x1="44.00" x2="290.50" y1="62.74" y2="62.74" stroke="#E9E9E9" stroke-width="0.9"/>
<text x="37.30" y="65.04" text-anchor="end" font-size="7.3" fill="#595959" stroke="#595959" stroke-width="0.22" textLength="28.78" lengthAdjust="spacingAndGlyphs">0.050000</text>
<line x1="44.00" x2="290.50" y1="78.08" y2="78.08" stroke="#E9E9E9" stroke-width="0.9"/>
<text x="37.30" y="80.38" text-anchor="end" font-size="7.3" fill="#595959" stroke="#595959" stroke-width="0.22" textLength="28.78" lengthAdjust="spacingAndGlyphs">0.000000</text>
<line x1="44.00" x2="290.50" y1="93.42" y2="93.42" stroke="#E9E9E9" stroke-width="0.9"/>
<text x="37.30" y="95.72" text-anchor="end" font-size="7.3" fill="#595959" stroke="#595959" stroke-width="0.22" textLength="31.07" lengthAdjust="spacingAndGlyphs">-0.050000</text>
<line x1="44.00" x2="290.50" y1="108.76" y2="108.76" stroke="#E9E9E9" stroke-width="0.9"/>
<text x="37.30" y="111.06" text-anchor="end" font-size="7.3" fill="#595959" stroke="#595959" stroke-width="0.22" textLength="31.07" lengthAdjust="spacingAndGlyphs">-0.100000</text>
<line x1="44.00" x2="290.50" y1="124.11" y2="124.11" stroke="#E9E9E9" stroke-width="0.9"/>
<text x="37.30" y="126.41" text-anchor="end" font-size="7.3" fill="#595959" stroke="#595959" stroke-width="0.22" textLength="31.07" lengthAdjust="spacingAndGlyphs">-0.150000</text>
<line x1="44.00" x2="290.50" y1="139.45" y2="139.45" stroke="#E9E9E9" stroke-width="0.9"/>
<text x="37.30" y="141.75" text-anchor="end" font-size="7.3" fill="#595959" stroke="#595959" stroke-width="0.22" textLength="31.07" lengthAdjust="spacingAndGlyphs">-0.200000</text>
<text x="44.1" y="90.38" text-anchor="middle" font-size="6.9" fill="#595959" stroke="#595959" stroke-width="0.1">6-Apr-18</text>
<line x1="44.10" x2="44.10" y1="78.08" y2="81.08" stroke="#DDDDDD" stroke-width="0.8"/>
<text x="92.4" y="90.38" text-anchor="middle" font-size="6.9" fill="#595959" stroke="#595959" stroke-width="0.1">6-Apr-19</text>
<line x1="92.40" x2="92.40" y1="78.08" y2="81.08" stroke="#DDDDDD" stroke-width="0.8"/>
<text x="140.7" y="90.38" text-anchor="middle" font-size="6.9" fill="#595959" stroke="#595959" stroke-width="0.1">6-Apr-20</text>
<line x1="140.70" x2="140.70" y1="78.08" y2="81.08" stroke="#DDDDDD" stroke-width="0.8"/>
<text x="189.0" y="90.38" text-anchor="middle" font-size="6.9" fill="#595959" stroke="#595959" stroke-width="0.1">6-Apr-21</text>
<line x1="189.00" x2="189.00" y1="78.08" y2="81.08" stroke="#DDDDDD" stroke-width="0.8"/>
<text x="237.3" y="90.38" text-anchor="middle" font-size="6.9" fill="#595959" stroke="#595959" stroke-width="0.1">6-Apr-22</text>
<line x1="237.30" x2="237.30" y1="78.08" y2="81.08" stroke="#DDDDDD" stroke-width="0.8"/>
<text x="285.6" y="90.38" text-anchor="middle" font-size="6.9" fill="#595959" stroke="#595959" stroke-width="0.1">6-Apr-23</text>
<line x1="285.60" x2="285.60" y1="78.08" y2="81.08" stroke="#DDDDDD" stroke-width="0.8"/>
<path transform="scale(0.1)" d="M446 814v-8h16v-8h9v24h8v-7h9v-9h14v2h8v-56h11v-45h9v12h9v21h12v-26h9v-12h17v14h10v5h7h17v23h7v28h11v-43h8v26h16v-5h17v-5h13v-5h9v-7h20v-3h17v38h20v84h10v-21h20v-47h18v-29h16v-28h9v-11h18v5h12v-5h15v-20h21v-6h14v-20h10v-2h17v22h10v-5h7v20h11v18h9v-13h12v7h7v17h11v-43h8v19h10v-31h19v-14h13v21h18v32h15v11h10v16h15v28h8v52h10v-4h10v-20h15v41h14v-5h21v22h20v-3h9v-21h16v-4h10v8h16v22h13v3h17v12h12v8h11v16h17v26h17v-16h12v14h19v6h19v-14h20v-32h16h9v-27h19v14h12v-59h8v-38h19v16h20v35h18v27h10v-42h14v41h15v38h10v27h7v8h19v27h13v-3h8v12h10v-46h12v-5h12v22h18v-19h16v-17h11v-11h7v-20h15v68h15v-18h16v38h8v9h20v26h18v45h7v17h8v13h14v26h21v-29h20v-15h20v-9h11v-33h12v-11h15v-5h9v-4h16v-3h19v-41h21v9h19v77h11v25h15v5h18v-1h13v14h9v-3h19v-25h11v-10h8v-1h10v-41h21v-68h19v-76h20v-2h12v4h19v17h8v13h15v-41h21v-28h21v28h14v72h16v89h11v-29h10v-10h14v-58h10v3h18v-23h13v9h11v-25h10v15h20v-28h17v-82h15v-37h19v-27h19v18h8v-38h13v30h15v35h16v17h19v26h9v30h12v-29h16v-48h11v88h20v-46h9v-28h15v7h12v-6h19v34h8v23h7v-26h20v-8h16v41h14v-23h8v-24h21v-25h16v-1h19v-3h21v-41h7v-21h19v-48h16v-3h10v-3" fill="none" stroke="#4472C4" stroke-width="24.0" stroke-linejoin="round"/>
<path transform="scale(0.1)" d="M446 797v8h16v68h9v34h8v-27h9v-4h14v-12h8v-79h11v-54h9v-13h9v8h12v-31h9v10h17v-5h10v-5h7v-16h17v-27h7v18h11v-36h8v5h16v7h17v-17h13v17h9v13h20v23h17v9h20v11h10v-2h20v-28h18v-19h16v-23h9v-10h18v1h12v-3h15v-32h21v-5h14v1h10v4h17v-2h10v-23h7v5h11h9v-13h12v13h7v67h11v-21h8v21h10v-13h19v-13h13v30h18v29h15v28h10v16h15v8h8v41h10v18h10v-29h15v72h14v11h21v20h20v15h9v3h16v30h10v28h16v17h13v5h17v4h12v32h11v21h17v37h17v11h12v-5h19v-46h19v-37h20v-2h16v14h9v-38h19v-15h12v-5h8v-19h19v9h20v-11h18v-5h10v-37h14v38h15v26h10v12h7v4h19v28h13v22h8v14h10v1h12h12v16h18v-20h16v-42h11v-4h7v-21h15v32h15v12h16v46h8v2h20v14h18v-7h7v-27h8v-39h14v-24h21v22h20v28h20v-3h11v-23h12v2h15v-15h9v-7h16v-13h19v-41h21v-20h19v87h11v24h15v22h18v13h13v18h9v2h19v9h11v-7h8v-7h10v-67h21v-139h19v-47h20v14h12v16h19v-23h8v-4h15v-54h21v-74h21v116h14v90h16v72h11v-28h10v-13h14v-56h10v18h18v-12h13v22h11v-17h10v8h20v-15h17v-110h15v-66h19v-54h19v-36h8v-27h13v11h15v-2h16v41h19v84h9v84h12v18h16v-22h11v46h20v-79h9v-35h15v-17h12v-26h19v27h8v12h7v-18h20v4h16v76h14v-7h8v-39h21v-1h16v25h19v18h21v-47h7v-26h19v-24h16v16h10v-11" fill="none" stroke="#ED7D31" stroke-width="24.0" stroke-linejoin="round"/>
<path transform="scale(0.1)" d="M446 781v1h16v-19h9v22h8v-29h9v-16h14v-7h8v-45h11v-20h9v16h9v22h12v-7h9v10h17v15h10v-20h7v-20h17v3h7h11v-60h8v25h16v14h17v28h13v5h9v8h20v29h17v3h20v2h10v-14h20v-24h18v-2h16v4h9v24h18v61h12v19h15v-20h21v-79h14v17h10v14h17v2h10v-19h7v13h11v13h9v-15h12v1h7v44h11v-51h8v7h10v-42h19v1h13v27h18v12h15v21h10v24h15v25h8v48h10v10h10v-29h15v108h14v22h21v24h20v-60h9v-25h16v-6h10v32h16v5h13v30h17v35h12v-16h11v-28h17v-28h17v-24h12v14h19h19v-27h20v-30h16v15h9v-41h19v-6h12v2h8v9h19v-6h20v-36h18v-16h10v-79h14v-6h15v-13h10v37h7v21h19v62h13v33h8v28h10v-28h12v-46h12v32h18v13h16v-2h11v20h7v3h15v92h15h16v43h8v20h20v39h18v2h7v10h8v4h14v10h21v-11h20v-13h20v-1h11v-39h12v-6h15v-10h9v-13h16v7h19v-31h21v10h19v48h11v9h15v-3h18v-28h13v-22h9v-4h19v-39h11v-12h8v-16h10v-25h21v-57h19v-67h20v-28h12v-12h19v-6h8v-11h15v-45h21v-75h21v79h14v108h16v71h11v-36h10v-27h14v-55h10v16h18v14h13v10h11v-1h10v27h20v23h17v-112h15v-89h19v-20h19v4h8v-33h13v4h15v-25h16v53h19v68h9v52h12v5h16v-20h11v89h20v-26h9v-29h15v10h12v-24h19v25h8v7h7v-29h20v-16h16v79h14v-10h8v-17h21v-78h16v-54h19v-71h21v60h7v-7h19v5h16v-40h10v-43" fill="none" stroke="#A5A5A5" stroke-width="24.0" stroke-linejoin="round"/>
<path transform="scale(0.1)" d="M446 752v7h16v8h9v23h8v9h9v-4h14v19h8v-60h11v-41h9v25h9v4h12v-51h9v-12h17v13h10v9h7v-14h17v5h7v13h11v-38h8v20h16v43h17v-3h13v-2h9v-16h20v-57h17v-31h20v-9h10v-18h20v-37h18v-36h16v-10h9v7h18v23h12v20h15v-40h21v11h14v8h10v1h17v5h10v11h7v16h11v35h9v18h12v27h7v43h11v-43h8v15h10v-24h19v-33h13v4h18v14h15v20h10v29h15v36h8v58h10v-8h10v-25h15v21h14v-14h21v-33h20v-7h9v-30h16v8h10v15h16v35h13v29h17v30h12v39h11v30h17v55h17v29h12v42h19v14h19v-9h20v-11h16h9v-46h19v4h12v-4h8v-3h19v-10h20v-36h18v3h10v-44h14v25h15v59h10v38h7v3h19v31h13v17h8v2h10h12v4h12v37h18v-5h16v-29h11v-19h7v-23h15v34h15v20h16v66h8v-2h20v27h18v65h7v-2h8v-5h14v-6h21v-64h20v-31h20v-12h11v-22h12v-9h15v-27h9v-12h16v1h19v-43h21v-13h19v74h11v26h15v28h18v21h13v34h9v-5h19v-10h11v-24h8v-9h10v-38h21v-53h19v-62h20v21h12v31h19v12h8v1h15v-41h21v-22h21v40h14v92h16v73h11v-27h10v-23h14v-57h10v15h18v-14h13v24h11v-6h10v11h20v-61h17v-121h15v-90h19v13h19v39h8v-31h13v12h15v-28h16v20h19v4h9v32h12v-41h16v-25h11v76h20v-46h9v-42h15v-18h12v-30h19v-15h8v26h7v3h20v38h16v85h14v-38h8v-21h21v-20h16v20h19v11h21v4h7v-2h19v51h16v26h10v-87" fill="none" stroke="#FFC000" stroke-width="24.0" stroke-linejoin="round"/>
<path transform="scale(0.1)" d="M446 908v-5h16v-1h9v9h8v-29h9v-23h14v2h8v-73h11v-48h9v4h9v-4h12v-54h9v-38h17v-73h10v-43h7v-29h17v76h7v25h11v-10h8v54h16v-15h17v9h13v-2h9v5h20v25h17v51h20v70h10v2h20v-29h18v-43h16v-30h9v-8h18v19h12v-7h15v2h21v4h14h10v-15h17v6h10v25h7v22h11v32h9v1h12v5h7v42h11v-45h8h10v-26h19v-19h13v29h18v17h15v-13h10v18h15v76h8v61h10v-17h10v-49h15v38h14v-15h21v20h20v18h9v11h16v10h10v38h16v5h13v-12h17v-14h12v11h11v-15h17v-9h17v-22h12v15h19v5h19v-34h20v16h16v31h9v-30h19v-24h12v-45h8v-9h19v26h20v21h18v31h10v-57h14v14h15v2h10v15h7v21h19v31h13v5h8v25h10v-20h12v19h12v44h18v-4h16v-29h11v-27h7v-43h15v-24h15v1h16v73h8v15h20v45h18v83h7v25h8v15h14v53h21v-79h20v22h20v23h11v-20h12v2h15v-25h9v-27h16v-29h19v-56h21v-33h19v111h11v25h15v12h18v-30h13v-10h9v-29h19v-23h11v-13h8v-6h10v-38h21v-68h19v-108h20v-15h12v-1h19v26h8v4h15v-20h21v5h21v63h14v72h16v70h11v-24h10v4h14v-34h10v27h18v-29h13v-22h11v-24h10v9h20v-45h17v-75h15v-26h19v-19h19v27h8v-33h13v14h15v-4h16v43h19v54h9v32h12v-38h16v-62h11v82h20v-54h9v-31h15v-2h12v-27h19v-1h8v2h7v-22h20v1h16v86h14v-43h8v-51h21v-54h16v36h19v27h21v-2h7v-29h19v47h16v23h10v-28" fill="none" stroke="#5B9BD5" stroke-width="24.0" stroke-linejoin="round"/>
<path transform="scale(0.1)" d="M446 784h16v11h9v25h8v4h9v-17h14v-12h8v-64h11v-37h9v22h9v-5h12v-7h9v-19h17v-16h10v-19h7v-34h17v8h7v18h11v-66h8v9h16v7h17v19h13v27h9v10h20v35h17v-13h20v-2h10v-11h20v-38h18v-15h16v-9h9v2h18v8h12v-8h15v-19h21v-9h14v-11h10v-10h17v11h10v-3h7v5h11v34h9v7h12v4h7v50h11v-40h8v20h10v-42h19v-52h13v14h18v30h15v49h10v23h15v17h8v57h10v15h10v-14h15v70h14v30h21v7h20v12h9v-11h16v-18h10v5h16v-18h13v2h17v3h12v23h11v6h17v22h17v-7h12v44h19v12h19v-48h20v-13h16v-9h9v-9h19v-19h12v-20h8v-11h19v-8h20v-10h18v-9h10v-51h14v36h15v42h10v19h7v18h19v75h13v19h8v-2h10v6h12v-27h12v11h18v4h16v-6h11v-5h7v-29h15v6h15v3h16v46h8v25h20v52h18v10h7v-12h8v5h14v6h21v35h20v-5h20v-12h11v-48h12v-46h15v-94h9v-33h16v47h19v-59h21v-17h19v108h11v57h15v17h18v48h13v33h9v-6h19v-15h11v-14h8v12h10v-28h21v-42h19v-112h20v-15h12v1h19v48h8v5h15v-29h21v-135h21v110h14v94h16v91h11v-4h10v8h14v-48h10v22h18v-33h13v-5h11v-20h10v-1h20v-45h17v-106h15v-32h19v-17h19v48h8v-41h13v19h15v-6h16v37h19v112h9v87h12v-70h16v-100h11v54h20v-83h9v-45h15v-24h12v-31h19v5h8v15h7v-11h20v-5h16v83h14v-56h8v-30h21v34h16v28h19v-57h21v-68h7v18h19v60h16v35h10v-21" fill="none" stroke="#70AD47" stroke-width="24.0" stroke-linejoin="round"/>
<path transform="scale(0.1)" d="M446 783v-2h16v45h9v18h8v-16h9v-13h14v-14h8v-59h11v-26h9v19h9v-3h12v-33h9v-29h17v-26h10v-7h7v-29h17v38h7v-34h11v-96h8v13h16v-26h17v22h13v5h9v15h20v84h17v-2h20v66h10v32h20v40h18v-56h16v-53h9v-16h18v-5h12v6h15v-16h21v24h14v75h10v50h17v-47h10v-36h7v-12h11v-7h9v-21h12v25h7v63h11v-41h8v3h10v-43h19v-25h13v20h18v-9h15v-33h10v-39h15v33h8v59h10v8h10v-30h15v64h14v22h21v30h20v2h9v-12h16h10v-6h16v15h13v10h17v40h12v36h11v20h17v20h17v-53h12v9h19v3h19v17h20v12h16v31h9v-25h19v15h12v-16h8v-2h19v27h20v13h18v25h10v-62h14v-6h15v34h10v61h7v12h19v142h13v-7h8v-26h10v-52h12v-37h12v-13h18v-24h16v-30h11v-37h7v-29h15v-21h15v4h16v50h8v12h20v60h18v46h7v2h8v5h14v18h21v40h20v-4h20v10h11v11h12v14h15v-25h9v-24h16v8h19v-18h21v32h19v84h11v4h15v-5h18v44h13v-22h9v-30h19v-35h11v-20h8v19h10h21v-30h19v-83h20v-60h12v6h19v-35h8v4h15v11h21v-106h21v-5h14v99h16v68h11v-22h10v-17h14v-7h10v35h18v-22h13v2h11v1h10v28h20v-16h17v-91h15v-62h19v-45h19v24h8v-18h13v35h15v48h16v15h19v5h9v33h12v-13h16h11v96h20v-56h9v-38h15v3h12v-35h19v19h8v18h7v-2h20v50h16v33h14v7h8v2h21v16h16v17h19v-145h21v-21h7h19v-7h16v-41h10v-22" fill="none" stroke="#264478" stroke-width="24.0" stroke-linejoin="round"/>
<line x1="30.50" x2="47.50" y1="155.70" y2="155.70" stroke="#4472C4" stroke-width="2.2"/>
<text x="48.80" y="158.10" font-size="6.9" fill="#595959" stroke="#595959" stroke-width="0.12" textLength="37.9" lengthAdjust="spacingAndGlyphs">BTC-TRXVUK</text>
<line x1="91.40" x2="108.40" y1="155.70" y2="155.70" stroke="#ED7D31" stroke-width="2.2"/>
<text x="109.70" y="158.10" font-size="6.9" fill="#595959" stroke="#595959" stroke-width="0.12" textLength="38.1" lengthAdjust="spacingAndGlyphs">ETH-TRXVUK</text>
<line x1="152.30" x2="169.30" y1="155.70" y2="155.70" stroke="#A5A5A5" stroke-width="2.2"/>
<text x="170.60" y="158.10" font-size="6.9" fill="#595959" stroke="#595959" stroke-width="0.12" textLength="39.1" lengthAdjust="spacingAndGlyphs">BNB-TRXVUK</text>
<line x1="213.20" x2="230.20" y1="155.70" y2="155.70" stroke="#FFC000" stroke-width="2.2"/>
<text x="231.50" y="158.10" font-size="6.9" fill="#595959" stroke="#595959" stroke-width="0.12" textLength="38.0" lengthAdjust="spacingAndGlyphs">XRP-TRXVUK</text>
<line x1="30.50" x2="47.50" y1="169.60" y2="169.60" stroke="#5B9BD5" stroke-width="2.2"/>
<text x="48.80" y="172.00" font-size="6.9" fill="#595959" stroke="#595959" stroke-width="0.12" textLength="39.4" lengthAdjust="spacingAndGlyphs">ADA-TRXVUK</text>
<line x1="91.40" x2="108.40" y1="169.60" y2="169.60" stroke="#70AD47" stroke-width="2.2"/>
<text x="109.70" y="172.00" font-size="6.9" fill="#595959" stroke="#595959" stroke-width="0.12" textLength="37.0" lengthAdjust="spacingAndGlyphs">LTC-TRXVUK</text>
<line x1="152.30" x2="169.30" y1="169.60" y2="169.60" stroke="#264478" stroke-width="2.2"/>
<text x="170.60" y="172.00" font-size="6.9" fill="#595959" stroke="#595959" stroke-width="0.12" textLength="40.5" lengthAdjust="spacingAndGlyphs">XMR-TRXVUK</text>
</g>
<g transform="translate(600,360)">
<text x="149.80" y="18.2" text-anchor="middle" font-size="10.6" fill="#595959" stroke="#595959" stroke-width="0.3" textLength="193.5" lengthAdjust="spacingAndGlyphs">Asset-backed cryptocurrencies vs TRXVJP</text>
<line x1="43.60" x2="290.10" y1="32.05" y2="32.05" stroke="#E9E9E9" stroke-width="0.9"/>
<text x="36.90" y="34.35" text-anchor="end" font-size="7.3" fill="#595959" stroke="#595959" stroke-width="0.22" textLength="28.78" lengthAdjust="spacingAndGlyphs">0.200000</text>
<line x1="43.60" x2="290.10" y1="47.39" y2="47.39" stroke="#E9E9E9" stroke-width="0.9"/>
<text x="36.90" y="49.69" text-anchor="end" font-size="7.3" fill="#595959" stroke="#595959" stroke-width="0.22" textLength="28.78" lengthAdjust="spacingAndGlyphs">0.150000</text>
<line x1="43.60" x2="290.10" y1="62.74" y2="62.74" stroke="#E9E9E9" stroke-width="0.9"/>
<text x="36.90" y="65.04" text-anchor="end" font-size="7.3" fill="#595959" stroke="#595959" stroke-width="0.22" textLength="28.78" lengthAdjust="spacingAndGlyphs">0.100000</text>
<line x1="43.60" x2="290.10" y1="78.08" y2="78.08" stroke="#E9E9E9" stroke-width="0.9"/>
<text x="36.90" y="80.38" text-anchor="end" font-size="7.3" fill="#595959" stroke="#595959" stroke-width="0.22" textLength="28.78" lengthAdjust="spacingAndGlyphs">0.050000</text>
<line x1="43.60" x2="290.10" y1="93.42" y2="93.42" stroke="#E9E9E9" stroke-width="0.9"/>
<text x="36.90" y="95.72" text-anchor="end" font-size="7.3" fill="#595959" stroke="#595959" stroke-width="0.22" textLength="28.78" lengthAdjust="spacingAndGlyphs">0.000000</text>
<line x1="43.60" x2="290.10" y1="108.76" y2="108.76" stroke="#E9E9E9" stroke-width="0.9"/>
<text x="36.90" y="111.06" text-anchor="end" font-size="7.3" fill="#595959" stroke="#595959" stroke-width="0.22" textLength="31.07" lengthAdjust="spacingAndGlyphs">-0.050000</text>
<line x1="43.60" x2="290.10" y1="124.11" y2="124.11" stroke="#E9E9E9" stroke-width="0.9"/>
<text x="36.90" y="126.41" text-anchor="end" font-size="7.3" fill="#595959" stroke="#595959" stroke-width="0.22" textLength="31.07" lengthAdjust="spacingAndGlyphs">-0.100000</text>
<line x1="43.60" x2="290.10" y1="139.45" y2="139.45" stroke="#E9E9E9" stroke-width="0.9"/>
<text x="36.90" y="141.75" text-anchor="end" font-size="7.3" fill="#595959" stroke="#595959" stroke-width="0.22" textLength="31.07" lengthAdjust="spacingAndGlyphs">-0.150000</text>
<text x="43.7" y="105.72" text-anchor="middle" font-size="6.9" fill="#595959" stroke="#595959" stroke-width="0.1">6-Apr-18</text>
<line x1="43.70" x2="43.70" y1="93.42" y2="96.42" stroke="#DDDDDD" stroke-width="0.8"/>
<text x="92.0" y="105.72" text-anchor="middle" font-size="6.9" fill="#595959" stroke="#595959" stroke-width="0.1">6-Apr-19</text>
<line x1="92.00" x2="92.00" y1="93.42" y2="96.42" stroke="#DDDDDD" stroke-width="0.8"/>
<text x="140.3" y="105.72" text-anchor="middle" font-size="6.9" fill="#595959" stroke="#595959" stroke-width="0.1">6-Apr-20</text>
<line x1="140.30" x2="140.30" y1="93.42" y2="96.42" stroke="#DDDDDD" stroke-width="0.8"/>
<text x="188.6" y="105.72" text-anchor="middle" font-size="6.9" fill="#595959" stroke="#595959" stroke-width="0.1">6-Apr-21</text>
<line x1="188.60" x2="188.60" y1="93.42" y2="96.42" stroke="#DDDDDD" stroke-width="0.8"/>
<text x="236.9" y="105.72" text-anchor="middle" font-size="6.9" fill="#595959" stroke="#595959" stroke-width="0.1">6-Apr-22</text>
<line x1="236.90" x2="236.90" y1="93.42" y2="96.42" stroke="#DDDDDD" stroke-width="0.8"/>
<text x="285.2" y="105.72" text-anchor="middle" font-size="6.9" fill="#595959" stroke="#595959" stroke-width="0.1">6-Apr-23</text>
<line x1="285.20" x2="285.20" y1="93.42" y2="96.42" stroke="#DDDDDD" stroke-width="0.8"/>
<path transform="scale(0.1)" d="M442 917v-4h17v-16h16v3h15v6h11v-5h13v-24h11v-1h15v20h12v-32h14v-2h21v-32h13v-19h17v-14h16v-30h7v5h20v-10h20v-49h10v-8h12v43h14h16v-17h18v-22h14v5h18v-6h16v-30h18v19h17v-4h20v-4h18v-6h9v-24h16v12h11v67h21v10h21v46h17v-9h10v34h15v-16h9v-46h21v-19h8v-9h7v26h17v27h16v-8h20v-46h20v26h11v23h18v28h15v-18h12v17h19v-23h16v-14h12v-10h16v-21h21v12h13v-34h11v15h11v-6h8v-20h20v-40h15v11h12v-18h12v105h16v47h13v55h8v29h11v9h10v-10h10v31h19v10h12v31h14v5h20v-51h13v34h18v-6h21v18h14v-3h19v219h8v53h13v18h9v-25h19v29h10v-20h16v-8h15v-14h15v-27h15v-48h13v-14h16v-30h10v-11h11v-52h20v-15h20v-56h9v-12h15v-15h21v-2h18v36h8v-10h16v28h20v11h8v6h18v1h13v21h18v-3h10v-16h9v-9h16v-3h18v56h19v37h13v36h7v7h16v86h12v16h12v-24h20v-52h12v-16h7v-57h21v19h10v-9h19v35h10v49h14v-37h14h10v-31h12v-65h10v-51h7v-11h14v-40h9v11h9v35h8v3h11v-6h12v6h16v110h15v66h10v-16h12v6h17v-75h18v36h7v30h12v18h12v-32h20v-69h8v-41h12v22h18v-32h9v-20h12v-5h17v-31h8v-1h20v22h9v16h8v21h12v30h17v18h13v-2h10v29h20v26h10v35h13v-38h7v-26h17v-57h10v-29h10v-1h12v-8h17v-10h10v-8h12v5h10v-29h12v-31h19v-36h18v2h20v16h19v-6h17v-42h14v20h17v-4h3v2" fill="none" stroke="#4472C4" stroke-width="24.0" stroke-linejoin="round"/>
<path transform="scale(0.1)" d="M442 899v-4h17v-69h16v-6h15v6h11v7h13v-31h11v23h15v14h12v22h14v29h21v31h13v80h17v81h16v-66h7v-35h20v-34h20v-44h10v-17h12v12h14v12h16v30h18v53h14v47h18v62h16v23h18v36h17v-38h20v-89h18v-61h9v-9h16v-10h11v54h21v-35h21v-45h17v19h10v-85h15v-57h9v4h21v30h8v28h7v20h17v-30h16v-46h20v-87h20v62h11v25h18v47h15v21h12v27h19v30h16v-21h12v-17h16v15h21v-13h13v26h11v53h11v-27h8v-24h20v-4h15v13h12v-2h12v-2h16v-14h13v-41h8v20h11v-43h10v24h10v38h19v-8h12v-31h14v26h20v6h13v18h18v-16h21v-4h14v-13h19v-11h8v11h13v-26h9v4h19v49h10v4h16v-5h15h15v15h15v-1h13v-24h16v-35h10v-2h11h20v46h20v63h9v-6h15v60h21v41h18v33h8v-28h16v68h20v6h8v-9h18v12h13v-37h18v-44h10v2h9v16h16v-13h18v64h19v11h13v-9h7v-22h16v-54h12v-16h12v-19h20v-45h12v19h7v-26h21v-123h10v2h19v-79h10v11h14v-28h14v6h10v-2h12v2h10v10h7v-3h14v-1h9v19h9v2h8v5h11v1h12v12h16v68h15v25h10v9h12v37h17v-42h18v-6h7v-39h12v-8h12v-42h20v26h8v6h12v30h18v-13h9v51h12v47h17v-12h8v10h20v-10h9v-6h8v-2h12v-3h17v18h13v8h10v58h20v-13h10v-12h13v-5h7v-21h17v-36h10v-2h10v-20h12v-32h17v18h10v33h12v16h10v4h12v9h19v-3h18v24h20v13h19v-30h17v-17h14v-10h17v7h3v-14" fill="none" stroke="#ED7D31" stroke-width="24.0" stroke-linejoin="round"/>
<path transform="scale(0.1)" d="M442 941v14h17v-19h16v54h15v-67h11v34h13v-21h11v-7h15v-3h12v-25h14v6h21v31h13v22h17v41h16v-26h7v-24h20v9h20v-9h10v-4h12h14v2h16v1h18v8h14v16h18v41h16v-6h18h17v-13h20v5h18v18h9v45h16v8h11v38h21v14h21v-38h17v-57h10v3h15v24h9v10h21v14h8v18h7v8h17v-43h16v3h20v-17h20v-4h11v22h18v-43h15v-48h12v-25h19v-28h16v-16h12v-46h16v-8h21v-13h13v-11h11v20h11v-28h8v2h20v-20h15v30h12v19h12v14h16v39h13v42h8v2h11v-12h10v41h10v18h19v19h12v-2h14v-18h20v-12h13v31h18v-14h21v-26h14v22h19v13h8v3h13v4h9v-23h19v15h10v-3h16v-12h15v-5h15v-3h15v5h13v-5h16v-14h10v-13h11v-1h20v25h20v32h9v1h15v66h21v15h18v23h8v-21h16v6h20v19h8v7h18v29h13v7h18v13h10v3h9v-20h16v-48h18v-7h19v-68h13v-31h7v-32h16v5h12v-46h12v-39h20v-50h12v40h7v-1h21v-25h10v-41h19v-72h10v34h14v2h14v-9h10v43h12v-45h10v7h7v20h14v30h9v20h9v13h8h11v35h12v30h16v-11h15v-19h10v-4h12v-12h17v-27h18v21h7v2h12v-32h12v10h20v-12h8v-18h12v-20h18v-9h9v-24h12v16h17v17h8v-10h20v-18h9v-6h8v-4h12v27h17v12h13v11h10v22h20v18h10v-10h13v-36h7v-27h17v-10h10v-19h10v18h12v-35h17v-23h10v14h12v16h10v-20h12v26h19v-38h18v-25h20v-56h19v36h17v-5h14v18h17v21h3v9" fill="none" stroke="#A5A5A5" stroke-width="24.0" stroke-linejoin="round"/>
<path transform="scale(0.1)" d="M442 894v3h17v-13h16v-30h15v-21h11v-5h13v-9h11v10h15v-30h12v-26h14v4h21v21h13v45h17v44h16v19h7v-3h20v-45h20v-21h10v-17h12v25h14v27h16h18v-12h14v5h18v9h16v7h18v18h17v9h20v47h18h9v7h16v-1h11v28h21v-25h21v-29h17v-38h10v-16h15v-58h9v-28h21v15h8v21h7v18h17v-7h16v-25h20v-28h20v35h11v18h18v-26h15v-15h12v6h19v-65h16v-78h12v51h16v14h21v-3h13v48h11v50h11v7h8v-13h20v8h15v23h12v36h12v34h16v41h13v-5h8v39h11v21h10v44h10v8h19v-46h12v-19h14v-35h20v-12h13v33h18v37h21v-29h14v-5h19v-30h8v-7h13v-70h9v-45h19v28h10v26h16v38h15v-63h15v-7h15v8h13v-35h16v-72h10v-17h11v-19h20v8h20v-3h9v24h15v42h21v60h18v51h8v-25h16v40h20v12h8v28h18v-1h13v-40h18v-10h10v-3h9v-9h16v-55h18v29h19v-21h13v-17h7v-26h16v-4h12v-15h12v-17h20v-8h12v-14h7v55h21v41h10v-41h19v-87h10v13h14v-7h14v-3h10v-4h12v-28h10v-38h7v-42h14v-64h9v-25h9v-18h8v-8h11v22h12v55h16v42h15v23h10v65h12v12h17v25h18v10h7v-18h12v-32h12v37h20v83h8v26h12v40h18v29h9v7h12v20h17v4h8v17h20v-25h9v-12h8v-11h12v34h17v2h13v16h10v-13h20v21h10v13h13v8h7v14h17v-50h10v-11h10v-42h12v25h17v4h10v51h12v23h10v-27h12v3h19v-27h18v44h20v-11h19v2h17v47h14v174h17v-21h3v-3" fill="none" stroke="#FFC000" stroke-width="24.0" stroke-linejoin="round"/>
<path transform="scale(0.1)" d="M442 885v24h17v10h16v28h15v7h11v-38h13v-30h11v4h15v17h12v33h14v55h21v-3h13v-18h17v22h16v29h7v2h20v66h20v-17h10v1h12v-36h14v15h16v7h18v23h14v-2h18v24h16v-19h18v11h17v26h20v17h18v-71h9v-71h16v-241h11v-69h21v-71h21v-31h17v1h10v3h15v11h9v-27h21v-28h8v-3h7v12h17v135h16v-12h20v2h20v-6h11v17h18v39h15v28h12v22h19v3h16v6h12v-9h16v-1h21v-17h13v-47h11v20h11v-6h8v-32h20v-55h15v-11h12v-83h12v-26h16v9h13v13h8v35h11v-21h10v-1h10v-33h19v-28h12v-17h14v14h20v26h13v4h18v-17h21v4h14v31h19v-28h8v5h13v-103h9v-20h19v-8h10v51h16v15h15v23h15v4h15v27h13v38h16v-66h10v-54h11v3h20v5h20v35h9v3h15v95h21v131h18v72h8v-24h16v-1h20v55h8h18v18h13v4h18v11h10v-6h9v-23h16v21h18v49h19v13h13v6h7v-10h16v-5h12v-33h12v-31h20v-22h12v20h7v-32h21v3h10v-14h19v-61h10h14v-50h14v3h10v6h12v14h10v26h7v8h14v22h9v12h9v20h8v-6h11v6h12v15h16v68h15v47h10v-24h12v17h17v-16h18v9h7v-35h12v-3h12v-4h20v11h8v-3h12v7h18v13h9v8h12v-21h17v77h8v-15h20v7h9v-10h8v-4h12v5h17v30h13v-31h10v-9h20v-28h10v8h13v-40h7v5h17v-45h10v16h10v-12h12v-1h17v-58h10v-28h12v40h10v-22h12v28h19v8h18v-63h20v-93h19v39h17v18h14v32h17v36h3v-6" fill="none" stroke="#5B9BD5" stroke-width="24.0" stroke-linejoin="round"/>
<path transform="scale(0.1)" d="M442 923v17h17v-15h16v-6h15v-24h11v27h13v7h11v12h15v10h12v3h14v-7h21v11h13v-19h17v-7h16v-67h7v-9h20v64h20v19h10v-13h12v13h14v2h16v78h18v140h14v-13h18v-31h16v-1h18v-25h17v-23h20v-97h18v-90h9v-50h16v6h11v49h21v45h21v29h17v-26h10v21h15v35h9v-7h21v-31h8v-28h7v41h17v12h16h20v-2h20v38h11v11h18v-11h15v-48h12v-2h19v17h16v33h12v4h16v-7h21v-30h13v-17h11v-15h11v8h8v-1h20v-16h15v11h12v-7h12v-19h16v16h13v4h8v12h11v-19h10v-31h10v-1h19v-46h12v-18h14v-38h20v-38h13v-11h18v-61h21v-13h14v-3h19v18h8v-15h13v14h9v-12h19v65h10v26h16v21h15v10h15v-40h15v-56h13v-27h16v-5h10v-21h11v19h20v15h20v43h9v-14h15v43h21v26h18v43h8v-10h16v20h20v16h8v7h18v48h13v12h18v-19h10v23h9v-44h16v-37h18v6h19v-44h13v-37h7v-31h16v-40h12v-58h12v-34h20v-32h12v69h7v17h21v55h10v-5h19v-40h10v1h14v-6h14v29h10v41h12v32h10v32h7v28h14v41h9v6h9v16h8v-2h11v-31h12v-36h16v47h15v101h10v5h12v42h17v12h18v13h7v41h12v30h12v-63h20v-116h8v-18h12v-10h18v-72h9v-9h12v-18h17v-40h8v-2h20v39h9v25h8v12h12v23h17v36h13v8h10v12h20v20h10v2h13v4h7v-15h17v-20h10v-13h10v-15h12v-13h17v-14h10v28h12v21h10v-32h12v-16h19v41h18v-112h20v-143h19v-6h17v75h14v64h17v29h3v46" fill="none" stroke="#70AD47" stroke-width="24.0" stroke-linejoin="round"/>
<path transform="scale(0.1)" d="M442 947v9h17v-46h16v-74h15v-51h11v45h13v-32h11v-23h15v13h12v21h14v62h21v32h13v17h17v20h16v10h7v-7h20v46h20h10v-49h12v-42h14v-11h16v-24h18v-2h14v-9h18v59h16v-28h18v1h17h20v-8h18v-16h9v8h16v4h11v1h21v28h21v13h17v-33h10v2h15v-11h9v1h21v9h8v-3h7v12h17v62h16v4h20v-46h20v-18h11v21h18v113h15v44h12v-32h19v-69h16v-41h12v30h16v16h21v33h13v18h11h11v5h8v35h20v84h15v-67h12v-28h12v-26h16v5h13v20h8v25h11v-72h10v16h10v17h19v-32h12v10h14v-1h20v28h13v31h18v-62h21v51h14v34h19v-2h8v34h13v-43h9v-70h19v40h10v37h16v36h15v7h15v-42h15v-34h13v-34h16v-66h10v-33h11v-24h20v-35h20v-69h9v-20h15v111h21v-27h18v-55h8v-51h16v-40h20v-33h8v-11h18v4h13h18v53h10v2h9v-6h16v-28h18v64h19v9h13v7h7v8h16v-7h12v-28h12v-25h20v-60h12v-29h7v-6h21v-5h10v33h19v-72h10v-35h14v-8h14v36h10v-3h12v35h10v28h7v7h14v4h9v17h9v8h8v59h11v-27h12v-20h16v-39h15v-13h10v-8h12v53h17v42h18v27h7v41h12v33h12v41h20v56h8v10h12v18h18v13h9v-47h12h17v4h8v20h20v74h9v12h8v19h12v-43h17v-16h13v-4h10v-11h20v16h10v19h13v8h7v-9h17v14h10v13h10v14h12v27h17h10v-8h12v-23h10v17h12v-15h19v-19h18v46h20v253h19v-48h17v-42h14v42h17v28h3v-22" fill="none" stroke="#264478" stroke-width="24.0" stroke-linejoin="round"/>
<line x1="26.00" x2="43.00" y1="155.70" y2="155.70" stroke="#4472C4" stroke-width="2.2"/>
<text x="44.30" y="158.10" font-size="6.9" fill="#595959" stroke="#595959" stroke-width="0.12" textLength="40.2" lengthAdjust="spacingAndGlyphs">USDT-TRXVJP</text>
<line x1="89.20" x2="106.20" y1="155.70" y2="155.70" stroke="#ED7D31" stroke-width="2.2"/>
<text x="107.50" y="158.10" font-size="6.9" fill="#595959" stroke="#595959" stroke-width="0.12" textLength="40.8" lengthAdjust="spacingAndGlyphs">XAUR-TRXVJP</text>
<line x1="152.40" x2="169.40" y1="155.70" y2="155.70" stroke="#A5A5A5" stroke-width="2.2"/>
<text x="170.70" y="158.10" font-size="6.9" fill="#595959" stroke="#595959" stroke-width="0.12" textLength="35.6" lengthAdjust="spacingAndGlyphs">GLC-TRXVJP</text>
<line x1="215.60" x2="232.60" y1="155.70" y2="155.70" stroke="#FFC000" stroke-width="2.2"/>
<text x="233.90" y="158.10" font-size="6.9" fill="#595959" stroke="#595959" stroke-width="0.12" textLength="42.4" lengthAdjust="spacingAndGlyphs">MNTP-TRXVJP</text>
<line x1="26.00" x2="43.00" y1="169.60" y2="169.60" stroke="#5B9BD5" stroke-width="2.2"/>
<text x="44.30" y="172.00" font-size="6.9" fill="#595959" stroke="#595959" stroke-width="0.12" textLength="35.6" lengthAdjust="spacingAndGlyphs">XBX-TRXVJP</text>
<line x1="89.20" x2="106.20" y1="169.60" y2="169.60" stroke="#70AD47" stroke-width="2.2"/>
<text x="107.50" y="172.00" font-size="6.9" fill="#595959" stroke="#595959" stroke-width="0.12" textLength="36.8" lengthAdjust="spacingAndGlyphs">HGT-TRXVJP</text>
<line x1="152.40" x2="169.40" y1="169.60" y2="169.60" stroke="#264478" stroke-width="2.2"/>
<text x="170.70" y="172.00" font-size="6.9" fill="#595959" stroke="#595959" stroke-width="0.12" textLength="34.6" lengthAdjust="spacingAndGlyphs">DAI-TRXVJP</text>
</g>
<g transform="translate(900,360)">
<text x="149.10" y="18.2" text-anchor="middle" font-size="10.6" fill="#595959" stroke="#595959" stroke-width="0.3" textLength="197.3" lengthAdjust="spacingAndGlyphs">Asset-backed cryptocurrencies vs TRXVUK</text>
<line x1="42.90" x2="289.40" y1="32.05" y2="32.05" stroke="#E9E9E9" stroke-width="0.9"/>
<text x="36.20" y="34.35" text-anchor="end" font-size="7.3" fill="#595959" stroke="#595959" stroke-width="0.22" textLength="28.78" lengthAdjust="spacingAndGlyphs">0.200000</text>
<line x1="42.90" x2="289.40" y1="47.39" y2="47.39" stroke="#E9E9E9" stroke-width="0.9"/>
<text x="36.20" y="49.69" text-anchor="end" font-size="7.3" fill="#595959" stroke="#595959" stroke-width="0.22" textLength="28.78" lengthAdjust="spacingAndGlyphs">0.150000</text>
<line x1="42.90" x2="289.40" y1="62.74" y2="62.74" stroke="#E9E9E9" stroke-width="0.9"/>
<text x="36.20" y="65.04" text-anchor="end" font-size="7.3" fill="#595959" stroke="#595959" stroke-width="0.22" textLength="28.78" lengthAdjust="spacingAndGlyphs">0.100000</text>
<line x1="42.90" x2="289.40" y1="78.08" y2="78.08" stroke="#E9E9E9" stroke-width="0.9"/>
<text x="36.20" y="80.38" text-anchor="end" font-size="7.3" fill="#595959" stroke="#595959" stroke-width="0.22" textLength="28.78" lengthAdjust="spacingAndGlyphs">0.050000</text>
<line x1="42.90" x2="289.40" y1="93.42" y2="93.42" stroke="#E9E9E9" stroke-width="0.9"/>
<text x="36.20" y="95.72" text-anchor="end" font-size="7.3" fill="#595959" stroke="#595959" stroke-width="0.22" textLength="28.78" lengthAdjust="spacingAndGlyphs">0.000000</text>
<line x1="42.90" x2="289.40" y1="108.76" y2="108.76" stroke="#E9E9E9" stroke-width="0.9"/>
<text x="36.20" y="111.06" text-anchor="end" font-size="7.3" fill="#595959" stroke="#595959" stroke-width="0.22" textLength="31.07" lengthAdjust="spacingAndGlyphs">-0.050000</text>
<line x1="42.90" x2="289.40" y1="124.11" y2="124.11" stroke="#E9E9E9" stroke-width="0.9"/>
<text x="36.20" y="126.41" text-anchor="end" font-size="7.3" fill="#595959" stroke="#595959" stroke-width="0.22" textLength="31.07" lengthAdjust="spacingAndGlyphs">-0.100000</text>
<line x1="42.90" x2="289.40" y1="139.45" y2="139.45" stroke="#E9E9E9" stroke-width="0.9"/>
<text x="36.20" y="141.75" text-anchor="end" font-size="7.3" fill="#595959" stroke="#595959" stroke-width="0.22" textLength="31.07" lengthAdjust="spacingAndGlyphs">-0.150000</text>
<text x="43.0" y="105.72" text-anchor="middle" font-size="6.9" fill="#595959" stroke="#595959" stroke-width="0.1">6-Apr-18</text>
<line x1="43.00" x2="43.00" y1="93.42" y2="96.42" stroke="#DDDDDD" stroke-width="0.8"/>
<text x="91.3" y="105.72" text-anchor="middle" font-size="6.9" fill="#595959" stroke="#595959" stroke-width="0.1">6-Apr-19</text>
<line x1="91.30" x2="91.30" y1="93.42" y2="96.42" stroke="#DDDDDD" stroke-width="0.8"/>
<text x="139.6" y="105.72" text-anchor="middle" font-size="6.9" fill="#595959" stroke="#595959" stroke-width="0.1">6-Apr-20</text>
<line x1="139.60" x2="139.60" y1="93.42" y2="96.42" stroke="#DDDDDD" stroke-width="0.8"/>
<text x="187.9" y="105.72" text-anchor="middle" font-size="6.9" fill="#595959" stroke="#595959" stroke-width="0.1">6-Apr-21</text>
<line x1="187.90" x2="187.90" y1="93.42" y2="96.42" stroke="#DDDDDD" stroke-width="0.8"/>
<text x="236.2" y="105.72" text-anchor="middle" font-size="6.9" fill="#595959" stroke="#595959" stroke-width="0.1">6-Apr-22</text>
<line x1="236.20" x2="236.20" y1="93.42" y2="96.42" stroke="#DDDDDD" stroke-width="0.8"/>
<text x="284.5" y="105.72" text-anchor="middle" font-size="6.9" fill="#595959" stroke="#595959" stroke-width="0.1">6-Apr-23</text>
<line x1="284.50" x2="284.50" y1="93.42" y2="96.42" stroke="#DDDDDD" stroke-width="0.8"/>
<path transform="scale(0.1)" d="M435 964v23h10v-24h14v-13h16v-18h17v7h15v1h14v-4h14v-5h15v39h18v-31h16v-13h18v-2h19v1h13v-3h15v16h16v31h19v-3h18v-45h9v-2h9v22h13v-10h9v12h10v-21h15v-30h11v-9h19v-14h9v8h15v-37h10v1h15v-11h14v-79h17v-62h21v15h11v58h19v22h12v15h15v13h13v6h12v13h16v26h13v60h14v-18h19v-15h18v-18h10v2h14v16h21v-30h11v-14h14v5h13v14h14v24h15v-40h17v17h17v1h18v31h14v6h11v7h16v8h13v12h17v18h13v-6h10v-27h7v27h18v-18h17v-28h10v-2h19v-17h16v12h15v-13h19v-13h11v49h16v-17h9v-17h12v-3h10v-15h11v-70h14v50h15v-35h12v20h11v11h19v-4h18v-7h19v24h20v38h11v2h20v-16h11v-11h20v8h16v70h15v127h12v69h11v-4h18v-41h19v-33h19v-25h7v-3h16v3h14v-13h13v-14h14v-60h8v-31h11v22h9v-15h19v-23h17v42h8v-19h8v22h14h14v39h20v-2h8v-34h13v-5h18v-52h19v-66h17v-41h16v-106h19v-7h15v45h20v30h9v27h12v5h19v18h20v19h19v20h18v37h17v-3h14v18h8v12h8v1h12v11h14v21h21v7h14v-26h18v-36h14v109h10v101h19v-5h16v-72h16v17h18v-60h19v-14h13v-19h20v12h8v-36h10v30h10v-37h9v-32h18v-16h15v83h20v6h12v-36h8v6h10v-21h10v-14h19v24h14v-18h9h7v-17h17v29h19v-8h9v-20h16v31h14v15h9v-3h19v50h13v20h18v16h15v33h20v27h17v3h12v16" fill="none" stroke="#4472C4" stroke-width="24.0" stroke-linejoin="round"/>
<path transform="scale(0.1)" d="M435 954v-33h10v-18h14v58h16h17v28h15v-20h14v-13h14v-69h15v6h18v8h16v10h18v35h19v71h13v-37h15v32h16v32h19v73h18v-81h9v-24h9h13v-23h9v33h10v-29h15v-29h11v-8h19v-11h9v-11h15v-2h10v-21h15v-15h14v-13h17v-20h21v61h11v-16h19v-16h12v25h15v63h13v17h12v-11h16v-37h13v-36h14v-45h19v-31h18v-44h10v-2h14v-70h21v-5h11v29h14v17h13v39h14v16h15v-28h17v-11h17v-2h18v-40h14v-1h11v12h16v21h13v40h17v81h13v16h10v3h7v34h18v23h17v50h10v55h19v6h16v8h15v-9h19v-17h11v48h16v-24h9v-10h12v-61h10v-22h11v29h14v-46h15v-32h12v20h11v19h19v20h18v3h19v-6h20v3h11v2h20v29h11v9h20v9h16v12h15v12h12v-9h11v-25h18v-83h19v16h19v-4h7v-4h16v20h14v-13h13v-10h14v-18h8v7h11v6h9v16h19v-42h17v7h8v-32h8v4h14h14v29h20v8h8v-13h13v46h18v-18h19v24h17v7h16v36h19v12h15v-74h20v-100h9v-18h12v34h19v7h20v9h19v5h18h17v-2h14v40h8v7h8v2h12v4h14v45h21v16h14v-15h18v-34h14v-7h10v22h19v-21h16v-37h16v-2h18v-2h19v26h13v22h20v61h8v10h10v11h10v1h9v-16h18v-6h15v-3h20v-20h12v-24h8v36h10v28h10v-13h19v-6h14v-53h9v-17h7v18h17v40h19v-10h9v-13h16v-1h14v-74h9v-63h19v-41h13v2h18v46h15v56h20v-18h17v-18h12v-97" fill="none" stroke="#ED7D31" stroke-width="24.0" stroke-linejoin="round"/>
<path transform="scale(0.1)" d="M435 1031v-3h10v-27h14v-20h16v-49h17v-71h15v17h14v-11h14v-31h15v-20h18v-42h16v3h18v-3h19v-21h13v-22h15v43h16v42h19v31h18v6h9v25h9v26h13v5h9v25h10v-1h15v4h11v12h19v40h9v4h15v36h10v26h15v-26h14v-18h17v-12h21v22h11v48h19v-13h12v-5h15v-11h13v-16h12v5h16v4h13v23h14v4h19v-7h18v-3h10v-33h14v7h21v24h11v41h14v36h13v8h14v22h15v-15h17v-47h17v-12h18v4h14v-24h11v-30h16v-7h13v-24h17v-12h13v13h10v10h7v42h18v40h17v63h10v27h19v28h16v-48h15v-23h19h11v41h16v53h9v-30h12v-42h10v-66h11v-9h14v1h15v8h12h11v-13h19v-44h18v-14h19v-48h20v-20h11v-3h20v-12h11v-6h20v-4h16v55h15v110h12v3h11v-4h18v-44h19v-22h19v-10h7v-9h16v2h14v3h13v-8h14v59h8v-3h11v-4h9v26h19v-8h17v32h8v-57h8v20h14h14v39h20v107h8v30h13v-11h18v-37h19v-52h17v-64h16v-78h19v-41h15v-3h20v-60h9v43h12v-18h19v-6h20v-8h19v20h18v24h17v29h14v15h8v2h8v3h12v18h14v9h21v-10h14v-10h18v-15h14v50h10v57h19v-10h16v-51h16v-85h18v-80h19v-76h13v14h20v37h8v37h10v-34h10v8h9v53h18v9h15v-9h20v-28h12v-1h8v-5h10v-4h10v-37h19v1h14v-59h9v9h7v8h17v7h19v15h9v15h16v18h14v8h9v-17h19v43h13v-5h18v-17h15v28h20v34h17v-4h12v-11" fill="none" stroke="#A5A5A5" stroke-width="24.0" stroke-linejoin="round"/>
<path transform="scale(0.1)" d="M435 876v30h10v-26h14v18h16v-21h17v52h15v10h14v-19h14v-33h15v-2h18v30h16v22h18v73h19v-42h13v-4h15v-2h16v14h19v-23h18v-40h9v5h9v20h13v30h9v11h10v-41h15v-23h11v-26h19v-37h9v-23h15v-18h10v-10h15v-12h14v-40h17v-89h21v36h11v-62h19v-12h12v38h15v49h13v-52h12v-52h16v-1h13v-10h14v-49h19v-59h18v-48h10v-12h14v21h21v45h11v26h14v28h13v47h14v70h15v16h17v63h17v30h18v40h14v18h11v4h16v-2h13v-31h17v-24h13v10h10v-7h7v34h18v-26h17v9h10v-1h19v31h16v12h15v1h19v-22h11v-7h16v15h9v-11h12v-12h10v-3h11v2h14v45h15v-37h12v22h11v-2h19v25h18v8h19v-41h20v-81h11v-57h20v26h11v-12h20v24h16v56h15v35h12v50h11v12h18v17h19v14h19v18h7v19h16v54h14v-11h13v2h14v41h8v-29h11v-10h9v9h19v-45h17v38h8v-22h8v-24h14v-30h14v46h20v-20h8v-17h13v-12h18v17h19v46h17v28h16v-23h19v43h15v73h20v16h9v-2h12v-3h19v-33h20v-53h19v-27h18v-19h17v-30h14v29h8v-29h8v8h12v23h14v59h21v14h14v5h18v-52h14v-31h10v19h19v-26h16v-82h16v-34h18v-49h19v-40h13v33h20v38h8v22h10v53h10v47h9v34h18v30h15v-64h20v-35h12v-18h8v-2h10v26h10v-16h19v-15h14v9h9v37h7v-12h17v37h19v-16h9v-22h16v-37h14v11h9v-12h19v49h13v26h18v-4h15v-49h20v50h17v8h12v-15" fill="none" stroke="#FFC000" stroke-width="24.0" stroke-linejoin="round"/>
<path transform="scale(0.1)" d="M435 833v12h10v8h14v-40h16v4h17v4h15v-19h14v-5h14v-39h15v-18h18v-77h16v-30h18v-28h19v23h13v-38h15v-15h16v87h19v69h18v-17h9v-57h9v31h13v-4h9v10h10v34h15v40h11v7h19v-55h9v22h15v46h10v47h15v47h14v12h17v-79h21v-12h11v47h19v-22h12v16h15v12h13v17h12v-27h16v1h13v-35h14v-38h19v-19h18v-69h10v-47h14v-26h21v21h11v16h14v12h13v-4h14v-26h15v-40h17v-4h17v8h18v23h14v39h11v8h16v16h13v13h17v15h13v23h10v-10h7v30h18v-30h17v-10h10v27h19v50h16v26h15v-11h19v-32h11v2h16h9v-10h12v13h10v-15h11v19h14v18h15v-35h12v-12h11v33h19v-3h18v25h19v22h20v18h11v-34h20v-18h11v2h20v9h16v78h15v102h12v20h11v-16h18v58h19v19h19v-75h7v-34h16v-32h14v31h13v12h14v24h8v-18h11v-31h9v-31h19v10h17v46h8v-11h8v26h14v-9h14v-11h20v-136h8v-74h13v6h18v7h19v86h17v-14h16v-5h19v-55h15v-37h20v11h9v14h12v-26h19v-1h20v37h19v-12h18v-53h17v-68h14v58h8v18h8v32h12v22h14v37h21v47h14v-7h18v-4h14v4h10v20h19v-17h16v-30h16v-29h18v-56h19v-10h13v-9h20v27h8v31h10v-13h10v19h9v-2h18v-9h15v5h20v-12h12v-14h8h10v24h10v6h19v-3h14v-21h9v1h7v18h17v8h19v-29h9v-34h16v-113h14v-55h9v-21h19v-41h13v2h18v24h15v6h20v65h17v-65h12v-77" fill="none" stroke="#5B9BD5" stroke-width="24.0" stroke-linejoin="round"/>
<path transform="scale(0.1)" d="M435 973v5h10v20h14v-9h16v1h17v52h15v24h14v15h14v8h15v-14h18v-22h16v-15h18v7h19v29h13v6h15v11h16v-1h19v-35h18v-59h9v4h9v24h13v33h9v39h10v28h15v4h11v-57h19v-29h9v-13h15v-37h10v6h15v-21h14v-26h17v-14h21v37h11v-29h19v-46h12v-16h15v-6h13v5h12v16h16v-3h13v-20h14v14h19v-21h18v-26h10v13h14v-37h21v-55h11v-29h14v3h13v17h14v12h15v29h17v23h17v38h18v87h14v52h11v24h16v52h13v42h17v-17h13v-62h10v-51h7v3h18v-16h17v-23h10v-6h19v57h16v-23h15v-14h19v-9h11v28h16v-24h9v-19h12v-27h10v-19h11v-15h14v42h15v18h12v39h11v12h19v48h18v4h19v1h20v-12h11v-37h20v-9h11v-9h20v23h16v49h15v21h12v-25h11v-23h18v-20h19v10h19v1h7h16v52h14v66h13v10h14v1h8v4h11v46h9v-5h19v-57h17v-5h8v-7h8v-15h14v-38h14v-3h20v-22h8v-63h13v71h18v50h19v48h17v76h16v50h19v-72h15v-85h20v-100h9v-19h12v-23h19v19h20v55h19v-48h18v-34h17v11h14v16h8v-21h8v-4h12v30h14v-18h21v-1h14v-40h18v-35h14v1h10v13h19v-72h16v-82h16v-78h18v-95h19v1h13v-29h20v-1h8v48h10v1h10v24h9v23h18v55h15v96h20v10h12v-31h8v-6h10v19h10v-25h19v-9h14v-44h9v28h7v16h17v59h19v2h9v9h16v20h14h9v-21h19v-30h13v-26h18v-5h15v24h20v73h17v-26h12v-53" fill="none" stroke="#70AD47" stroke-width="24.0" stroke-linejoin="round"/>
<path transform="scale(0.1)" d="M435 925v10h10v-11h14v-53h16v9h17v17h15v7h14v5h14v-5h15v41h18v30h16v31h18v78h19v29h13v5h15v49h16v-79h19v-78h18v-17h9v29h9v98h13v112h9v35h10v-3h15v38h11v19h19v-22h9v-43h15v-54h10v-15h15v-24h14v8h17v4h21v-38h11v-58h19v-42h12v-10h15v-38h13v-7h12v-7h16v-1h13v-15h14v-15h19v-29h18v-24h10v-17h14v34h21v-7h11v22h14v56h13v20h14v-25h15v-60h17v-44h17v-37h18v-33h14v19h11v33h16v23h13v-4h17v57h13v22h10v6h7v39h18v-5h17v16h10v8h19v-177h16v-21h15v-21h19v-13h11v4h16v-35h9v1h12v17h10v3h11v-4h14v-4h15v-87h12v14h11v26h19v10h18v-7h19v41h20v21h11v-26h20v13h11v7h20v-13h16v31h15v23h12v12h11v-13h18v23h19v-37h19v37h7v3h16v27h14v31h13v29h14v13h8v38h11v32h9v26h19v-46h17v-6h8v-15h8v34h14v-36h14v30h20v7h8v-23h13v2h18v-39h19v-23h17v65h16v89h19v-20h15v-38h20v-64h9v7h12v28h19v-114h20v15h19v-21h18v-48h17v-25h14v-25h8v-7h8v-6h12v38h14v63h21v75h14v26h18v-27h14v48h10v50h19v-99h16v-183h16v36h18v57h19v45h13v2h20v-8h8v-17h10v-22h10v-14h9v-7h18v-47h15v-154h20v-70h12v-17h8v12h10v-9h10v-9h19v67h14v48h9v18h7v9h17v36h19v7h9v21h16v-11h14v54h9v-2h19v118h13v97h18v97h15v10h20v18h17v16h12v20" fill="none" stroke="#264478" stroke-width="24.0" stroke-linejoin="round"/>
<line x1="20.75" x2="37.75" y1="155.70" y2="155.70" stroke="#4472C4" stroke-width="2.2"/>
<text x="39.05" y="158.10" font-size="6.9" fill="#595959" stroke="#595959" stroke-width="0.12" textLength="42.6" lengthAdjust="spacingAndGlyphs">USDT-TRXVUK</text>
<line x1="86.05" x2="103.05" y1="155.70" y2="155.70" stroke="#ED7D31" stroke-width="2.2"/>
<text x="104.35" y="158.10" font-size="6.9" fill="#595959" stroke="#595959" stroke-width="0.12" textLength="43.2" lengthAdjust="spacingAndGlyphs">XAUR-TRXVUK</text>
<line x1="151.35" x2="168.35" y1="155.70" y2="155.70" stroke="#A5A5A5" stroke-width="2.2"/>
<text x="169.65" y="158.10" font-size="6.9" fill="#595959" stroke="#595959" stroke-width="0.12" textLength="38.0" lengthAdjust="spacingAndGlyphs">GLC-TRXVUK</text>
<line x1="216.65" x2="233.65" y1="155.70" y2="155.70" stroke="#FFC000" stroke-width="2.2"/>
<text x="234.95" y="158.10" font-size="6.9" fill="#595959" stroke="#595959" stroke-width="0.12" textLength="44.8" lengthAdjust="spacingAndGlyphs">MNTP-TRXVUK</text>
<line x1="20.75" x2="37.75" y1="169.60" y2="169.60" stroke="#5B9BD5" stroke-width="2.2"/>
<text x="39.05" y="172.00" font-size="6.9" fill="#595959" stroke="#595959" stroke-width="0.12" textLength="38.0" lengthAdjust="spacingAndGlyphs">XBX-TRXVUK</text>
<line x1="86.05" x2="103.05" y1="169.60" y2="169.60" stroke="#70AD47" stroke-width="2.2"/>
<text x="104.35" y="172.00" font-size="6.9" fill="#595959" stroke="#595959" stroke-width="0.12" textLength="39.2" lengthAdjust="spacingAndGlyphs">HGT-TRXVUK</text>
<line x1="151.35" x2="168.35" y1="169.60" y2="169.60" stroke="#264478" stroke-width="2.2"/>
<text x="169.65" y="172.00" font-size="6.9" fill="#595959" stroke="#595959" stroke-width="0.12" textLength="37.0" lengthAdjust="spacingAndGlyphs">DAI-TRXVUK</text>
</g>
<g transform="translate(0,540)">
<text x="150.30" y="18.2" text-anchor="middle" font-size="10.6" fill="#595959" stroke="#595959" stroke-width="0.3" textLength="196.3" lengthAdjust="spacingAndGlyphs">Conventional cryptocurrencies vs TRXVUS</text>
<line x1="44.10" x2="290.60" y1="32.05" y2="32.05" stroke="#E9E9E9" stroke-width="0.9"/>
<text x="37.40" y="34.35" text-anchor="end" font-size="7.3" fill="#595959" stroke="#595959" stroke-width="0.22" textLength="28.78" lengthAdjust="spacingAndGlyphs">0.250000</text>
<line x1="44.10" x2="290.60" y1="43.98" y2="43.98" stroke="#E9E9E9" stroke-width="0.9"/>
<text x="37.40" y="46.28" text-anchor="end" font-size="7.3" fill="#595959" stroke="#595959" stroke-width="0.22" textLength="28.78" lengthAdjust="spacingAndGlyphs">0.200000</text>
<line x1="44.10" x2="290.60" y1="55.92" y2="55.92" stroke="#E9E9E9" stroke-width="0.9"/>
<text x="37.40" y="58.22" text-anchor="end" font-size="7.3" fill="#595959" stroke="#595959" stroke-width="0.22" textLength="28.78" lengthAdjust="spacingAndGlyphs">0.150000</text>
<line x1="44.10" x2="290.60" y1="67.85" y2="67.85" stroke="#E9E9E9" stroke-width="0.9"/>
<text x="37.40" y="70.15" text-anchor="end" font-size="7.3" fill="#595959" stroke="#595959" stroke-width="0.22" textLength="28.78" lengthAdjust="spacingAndGlyphs">0.100000</text>
<line x1="44.10" x2="290.60" y1="79.78" y2="79.78" stroke="#E9E9E9" stroke-width="0.9"/>
<text x="37.40" y="82.08" text-anchor="end" font-size="7.3" fill="#595959" stroke="#595959" stroke-width="0.22" textLength="28.78" lengthAdjust="spacingAndGlyphs">0.050000</text>
<line x1="44.10" x2="290.60" y1="91.72" y2="91.72" stroke="#E9E9E9" stroke-width="0.9"/>
<text x="37.40" y="94.02" text-anchor="end" font-size="7.3" fill="#595959" stroke="#595959" stroke-width="0.22" textLength="28.78" lengthAdjust="spacingAndGlyphs">0.000000</text>
<line x1="44.10" x2="290.60" y1="103.65" y2="103.65" stroke="#E9E9E9" stroke-width="0.9"/>
<text x="37.40" y="105.95" text-anchor="end" font-size="7.3" fill="#595959" stroke="#595959" stroke-width="0.22" textLength="31.07" lengthAdjust="spacingAndGlyphs">-0.050000</text>
<line x1="44.10" x2="290.60" y1="115.58" y2="115.58" stroke="#E9E9E9" stroke-width="0.9"/>
<text x="37.40" y="117.88" text-anchor="end" font-size="7.3" fill="#595959" stroke="#595959" stroke-width="0.22" textLength="31.07" lengthAdjust="spacingAndGlyphs">-0.100000</text>
<line x1="44.10" x2="290.60" y1="127.52" y2="127.52" stroke="#E9E9E9" stroke-width="0.9"/>
<text x="37.40" y="129.82" text-anchor="end" font-size="7.3" fill="#595959" stroke="#595959" stroke-width="0.22" textLength="31.07" lengthAdjust="spacingAndGlyphs">-0.150000</text>
<line x1="44.10" x2="290.60" y1="139.45" y2="139.45" stroke="#E9E9E9" stroke-width="0.9"/>
<text x="37.40" y="141.75" text-anchor="end" font-size="7.3" fill="#595959" stroke="#595959" stroke-width="0.22" textLength="31.07" lengthAdjust="spacingAndGlyphs">-0.200000</text>
<text x="44.2" y="104.02" text-anchor="middle" font-size="6.9" fill="#595959" stroke="#595959" stroke-width="0.1">6-Apr-18</text>
<line x1="44.20" x2="44.20" y1="91.72" y2="94.72" stroke="#DDDDDD" stroke-width="0.8"/>
<text x="92.5" y="104.02" text-anchor="middle" font-size="6.9" fill="#595959" stroke="#595959" stroke-width="0.1">6-Apr-19</text>
<line x1="92.50" x2="92.50" y1="91.72" y2="94.72" stroke="#DDDDDD" stroke-width="0.8"/>
<text x="140.8" y="104.02" text-anchor="middle" font-size="6.9" fill="#595959" stroke="#595959" stroke-width="0.1">6-Apr-20</text>
<line x1="140.80" x2="140.80" y1="91.72" y2="94.72" stroke="#DDDDDD" stroke-width="0.8"/>
<text x="189.1" y="104.02" text-anchor="middle" font-size="6.9" fill="#595959" stroke="#595959" stroke-width="0.1">6-Apr-21</text>
<line x1="189.10" x2="189.10" y1="91.72" y2="94.72" stroke="#DDDDDD" stroke-width="0.8"/>
<text x="237.4" y="104.02" text-anchor="middle" font-size="6.9" fill="#595959" stroke="#595959" stroke-width="0.1">6-Apr-22</text>
<line x1="237.40" x2="237.40" y1="91.72" y2="94.72" stroke="#DDDDDD" stroke-width="0.8"/>
<text x="285.7" y="104.02" text-anchor="middle" font-size="6.9" fill="#595959" stroke="#595959" stroke-width="0.1">6-Apr-23</text>
<line x1="285.70" x2="285.70" y1="91.72" y2="94.72" stroke="#DDDDDD" stroke-width="0.8"/>
<path transform="scale(0.1)" d="M448 957v-27h18v30h18v28h16v8h20v14h7v11h9v8h7v-5h9v7h20v6h15v13h13v22h14v14h19v-47h15v-28h15v-8h9v-13h19v6h15v20h16v6h14v17h14v66h15v14h14v-19h9v-20h7v-37h11v-40h20v-33h20v-45h15v14h13v-11h20v-4h20v26h16v42h18v26h11v-18h14v-18h10v1h9v30h20v-9h20v-13h10v5h8v6h12v-24h13v-15h15v7h14v-26h7v41h20v-14h13h13v-10h8v26h21v21h7v-2h15v-5h20v-29h13v48h12v-18h14v-40h15v-19h8v-26h12v-45h11v-36h14v-22h10v45h16v55h9v31h13v26h15v39h7v16h12v-13h20v48h7h13v3h14v7h10v20h14v-25h10v-9h16v-5h20v7h12v-5h17v-9h17v8h20v24h12v22h9v9h7v4h20v50h8v-19h16v13h17v25h11v3h17v-13h7v-24h18v-2h15v-2h7v32h8v14h11h12v35h13v-2h18v-22h13v10h12v27h11v4h10v-30h14v5h18v1h19v49h10v-45h18v-1h13v-35h13v-12h14v-18h17v3h15v-54h19v17h18v-52h15v-28h12v-22h21v-63h15v-47h16v-40h14v34h10v-29h20v-49h17v-26h7v6h18v-39h14v-44h8v26h14v11h16v-23h15v2h16v2h17v53h10v-37h9v12h9v4h17v3h15v57h18v-26h18v-20h12v2h11v-24h15v5h11v-18h11v-13h21v-30h8v-9h9v12h19v-2h19v13h10v42h11v-4h14v2h9v7h9v-21h21v1h8v-16h17v-39h7v8h14v33h21v-11h12v-34h17v-26h12v-14h15v-30h16v5h8v7h15v-46h9v46h14v11h17v-17h8v-11h17v-15h21v-7h11v-14h8h10v-5h3v1" fill="none" stroke="#4472C4" stroke-width="24.0" stroke-linejoin="round"/>
<path transform="scale(0.1)" d="M448 950v7h18v10h18v13h16v7h20v15h7v13h9v-1h7v16h9v17h20h15v1h13v54h14v52h19v-60h15v-71h15v-14h9v-40h19v19h15v32h16v11h14v17h14v41h15v38h14v-21h9v-25h7v-48h11v-50h20v-50h20v-64h15v16h13v-23h20v-8h20v59h16v69h18v70h11v-19h14v10h10v-20h9v25h20v-38h20v-61h10v-5h8v16h12v7h13v12h15v17h14v-24h7v59h20v-4h13v-7h13v-6h8v14h21v23h7v-9h15v-1h20v-24h13v57h12v-30h14v-26h15v-19h8v-18h12v-7h11v-10h14v15h10v11h16v13h9v15h13v11h15v18h7v10h12v-19h20v41h7v27h13v3h14v2h10v7h14v-6h10v-4h16v6h20v16h12v-29h17v1h17v-18h20v-1h12v21h9v5h7v8h20v21h8v-26h16v19h17v-17h11v-8h17v-47h7v-6h18v-24h15v18h7v4h8v6h11v-7h12v39h13v-13h18v-24h13v13h12v19h11v7h10v-20h14v28h18v-7h19v41h10v-24h18v28h13v5h13v-3h14v-11h17v30h15v-26h19v-2h18v-71h15v-39h12v-39h21v-38h15v-26h16v-27h14v33h10v-46h20v-38h17v-89h7v12h18v-35h14v-41h8v22h14v-2h16v-44h15v5h16v8h17v65h10v-42h9v35h9v39h17v23h15v1h18v-25h18v-27h12v6h11v4h15v-18h11v-7h11v-14h21v-44h8v-8h9v16h19v-12h19v-32h10v24h11v-11h14v8h9v22h9v1h21v36h8v-8h17v-45h7v2h14v28h21v-18h12v-31h17v-38h12v-11h15v-24h16v-18h8v-14h15v-38h9v45h14v-3h17v-13h8v9h17v-29h21v-32h11v-15h8v7h10v18h3v1" fill="none" stroke="#ED7D31" stroke-width="24.0" stroke-linejoin="round"/>
<path transform="scale(0.1)" d="M448 905v32h18v-36h18v-36h16v-49h20v24h7v21h9v12h7v-1h9v14h20v-3h15v3h13v42h14v25h19v19h15v34h15v15h9v1h19v3h15v13h16v-6h14v8h14v52h15v-3h14v-45h9v-5h7v-3h11v-19h20v-2h20v-23h15v25h13v-19h20v-23h20v10h16v39h18v42h11v-28h14v-30h10v-7h9v27h20v-18h20v-52h10v23h8v35h12v-17h13v-14h15v-8h14v-46h7v33h20v-27h13v-4h13v6h8v10h21v29h7v21h15v-20h20v-21h13v59h12v-14h14v-14h15v-36h8v-9h12v-38h11v-23h14v31h10v-6h16v27h9v14h13v10h15v20h7v2h12v-9h20v48h7v7h13v-2h14v-20h10v24h14v-28h10v-9h16v-9h20v24h12v-16h17v12h17v11h20v29h12v10h9v-6h7v-10h20v30h8v-26h16v12h17v-13h11v-1h17v-65h7v-27h18v-54h15v-31h7v-9h8v13h11v-28h12v80h13v40h18v-6h13v26h12v32h11v-18h10v-27h14v-8h18v-50h19v45h10v-19h18v47h13v23h13h14h17v42h15v-20h19v10h18v-21h15v-23h12v-26h21v-43h15v-29h16v-40h14v25h10v-32h20v-14h17v-9h7v6h18v-19h14v-64h8v9h14v-10h16v-37h15v23h16v4h17v32h10v-46h9v26h9v25h17v-25h15v23h18v-42h18v-12h12v24h11v-7h15v8h11v-23h11v-10h21v-46h8v-7h9v28h19v-11h19v8h10v19h11v12h14v4h9v18h9v-7h21v1h8v-18h17v-41h7v8h14v15h21v-22h12v-20h17v-34h12v2h15v-30h16v-33h8v-10h15v-51h9v51h14v7h17v-21h8v12h17v10h21v11h11v9h8v28h10v44h3v5" fill="none" stroke="#A5A5A5" stroke-width="24.0" stroke-linejoin="round"/>
<path transform="scale(0.1)" d="M448 943v-2h18v26h18v31h16v8h20v7h7v2h9v4h7v-4h9v5h20v3h15v33h13v33h14v33h19v-81h15v-17h15v31h9v-9h19v18h15v5h16v-33h14v11h14v52h15v27h14v-10h9v-27h7v-40h11v-62h20v-42h20v-64h15v12h13v-20h20v2h20v38h16v69h18v70h11v14h14v12h10v-9h9v13h20v10h20v-9h10v19h8h12v-15h13v-24h15v-4h14v-47h7v44h20v-14h13v-9h13v-40h8v14h21v40h7v7h15v2h20v-23h13v66h12v-5h14v-43h15v-15h8v-39h12v-28h11v-39h14v31h10v27h16v36h9v35h13v107h15v-35h7v-45h12v-25h20v26h7v8h13v7h14v29h10v47h14v1h10v-5h16v2h20v14h12v-25h17v-16h17v-55h20v-39h12v52h9v16h7v6h20v54h8v-29h16v18h17v5h11v10h17v-93h7v-40h18v-65h15v16h7v-1h8v-6h11v-14h12v8h13v-30h18v-30h13v8h12v19h11v-14h10v-15h14v-20h18v-58h19v78h10v-32h18v26h13v-1h13v-34h14v19h17v68h15v-3h19v34h18v-9h15v-10h12v-22h21v-44h15v-32h16v-29h14v26h10v-22h20v-34h17v-29h7v13h18v-43h14v-51h8v36h14v7h16v-19h15v7h16v38h17v82h10v-22h9v18h9v29h17v3h15v34h18v-41h18v-45h12v-9h11v-15h15v18h11v-37h11v-21h21v-58h8v-19h9v37h19v-10h19v9h10v16h11v13h14v41h9v15h9v-8h21v-23h8v-25h17v-69h7v24h14v27h21v-36h12v-31h17v-32h12v-8h15v-36h16v-14h8v-12h15v-57h9v64h14v-12h17v-26h8v2h17v20h21v-2h11v7h8h10v23h3v6" fill="none" stroke="#FFC000" stroke-width="24.0" stroke-linejoin="round"/>
<path transform="scale(0.1)" d="M448 953v10h18v6h18v-3h16v10h20v7h7h9v19h7v4h9v10h20v11h15v21h13v22h14v8h19v-51h15v-19h15v-17h9v-11h19v6h15v29h16v6h14v25h14v45h15v21h14v-33h9v-27h7v-27h11v-39h20v-23h20v-26h15v16h13v-35h20v-20h20v53h16v53h18v48h11v-6h14v-10h10v-20h9v15h20v6h20v-19h10v20h8v20h12v-6h13v-6h15v-15h14v-40h7v39h20v-10h13v12h13h8v20h21v21h7v-15h15v-10h20v-25h13v53h12v-16h14v-37h15v-29h8v-16h12v-33h11v-25h14v18h10v7h16v25h9v1h13v36h15v19h7v7h12v-7h20v39h7v4h13v-9h14v4h10v31h14v-10h10v5h16v10h20v12h12v-21h17v-6h17v-21h20v21h12v14h9v-9h7v7h20v36h8v-48h16v14h17v-17h11v-23h17v-20h7v10h18v-29h15v-2h7v-2h8v13h11v-4h12v37h13v-7h18v-8h13v14h12v16h11v6h10v-34h14v-3h18v-35h19v24h10v-22h18v44h13v15h13v3h14v10h17v26h15v-44h19v14h18v-25h15v-20h12v-3h21v-40h15v-45h16v-13h14v-8h10v-36h20v-53h17v-36h7v15h18v-31h14v-62h8v20h14v16h16v-19h15v-3h16v7h17v62h10v-45h9v28h9v-2h17v9h15v27h18v-25h18v-11h12v27h11v-21h15v50h11v4h11v-19h21v-43h8v-19h9v11h19v-28h19v-3h10v14h11v-4h14v6h9v15h9v-5h21v-10h8v7h17v-45h7v-3h14v38h21v-11h12v-23h17v-40h12v-12h15v-44h16v-14h8v6h15v-54h9v51h14v-6h17v-9h8v-12h17v-6h21v-23h11v-20h8v-4h10v3h3v-22" fill="none" stroke="#5B9BD5" stroke-width="24.0" stroke-linejoin="round"/>
<path transform="scale(0.1)" d="M448 933v5h18v20h18v8h16v-40h20v-11h7v13h9v14h7v27h9v19h20v31h15v26h13v24h14v18h19v-79h15v-27h15v-41h9v-44h19v18h15v37h16v39h14v41h14v94h15v50h14v-30h9v-28h7v-32h11v-31h20v-17h20v-38h15v21h13v-28h20v-10h20v15h16v87h18v79h11v21h14v-3h10v-28h9v38h20v-41h20v-40h10v13h8v-3h12v4h13v6h15v-22h14v-46h7v45h20v-2h13v-5h13v7h8v11h21v10h7v-7h15v6h20v-15h13v66h12v-46h14v-37h15v-49h8v-25h12v-41h11v-21h14v-10h10v25h16v39h9h13v19h15v12h7v13h12v-9h20v62h7v13h13v31h14v43h10v-4h14v-42h10v-14h16v-12h20v27h12v-1h17v-12h17v-7h20v37h12v18h9v-3h7v-6h20v32h8v-17h16v43h17v3h11v19h17v-96h7v-26h18v-63h15v-29h7v-4h8v-11h11v-11h12v34h13v-7h18v-22h13v-13h12v-13h11v-22h10v-61h14v8h18v-13h19v49h10v-20h18v53h13v17h13v9h14v17h17v19h15v-25h19v25h18v-4h15v-9h12v-17h21v-41h15v-87h16v-85h14v39h10v-20h20v-83h17v-62h7v6h18v-15h14v-14h8v16h14v-41h16v-66h15v18h16v27h17v71h10v-33h9v24h9v-4h17v29h15v71h18v-108h18v-7h12v54h11v36h15v32h11v14h11v-41h21v-66h8v10h9v31h19v-1h19v-13h10v7h11v-29h14v20h9v38h9v-21h21v28h8v9h17v19h7v36h14v30h21h12v-5h17v-39h12v-3h15v-22h16v-23h8v-15h15v-31h9v53h14v-23h17v-35h8v-7h17v-2h21h11v-28h8v3h10v-1h3v-1" fill="none" stroke="#70AD47" stroke-width="24.0" stroke-linejoin="round"/>
<path transform="scale(0.1)" d="M448 945v-5h18v124h18v-14h16v8h20v7h7v4h9v11h7v2h9v13h20v15h15v37h13v13h14v-21h19v-69h15v-35h15v-10h9v-32h19v11h15v-3h16v31h14v48h14v103h15v64h14v9h9v-33h7v-44h11v-56h20v-24h20v-55h15v-19h13v-50h20v-10h20v56h16v210h18v34h11v-11h14v-87h10v-4h9v34h20v26h20v-21h10v33h8v18h12v9h13v-52h15v-37h14v-46h7v43h20v-32h13v21h13v-15h8v2h21v-12h7v-12h15v-25h20v-44h13v39h12v-24h14v-38h15v-31h8v-20h12v-75h11v-71h14v10h10v13h16v45h9v22h13v36h15v36h7v17h12v-19h20v37h7v2h13v6h14v18h10v28h14h10v7h16v8h20v12h12v-67h17v-86h17v-127h20v41h12v28h9v-2h7v8h20v68h8v-18h16v18h17h11v2h17v-23h7v-7h18v-7h15v19h7v10h8v8h11v33h12v40h13v20h18v13h13v28h12v53h11v6h10v-34h14v-25h18v-100h19v5h10v-43h18v30h13v30h13v2h14v-10h17v39h15v15h19v-52h18v-60h15v-37h12v-34h21v-29h15v-38h16v-25h14v94h10v27h20v-86h17v-52h7v19h18v-51h14v-78h8v7h14v1h16v-30h15v21h16v-9h17v55h10v-91h9v-27h9v16h17v21h15v94h18v50h18v14h12v15h11v-34h15v-29h11v-28h11v-40h21v-37h8v-19h9v7h19v-18h19v-73h10v-11h11v20h14v50h9v28h9v11h21v30h8v14h17v-50h7v-18h14v-12h21v-3h12v-24h17v-30h12v-35h15v-35h16v-16h8v-15h15v-24h9v67h14v15h17h8v7h17v25h21v30h11v6h8v17h10v20h3v5" fill="none" stroke="#264478" stroke-width="24.0" stroke-linejoin="round"/>
<line x1="32.00" x2="49.00" y1="155.70" y2="155.70" stroke="#4472C4" stroke-width="2.2"/>
<text x="50.30" y="158.10" font-size="6.9" fill="#595959" stroke="#595959" stroke-width="0.12" textLength="37.4" lengthAdjust="spacingAndGlyphs">BTC-TRXVUS</text>
<line x1="92.50" x2="109.50" y1="155.70" y2="155.70" stroke="#ED7D31" stroke-width="2.2"/>
<text x="110.80" y="158.10" font-size="6.9" fill="#595959" stroke="#595959" stroke-width="0.12" textLength="37.7" lengthAdjust="spacingAndGlyphs">ETH-TRXVUS</text>
<line x1="153.00" x2="170.00" y1="155.70" y2="155.70" stroke="#A5A5A5" stroke-width="2.2"/>
<text x="171.30" y="158.10" font-size="6.9" fill="#595959" stroke="#595959" stroke-width="0.12" textLength="38.7" lengthAdjust="spacingAndGlyphs">BNB-TRXVUS</text>
<line x1="213.50" x2="230.50" y1="155.70" y2="155.70" stroke="#FFC000" stroke-width="2.2"/>
<text x="231.80" y="158.10" font-size="6.9" fill="#595959" stroke="#595959" stroke-width="0.12" textLength="37.6" lengthAdjust="spacingAndGlyphs">XRP-TRXVUS</text>
<line x1="32.00" x2="49.00" y1="169.60" y2="169.60" stroke="#5B9BD5" stroke-width="2.2"/>
<text x="50.30" y="172.00" font-size="6.9" fill="#595959" stroke="#595959" stroke-width="0.12" textLength="39.0" lengthAdjust="spacingAndGlyphs">ADA-TRXVUS</text>
<line x1="92.50" x2="109.50" y1="169.60" y2="169.60" stroke="#70AD47" stroke-width="2.2"/>
<text x="110.80" y="172.00" font-size="6.9" fill="#595959" stroke="#595959" stroke-width="0.12" textLength="36.5" lengthAdjust="spacingAndGlyphs">LTC-TRXVUS</text>
<line x1="153.00" x2="170.00" y1="169.60" y2="169.60" stroke="#264478" stroke-width="2.2"/>
<text x="171.30" y="172.00" font-size="6.9" fill="#595959" stroke="#595959" stroke-width="0.12" textLength="40.0" lengthAdjust="spacingAndGlyphs">XMR-TRXVUS</text>
</g>
<g transform="translate(600,540)">
<text x="149.80" y="18.2" text-anchor="middle" font-size="10.6" fill="#595959" stroke="#595959" stroke-width="0.3" textLength="196.6" lengthAdjust="spacingAndGlyphs">Asset-backed cryptocurrencies vs TRXVUS</text>
<line x1="43.60" x2="290.10" y1="32.05" y2="32.05" stroke="#E9E9E9" stroke-width="0.9"/>
<text x="36.90" y="34.35" text-anchor="end" font-size="7.3" fill="#595959" stroke="#595959" stroke-width="0.22" textLength="28.78" lengthAdjust="spacingAndGlyphs">0.250000</text>
<line x1="43.60" x2="290.10" y1="42.79" y2="42.79" stroke="#E9E9E9" stroke-width="0.9"/>
<text x="36.90" y="45.09" text-anchor="end" font-size="7.3" fill="#595959" stroke="#595959" stroke-width="0.22" textLength="28.78" lengthAdjust="spacingAndGlyphs">0.200000</text>
<line x1="43.60" x2="290.10" y1="53.53" y2="53.53" stroke="#E9E9E9" stroke-width="0.9"/>
<text x="36.90" y="55.83" text-anchor="end" font-size="7.3" fill="#595959" stroke="#595959" stroke-width="0.22" textLength="28.78" lengthAdjust="spacingAndGlyphs">0.150000</text>
<line x1="43.60" x2="290.10" y1="64.27" y2="64.27" stroke="#E9E9E9" stroke-width="0.9"/>
<text x="36.90" y="66.57" text-anchor="end" font-size="7.3" fill="#595959" stroke="#595959" stroke-width="0.22" textLength="28.78" lengthAdjust="spacingAndGlyphs">0.100000</text>
<line x1="43.60" x2="290.10" y1="75.01" y2="75.01" stroke="#E9E9E9" stroke-width="0.9"/>
<text x="36.90" y="77.31" text-anchor="end" font-size="7.3" fill="#595959" stroke="#595959" stroke-width="0.22" textLength="28.78" lengthAdjust="spacingAndGlyphs">0.050000</text>
<line x1="43.60" x2="290.10" y1="85.75" y2="85.75" stroke="#E9E9E9" stroke-width="0.9"/>
<text x="36.90" y="88.05" text-anchor="end" font-size="7.3" fill="#595959" stroke="#595959" stroke-width="0.22" textLength="28.78" lengthAdjust="spacingAndGlyphs">0.000000</text>
<line x1="43.60" x2="290.10" y1="96.49" y2="96.49" stroke="#E9E9E9" stroke-width="0.9"/>
<text x="36.90" y="98.79" text-anchor="end" font-size="7.3" fill="#595959" stroke="#595959" stroke-width="0.22" textLength="31.07" lengthAdjust="spacingAndGlyphs">-0.050000</text>
<line x1="43.60" x2="290.10" y1="107.23" y2="107.23" stroke="#E9E9E9" stroke-width="0.9"/>
<text x="36.90" y="109.53" text-anchor="end" font-size="7.3" fill="#595959" stroke="#595959" stroke-width="0.22" textLength="31.07" lengthAdjust="spacingAndGlyphs">-0.100000</text>
<line x1="43.60" x2="290.10" y1="117.97" y2="117.97" stroke="#E9E9E9" stroke-width="0.9"/>
<text x="36.90" y="120.27" text-anchor="end" font-size="7.3" fill="#595959" stroke="#595959" stroke-width="0.22" textLength="31.07" lengthAdjust="spacingAndGlyphs">-0.150000</text>
<line x1="43.60" x2="290.10" y1="128.71" y2="128.71" stroke="#E9E9E9" stroke-width="0.9"/>
<text x="36.90" y="131.01" text-anchor="end" font-size="7.3" fill="#595959" stroke="#595959" stroke-width="0.22" textLength="31.07" lengthAdjust="spacingAndGlyphs">-0.200000</text>
<line x1="43.60" x2="290.10" y1="139.45" y2="139.45" stroke="#E9E9E9" stroke-width="0.9"/>
<text x="36.90" y="141.75" text-anchor="end" font-size="7.3" fill="#595959" stroke="#595959" stroke-width="0.22" textLength="31.07" lengthAdjust="spacingAndGlyphs">-0.250000</text>
<text x="43.7" y="98.05" text-anchor="middle" font-size="6.9" fill="#595959" stroke="#595959" stroke-width="0.1">6-Apr-18</text>
<line x1="43.70" x2="43.70" y1="85.75" y2="88.75" stroke="#DDDDDD" stroke-width="0.8"/>
<text x="92.0" y="98.05" text-anchor="middle" font-size="6.9" fill="#595959" stroke="#595959" stroke-width="0.1">6-Apr-19</text>
<line x1="92.00" x2="92.00" y1="85.75" y2="88.75" stroke="#DDDDDD" stroke-width="0.8"/>
<text x="140.3" y="98.05" text-anchor="middle" font-size="6.9" fill="#595959" stroke="#595959" stroke-width="0.1">6-Apr-20</text>
<line x1="140.30" x2="140.30" y1="85.75" y2="88.75" stroke="#DDDDDD" stroke-width="0.8"/>
<text x="188.6" y="98.05" text-anchor="middle" font-size="6.9" fill="#595959" stroke="#595959" stroke-width="0.1">6-Apr-21</text>
<line x1="188.60" x2="188.60" y1="85.75" y2="88.75" stroke="#DDDDDD" stroke-width="0.8"/>
<text x="236.9" y="98.05" text-anchor="middle" font-size="6.9" fill="#595959" stroke="#595959" stroke-width="0.1">6-Apr-22</text>
<line x1="236.90" x2="236.90" y1="85.75" y2="88.75" stroke="#DDDDDD" stroke-width="0.8"/>
<text x="285.2" y="98.05" text-anchor="middle" font-size="6.9" fill="#595959" stroke="#595959" stroke-width="0.1">6-Apr-23</text>
<line x1="285.20" x2="285.20" y1="85.75" y2="88.75" stroke="#DDDDDD" stroke-width="0.8"/>
<path transform="scale(0.1)" d="M442 858v-25h9v-40h15v-17h11v38h20v-4h15v-10h10v-5h8v-6h15v-25h8v-1h8v33h20v3h20v16h18v-16h15v-44h9v-13h17v-1h11v9h17v15h18v5h14v-47h14v3h15v2h15v-25h11v26h19v17h9v1h18v21h16v-16h19h17v-3h10v14h10v14h7v54h15v-23h13v-3h20v11h10v18h12v1h9v-9h20v25h13v-7h9v11h15v-3h19v17h16v-23h15v-32h8v28h8v22h19v34h20v-20h13v-6h15v-19h8v-24h15v6h14v-24h21v-36h8v-14h19v-13h21v17h21v25h21v-16h10v1h9v25h13v-18h18v31h18v21h9v-2h7v17h20v31h10v44h20v21h15v32h15v26h13v4h18v1h13v-21h11v21h14v19h18v23h12v42h12v23h14v-62h14v2h10v-5h14v-12h19v-5h13v-2h19v-20h9v15h12v-26h9v-20h16v-4h18v17h9v2h14v11h17v-4h9v1h19v5h13v-3h13v17h19v28h14v-6h18v-23h16v-17h11v-16h18v-16h18v25h7v16h12v-1h14v17h20v24h12v17h17v-9h10v26h18v-17h10v-45h21v-13h12v-34h10v-5h10v-15h19v-2h11v1h8v-27h10v-39h11v42h13v-3h18v-14h15v14h14v-5h8v-20h7v5h14v13h17h13v4h12v15h12v17h19v13h16v9h18v-14h16v-29h9v1h9v16h14v-43h10v-16h13v6h18v-51h14v-18h17v-36h19v-35h7v-5h16v3h21v7h17v51h21v-30h13v24h17v26h10v-5h19v-26h21v-40h11v20h12v-15h14v-10h21v-27h8v-5h15v-25h12v-20h20v-3h12v18h20v-7h21v8h12v13h12h11v-34" fill="none" stroke="#4472C4" stroke-width="24.0" stroke-linejoin="round"/>
<path transform="scale(0.1)" d="M442 872v-1h9v-16h15v38h11v36h20v-25h15v10h10v3h8v-19h15v-31h8v19h8v-31h20v-45h20v-10h18v-25h15v-10h9v-18h17h11v-15h17v34h18v6h14v-18h14v-25h15v3h15v7h11v15h19v-6h9v-1h18v3h16v-24h19v26h17v-42h10v-14h10v10h7v37h15v-2h13v14h20v48h10v51h12v12h9v-9h20v3h13v-3h9v-10h15v-8h19v-18h16v55h15v1h8v44h8v-11h19v12h20v9h13v9h15v19h8v-5h15v-4h14v5h21v-3h8v1h19v10h21v12h21v31h21v-22h10v-29h9v23h13v-3h18v-14h18v6h9v18h7v-4h20v12h10v24h20v13h15v14h15v3h13v25h18v39h13v-27h11v28h14v-28h18v-9h12v-48h12v-41h14v-44h14v-10h10v-6h14v-21h19v-92h13v-9h19v23h9v31h12v-48h9v-6h16v-63h18v40h9v-1h14v27h17v-23h9v22h19v-19h13v-8h13v4h19v24h14v-12h18v-21h16v-2h11v-1h18v-24h18v29h7v24h12v30h14v32h20v14h12v-26h17v1h10v24h18v-16h10v-9h21v-52h12v-71h10v-22h10v-24h19v16h11v22h8v6h10v29h11v6h13v-10h18v-11h15v-16h14v-12h8v-9h7v15h14v9h17v-11h13v20h12v31h12v38h19v38h16v29h18v-21h16v-22h9v12h9v-23h14v18h10v35h13v3h18v-20h14v-7h17v-10h19v-6h7v8h16v32h21v2h17v-29h21v31h13v44h17v3h10v-12h19v-22h21v-49h11v19h12v-32h14h21v-31h8v-16h15v10h12v-29h20v5h12v9h20v29h21v5h12v15h12v5h11v45" fill="none" stroke="#ED7D31" stroke-width="24.0" stroke-linejoin="round"/>
<path transform="scale(0.1)" d="M442 822v8h9v-3h15v19h11v21h20v-16h15v10h10v11h8v-5h15v48h8v-9h8v11h20v59h20v31h18h15v-24h9v-31h17v-34h11v64h17v-2h18v20h14v52h14v42h15v22h15v-76h11v-38h19v-39h9v8h18v3h16v-12h19v-7h17v-55h10v16h10v-3h7v27h15v11h13v-7h20v42h10v27h12v22h9v15h20v10h13v13h9v-21h15v-33h19v29h16v-8h15v-49h8v8h8v-3h19v-16h20v-12h13v-4h15v28h8v-45h15v-7h14v-10h21v-12h8v-5h19v-32h21v1h21v-13h21v-20h10v-7h9v1h13v-13h18v-58h18v17h9v24h7v38h20v-5h10v-9h20v12h15v18h15v-7h13v-41h18v-42h13v-25h11v-6h14v19h18v42h12v17h12v-23h14v34h14v-32h10v-23h14v-39h19v-25h13v9h19v6h9v8h12v12h9v28h16v-1h18v1h9v-50h14v-36h17v-4h9v-5h19v15h13v-22h13v13h19v22h14v15h18v3h16v19h11v13h18v24h18v-22h7h12v-1h14h20v-13h12v10h17v-23h10v31h18v-42h10v-29h21v32h12v-35h10v-5h10v-24h19v20h11v-6h8v-20h10v-6h11v-34h13v32h18v18h15v-4h14v-40h8v25h7v-35h14v-4h17v-5h13v-4h12v-7h12v33h19v4h16v51h18v-20h16v33h9v5h9v-1h14h10h13v-34h18v-48h14v28h17v12h19v-26h7v-14h16v-11h21v6h17v62h21v12h13v-18h17v-17h10v23h19v-7h21v1h11v22h12v8h14v-32h21v-41h8v4h15v-26h12v-1h20v-18h12v10h20v17h21v-29h12v-34h12v-18h11v-5" fill="none" stroke="#A5A5A5" stroke-width="24.0" stroke-linejoin="round"/>
<path transform="scale(0.1)" d="M442 763v21h9v-9h15v16h11v1h20v-81h15v-62h10v90h8v16h15v8h8v7h8v7h20v-7h20v49h18v-9h15v-3h9v-27h17v1h11v26h17v5h18v25h14v39h14v3h15v13h15v-13h11v40h19v-27h9v-9h18v31h16v4h19v25h17v-11h10v9h10v-27h7v44h15v21h13v64h20v48h10v51h12v-22h9v-74h20v-41h13v-13h9v-21h15v-37h19v-13h16h15v-35h8v16h8v4h19v-44h20v-30h13v3h15v33h8v-43h15v13h14v-23h21v20h8v3h19v103h21v66h21v22h21v44h10v-17h9v37h13v5h18v18h18v-42h9v-2h7v-17h20v-19h10v36h20v-8h15v-9h15v-25h13v-47h18v-32h13v-51h11v-28h14v-6h18v19h12h12v24h14v2h14v45h10v-6h14v5h19v5h13v11h19v-7h9v-2h12v-58h9v-5h16v-53h18v-3h9v2h14v23h17v30h9v14h19v-1h13v13h13v-10h19v-1h14v-10h18v22h16v16h11v8h18v-17h18v-18h7v-8h12v-15h14v9h20v-5h12v-1h17v-17h10v-2h18v-12h10v-16h21v13h12v-23h10v-4h10v-57h19v-60h11v-49h8v-48h10v21h11v50h13v26h18v23h15v34h14v14h8v12h7v14h14v9h17v9h13v5h12v2h12v10h19v-23h16v46h18v-15h16v-21h9v6h9v5h14v15h10v12h13v19h18v-6h14v-12h17v-2h19v-53h7v38h16v56h21v44h17v25h21v28h13v-22h17v-28h10v-35h19v-14h21v-68h11v8h12v-13h14v-17h21v-68h8v-15h15v17h12v-11h20v-33h12v14h20v47h21v148h12v18h12v-58h11v-44" fill="none" stroke="#FFC000" stroke-width="24.0" stroke-linejoin="round"/>
<path transform="scale(0.1)" d="M442 843v-6h9v-18h15v30h11v-8h20v23h15v-13h10v11h8v-16h15v-26h8v-14h8v16h20v12h20v61h18v5h15v5h9v22h17v-37h11h17v-27h18v18h14v12h14v6h15v44h15v33h11v16h19v-54h9v5h18v-14h16v-22h19v-34h17v-56h10v-15h10h7v8h15v2h13v-28h20v2h10v35h12v-31h9v26h20v-5h13v27h9v-56h15v-16h19v69h16v57h15v-28h8v59h8v-4h19v-38h20v-10h13h15v6h8v-31h15v42h14v35h21v54h8v44h19v27h21v-75h21v-71h21v4h10v25h9v36h13v-22h18v-13h18v-80h9v36h7v-2h20v52h10v18h20v20h15v-9h15v-20h13v9h18v-24h13v-37h11v-6h14v-23h18v-1h12v-23h12v41h14v7h14v-11h10v-4h14v-9h19v3h13v13h19v-33h9v-9h12v-66h9h16v-30h18v21h9v4h14v25h17v44h9v-8h19v-9h13v7h13v3h19v27h14v14h18v-6h16v31h11v-1h18v11h18v-20h7v-2h12h14v19h20v-53h12v2h17v-12h10v-21h18v-40h10v-26h21v-35h12v-61h10v2h10v-53h19v11h11v-33h8v-19h10v-44h11v-30h13v-21h18v20h15v4h14v-39h8v-16h7v24h14v28h17v23h13v19h12v14h12v12h19v19h16v13h18v17h16v36h9v13h9v50h14v21h10v5h13v-1h18v-31h14v-17h17v-3h19v34h7v1h16v19h21v45h17v4h21v15h13v-7h17v-2h10v24h19v-18h21v-93h11v15h12v-22h14v-33h21v-36h8v-1h15v-19h12v-25h20v2h12v-17h20v73h21v56h12v-14h12v-21h11v-20" fill="none" stroke="#5B9BD5" stroke-width="24.0" stroke-linejoin="round"/>
<path transform="scale(0.1)" d="M442 829v5h9v-34h15v-9h11v-19h20v-28h15v-34h10v43h8v5h15v-31h8v-37h8v34h20v29h20v-92h18v8h15v11h9v-4h17v-40h11v30h17v54h18v11h14v14h14v-22h15v14h15v35h11v176h19v-93h9v-3h18v-27h16v-19h19v-32h17v-42h10v-22h10v93h7v93h15v14h13v-8h20v28h10v38h12v2h9v19h20v-57h13v-37h9v-31h15v-53h19v39h16v62h15v26h8v47h8v4h19v-15h20v-29h13v-26h15v10h8v-11h15v-12h14v-9h21v16h8v5h19v2h21v-24h21v-47h21v32h10v12h9v16h13v17h18v30h18v6h9h7v-9h20v-14h10v43h20v-4h15v21h15v15h13v-20h18v-11h13v-48h11v28h14v-12h18v17h12v15h12v16h14v-13h14v34h10h14v40h19v-2h13v-9h19h9v-8h12v-68h9v-49h16v-8h18v35h9v32h14v35h17v10h9v-9h19v-4h13v-14h13v1h19v26h14v-20h18v-22h16v-49h11v-21h18v-23h18v-39h7v-6h12v-51h14v27h20v7h12v-13h17v-6h10v38h18v-25h10v29h21v54h12v-14h10v44h10v-11h19h11v3h8v-16h10v67h11v-38h13v-11h18v-39h15v-49h14v-68h8v-12h7v15h14v15h17v19h13v22h12v6h12v69h19v-5h16v5h18v-53h16v-8h9v-27h9v-25h14v-24h10v-9h13v-6h18v-25h14v-16h17v-35h19v6h7v1h16v-3h21h17v20h21v40h13v-46h17v10h10v-9h19v-24h21v-7h11v31h12v-5h14v-43h21v-88h8v-21h15v1h12v-9h20v13h12v-51h20v-42h21v43h12v-2h12v-3h11v-23" fill="none" stroke="#70AD47" stroke-width="24.0" stroke-linejoin="round"/>
<path transform="scale(0.1)" d="M442 837v-1h9v31h15v13h11v-62h20v-35h15v-34h10v-9h8v18h15v10h8v-2h8v20h20v-32h20v-26h18v-8h15v-19h9v-18h17v18h11v-5h17v3h18v-5h14v-20h14v-24h15v23h15v22h11v-4h19v35h9v16h18v11h16v-84h19v-41h17v-22h10v21h10v-38h7v-1h15v-37h13v67h20v18h10v23h12v6h9v-17h20v-16h13v24h9v-9h15v26h19v21h16v2h15v-37h8v41h8v16h19v-6h20v-10h13v-20h15v10h8v-2h15v30h14v35h21v12h8v10h19v19h21v22h21v16h21v-5h10v4h9v8h13v13h18v25h18v58h9v-12h7v-13h20v-24h10v12h20v24h15v54h15v21h13v5h18v13h13v-6h11v2h14v-14h18v41h12v34h12v-9h14v-38h14v-19h10v-55h14v13h19v27h13v41h19v3h9v10h12v14h9v38h16v-26h18v11h9v-24h14v14h17v-7h9v15h19h13v25h13v-8h19v-6h14v-42h18v-14h16v-5h11v1h18v45h18v22h7v-7h12v22h14v3h20v-20h12v-31h17v-13h10v14h18v-57h10v-68h21v17h12v-3h10v7h10v-40h19v-4h11v-14h8v41h10v42h11v49h13v77h18v74h15v-10h14v-34h8v15h7v14h14v47h17v54h13v10h12v-23h12v-42h19v-30h16v27h18v-10h16v-23h9v-29h9v7h14v-16h10v-6h13v-40h18v18h14v22h17v-13h19v45h7v7h16v38h21v30h17v-93h21v-69h13v-28h17v-72h10v-52h19v9h21v25h11v34h12v44h14v56h21v3h8v-2h15v-12h12v-65h20v73h12v27h20v-92h21v-10h12v2h12v-24h11v-14" fill="none" stroke="#264478" stroke-width="24.0" stroke-linejoin="round"/>
<line x1="22.00" x2="39.00" y1="155.70" y2="155.70" stroke="#4472C4" stroke-width="2.2"/>
<text x="40.30" y="158.10" font-size="6.9" fill="#595959" stroke="#595959" stroke-width="0.12" textLength="42.1" lengthAdjust="spacingAndGlyphs">USDT-TRXVUS</text>
<line x1="87.00" x2="104.00" y1="155.70" y2="155.70" stroke="#ED7D31" stroke-width="2.2"/>
<text x="105.30" y="158.10" font-size="6.9" fill="#595959" stroke="#595959" stroke-width="0.12" textLength="42.7" lengthAdjust="spacingAndGlyphs">XAUR-TRXVUS</text>
<line x1="152.00" x2="169.00" y1="155.70" y2="155.70" stroke="#A5A5A5" stroke-width="2.2"/>
<text x="170.30" y="158.10" font-size="6.9" fill="#595959" stroke="#595959" stroke-width="0.12" textLength="37.6" lengthAdjust="spacingAndGlyphs">GLC-TRXVUS</text>
<line x1="217.00" x2="234.00" y1="155.70" y2="155.70" stroke="#FFC000" stroke-width="2.2"/>
<text x="235.30" y="158.10" font-size="6.9" fill="#595959" stroke="#595959" stroke-width="0.12" textLength="44.4" lengthAdjust="spacingAndGlyphs">MNTP-TRXVUS</text>
<line x1="22.00" x2="39.00" y1="169.60" y2="169.60" stroke="#5B9BD5" stroke-width="2.2"/>
<text x="40.30" y="172.00" font-size="6.9" fill="#595959" stroke="#595959" stroke-width="0.12" textLength="37.6" lengthAdjust="spacingAndGlyphs">XBX-TRXVUS</text>
<line x1="87.00" x2="104.00" y1="169.60" y2="169.60" stroke="#70AD47" stroke-width="2.2"/>
<text x="105.30" y="172.00" font-size="6.9" fill="#595959" stroke="#595959" stroke-width="0.12" textLength="38.7" lengthAdjust="spacingAndGlyphs">HGT-TRXVUS</text>
<line x1="152.00" x2="169.00" y1="169.60" y2="169.60" stroke="#264478" stroke-width="2.2"/>
<text x="170.30" y="172.00" font-size="6.9" fill="#595959" stroke="#595959" stroke-width="0.12" textLength="36.6" lengthAdjust="spacingAndGlyphs">DAI-TRXVUS</text>
</g>
</g></svg></body></html>
